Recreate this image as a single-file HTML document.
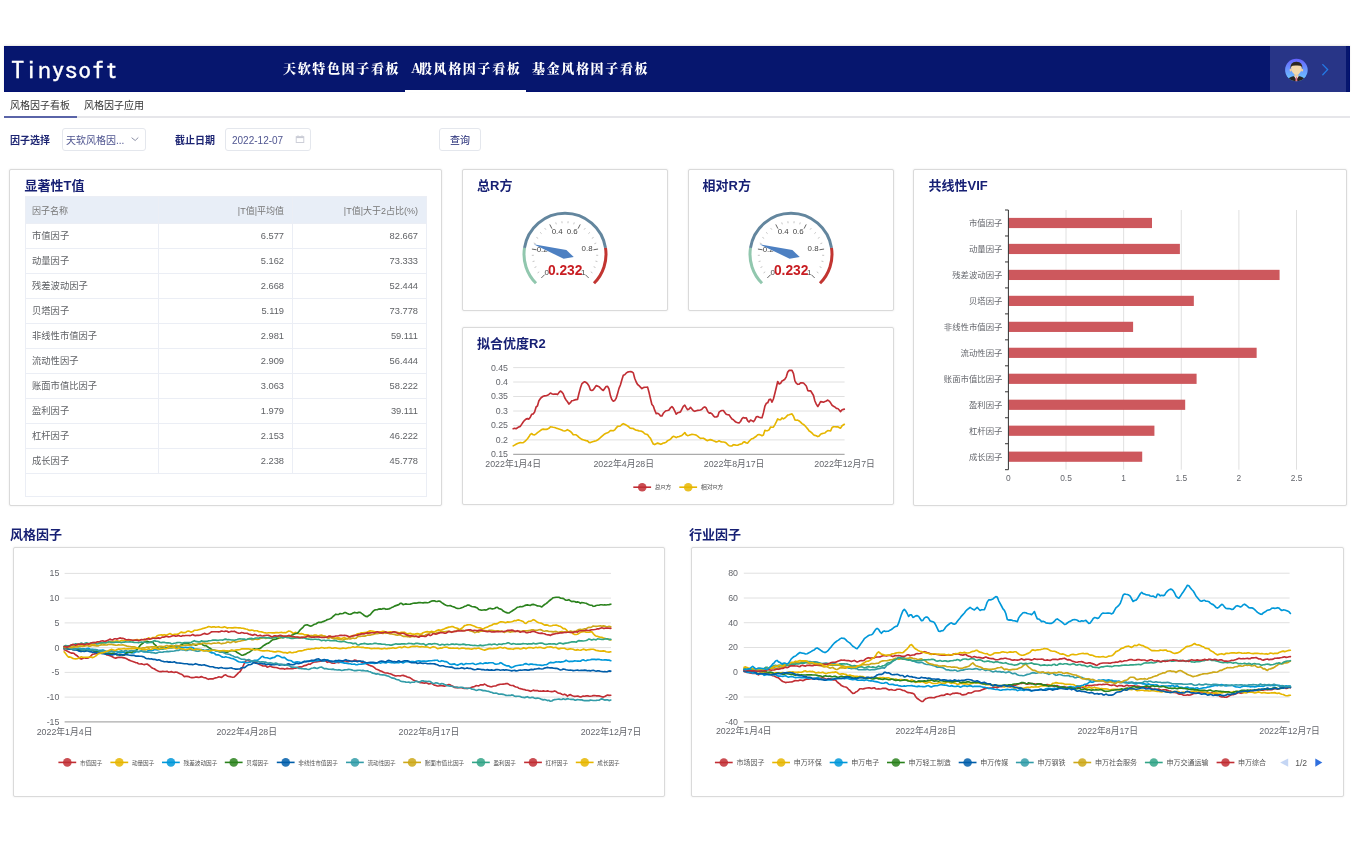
<!DOCTYPE html>
<html lang="zh-CN">
<head>
<meta charset="utf-8">
<title>Tinysoft</title>
<style>
*{box-sizing:border-box;margin:0;padding:0}
html,body{width:1352px;height:856px;overflow:hidden;background:#fff}
body{position:relative;font-family:"Liberation Sans","Noto Sans CJK SC",sans-serif;color:#333}
.abs{position:absolute}
#hdr{left:4px;top:46px;width:1346px;height:46px;background:#06166e;border:1px solid #021070;box-shadow:0 -1px 1.5px rgba(110,100,80,0.15)}
#logo{left:11px;top:55.5px;-webkit-text-stroke:0.35px #fff;font-family:"IPAGothic","Liberation Mono",monospace;font-size:26.8px;color:#fff;line-height:32px;letter-spacing:0;transform:scaleY(0.9);transform-origin:0 0}
.nav{top:57.8px;font-family:"Noto Serif CJK SC",serif;font-weight:900;font-size:13px;color:#fff;line-height:20px;letter-spacing:1.65px;white-space:nowrap}
#navline{left:405px;top:90px;width:121px;height:2px;background:#fff}
#user{left:1270px;top:46px;width:76px;height:46px;background:#283587}
.tab{top:97.5px;font-size:10px;line-height:16px;color:#333;white-space:nowrap}
#tabline{left:4px;top:116px;width:1346px;height:2px;background:#e6e6ea}
#tabact{left:4px;top:115.5px;width:73px;height:2px;background:#5a64a8}
.lbl{top:132.5px;font-size:10px;line-height:16px;font-weight:bold;color:#1c2472;white-space:nowrap}
.inp{top:128px;height:23px;border:1px solid #e4e7ed;border-radius:3px;background:#fff;font-size:10px;color:#4f5590;line-height:21px;padding-top:0.7px;white-space:nowrap}
.card{background:#fff;border:1px solid #dadada;border-radius:2px;box-shadow:0 0 2px rgba(0,0,0,.10)}
.ctitle{font-size:13px;font-weight:bold;color:#172074;line-height:16px;white-space:nowrap}
#tt{left:25px;top:196px;width:402px;border-collapse:collapse;font-size:9.3px;color:#606266;table-layout:fixed}
#tt td{border:1px solid #ebeef5;height:25px;padding:0 8px;text-align:right;white-space:nowrap;line-height:12px}
#tt td:first-child{text-align:left;padding-left:6px;width:133px}
#tt td:nth-child(2){width:134px}
#tt tr.th td{height:27px;background:#e8eef7;color:#777;font-size:9px;padding-top:1px}
</style>
</head>
<body>
<div id="hdr" class="abs"></div>
<div id="logo" class="abs">Tinysoft</div>
<div class="abs nav" style="left:283px">天软特色因子看板</div>
<div class="abs nav" style="left:411px"><span style="letter-spacing:-2px">A</span>股风格因子看板</div>
<div class="abs nav" style="left:532px">基金风格因子看板</div>
<div id="navline" class="abs"></div>
<div id="user" class="abs"></div>
<svg class="abs" style="left:1284px;top:58px" width="24" height="24" viewBox="0 0 24 24"><defs><linearGradient id="ag" x1="0" y1="0" x2="0" y2="1"><stop offset="0" stop-color="#6561ff"/><stop offset="1" stop-color="#6fd0ff"/></linearGradient><clipPath id="ac"><circle cx="12.4" cy="12" r="11.3"/></clipPath></defs><circle cx="12.4" cy="12" r="11.3" fill="url(#ag)"/><g clip-path="url(#ac)"><path d="M3.5,24 Q4,19 9,18.2 L15.8,18.2 Q20.8,19 21.3,24 Z" fill="#2a2522"/><path d="M10.2,18 L14.6,18 L13.4,20.5 L11.4,20.5 Z" fill="#f4f4f4"/><path d="M11.8,18.6 L13,18.6 L13.4,23.5 L12.4,24 L11.4,23.5 Z" fill="#e8788a"/></g><rect x="10.4" y="14" width="4" height="4.6" fill="#e9c99b"/><ellipse cx="6.7" cy="12" rx="1.1" ry="1.5" fill="#efcfa2"/><ellipse cx="18.1" cy="12" rx="1.1" ry="1.5" fill="#efcfa2"/><path d="M6.9,6.5 Q6.9,16.7 12.4,16.8 Q17.9,16.7 17.9,6.5 Z" fill="#f3d8ab"/><path d="M6.5,11.5 Q5.6,3.6 12.4,3.7 Q19.2,3.6 18.3,11.5 L17.7,8.8 Q16.8,7.3 12.4,7.5 Q8,7.3 7.1,8.8 Z" fill="#2b2520"/></svg><svg class="abs" style="left:1320px;top:62px" width="10" height="16" viewBox="0 0 10 16"><path d="M2.8,2.6 L7.6,7.6 L2.8,12.8" stroke="#2379e6" stroke-width="1.35" fill="none" stroke-linecap="round"/></svg>

<div class="abs tab" style="left:10px">风格因子看板</div>
<div class="abs tab" style="left:84px">风格因子应用</div>
<div id="tabline" class="abs"></div>
<div id="tabact" class="abs"></div>

<div class="abs lbl" style="left:10px">因子选择</div>
<div class="abs inp" style="left:62px;width:84px;padding-left:3px">天软风格因...</div>
<svg class="abs" style="left:129px;top:134px" width="12" height="10" viewBox="0 0 12 10"><path d="M2.6,3.7 L6.2,6.5 L9.3,3.5" stroke="#8c90a6" stroke-width="1" fill="none"/></svg>
<div class="abs lbl" style="left:175px">截止日期</div>
<div class="abs inp" style="left:225px;width:86px;padding-left:6px">2022-12-07</div>
<svg class="abs" style="left:294px;top:133px" width="12" height="12" viewBox="0 0 12 12"><rect x="2.2" y="3.7" width="7.6" height="5.8" stroke="#c8cad4" stroke-width="0.9" fill="none"/><line x1="2.2" y1="4.4" x2="9.8" y2="4.4" stroke="#c8cad4" stroke-width="1.4"/><line x1="4" y1="2.2" x2="4" y2="3.7" stroke="#c8cad4" stroke-width="0.8"/><line x1="8" y1="2.2" x2="8" y2="3.7" stroke="#c8cad4" stroke-width="0.8"/></svg>
<div class="abs inp" style="left:439px;width:42px;text-align:center;color:#1c2472">查询</div>

<div class="abs card" style="left:9px;top:169px;width:433px;height:337px"></div>
<div class="abs card" style="left:462px;top:169px;width:206px;height:142px"></div>
<div class="abs card" style="left:688px;top:169px;width:206px;height:142px"></div>
<div class="abs card" style="left:462px;top:327px;width:432px;height:178px"></div>
<div class="abs card" style="left:913px;top:169px;width:434px;height:337px"></div>
<div class="abs ctitle" style="left:24.5px;top:177.8px">显著性T值</div>
<div class="abs ctitle" style="left:477px;top:178px">总R方</div>
<div class="abs ctitle" style="left:702.5px;top:178px">相对R方</div>
<div class="abs ctitle" style="left:928.5px;top:178px">共线性VIF</div>
<div class="abs ctitle" style="left:477px;top:335.5px">拟合优度R2</div>
<table id="tt" class="abs"><tr class="th"><td>因子名称</td><td>|T值|平均值</td><td>|T值|大于2占比(%)</td></tr><tr><td>市值因子</td><td>6.577</td><td>82.667</td></tr><tr><td>动量因子</td><td>5.162</td><td>73.333</td></tr><tr><td>残差波动因子</td><td>2.668</td><td>52.444</td></tr><tr><td>贝塔因子</td><td>5.119</td><td>73.778</td></tr><tr><td>非线性市值因子</td><td>2.981</td><td>59.111</td></tr><tr><td>流动性因子</td><td>2.909</td><td>56.444</td></tr><tr><td>账面市值比因子</td><td>3.063</td><td>58.222</td></tr><tr><td>盈利因子</td><td>1.979</td><td>39.111</td></tr><tr><td>杠杆因子</td><td>2.153</td><td>46.222</td></tr><tr><td>成长因子</td><td>2.238</td><td>45.778</td></tr></table><div class="abs" style="left:25px;top:472px;width:402px;height:25px;border:1px solid #ebeef5;border-top:none"></div>
<svg class="abs" style="left:462.4px;top:169px" width="206" height="141" viewBox="0 0 206 141" font-family="Liberation Sans, sans-serif"><path d="M74.01,114.29 A41.0,41.0 0 0 1 62.50,78.89" stroke="#91c7ae" stroke-width="3" fill="none"/><path d="M62.50,78.89 A41.0,41.0 0 0 1 143.50,78.89" stroke="#63869e" stroke-width="3" fill="none"/><path d="M143.50,78.89 A41.0,41.0 0 0 1 131.99,114.29" stroke="#c23531" stroke-width="3" fill="none"/><line x1="79.31" y1="108.99" x2="82.64" y2="105.66" stroke="#555" stroke-width="0.9"/><line x1="75.54" y1="103.96" x2="77.20" y2="102.84" stroke="#aaa" stroke-width="0.7"/><line x1="72.53" y1="98.49" x2="74.37" y2="97.69" stroke="#aaa" stroke-width="0.7"/><line x1="70.60" y1="92.54" x2="72.55" y2="92.11" stroke="#aaa" stroke-width="0.7"/><line x1="69.82" y1="86.34" x2="71.82" y2="86.28" stroke="#aaa" stroke-width="0.7"/><line x1="69.91" y1="80.06" x2="74.55" y2="80.79" stroke="#555" stroke-width="0.9"/><line x1="71.76" y1="74.05" x2="73.64" y2="74.73" stroke="#aaa" stroke-width="0.7"/><line x1="74.42" y1="68.40" x2="76.14" y2="69.42" stroke="#aaa" stroke-width="0.7"/><line x1="78.10" y1="63.34" x2="79.60" y2="64.67" stroke="#aaa" stroke-width="0.7"/><line x1="82.65" y1="59.07" x2="83.88" y2="60.65" stroke="#aaa" stroke-width="0.7"/><line x1="87.79" y1="55.45" x2="89.93" y2="59.64" stroke="#555" stroke-width="0.9"/><line x1="93.74" y1="53.42" x2="94.30" y2="55.34" stroke="#aaa" stroke-width="0.7"/><line x1="99.88" y1="52.25" x2="100.06" y2="54.24" stroke="#aaa" stroke-width="0.7"/><line x1="106.12" y1="52.25" x2="105.94" y2="54.24" stroke="#aaa" stroke-width="0.7"/><line x1="112.26" y1="53.42" x2="111.70" y2="55.34" stroke="#aaa" stroke-width="0.7"/><line x1="118.21" y1="55.45" x2="116.07" y2="59.64" stroke="#555" stroke-width="0.9"/><line x1="123.35" y1="59.07" x2="122.12" y2="60.65" stroke="#aaa" stroke-width="0.7"/><line x1="127.90" y1="63.34" x2="126.40" y2="64.67" stroke="#aaa" stroke-width="0.7"/><line x1="131.58" y1="68.40" x2="129.86" y2="69.42" stroke="#aaa" stroke-width="0.7"/><line x1="134.24" y1="74.05" x2="132.36" y2="74.73" stroke="#aaa" stroke-width="0.7"/><line x1="136.09" y1="80.06" x2="131.45" y2="80.79" stroke="#555" stroke-width="0.9"/><line x1="136.18" y1="86.34" x2="134.18" y2="86.28" stroke="#aaa" stroke-width="0.7"/><line x1="135.40" y1="92.54" x2="133.45" y2="92.11" stroke="#aaa" stroke-width="0.7"/><line x1="133.47" y1="98.49" x2="131.63" y2="97.69" stroke="#aaa" stroke-width="0.7"/><line x1="130.46" y1="103.96" x2="128.80" y2="102.84" stroke="#aaa" stroke-width="0.7"/><line x1="126.69" y1="108.99" x2="123.36" y2="105.66" stroke="#555" stroke-width="0.9"/><text x="84.60" y="105.80" text-anchor="middle" font-size="7.9" fill="#444">0</text><text x="80.20" y="83.00" text-anchor="middle" font-size="7.9" fill="#444">0.2</text><text x="95.20" y="65.10" text-anchor="middle" font-size="7.9" fill="#444">0.4</text><text x="110.20" y="65.10" text-anchor="middle" font-size="7.9" fill="#444">0.6</text><text x="125.10" y="82.20" text-anchor="middle" font-size="7.9" fill="#444">0.8</text><text x="121.10" y="105.80" text-anchor="middle" font-size="7.9" fill="#444">1</text><path d="M111.77,88.09 L104.39,80.92 L71.55,75.30 L101.61,89.68 Z" fill="#4d80c2"/><text x="103.20" y="105.90" text-anchor="middle" font-size="13.8" font-weight="bold" fill="#c81d22">0.232</text></svg><svg class="abs" style="left:687.6px;top:169px" width="206" height="141" viewBox="0 0 206 141" font-family="Liberation Sans, sans-serif"><path d="M74.01,114.29 A41.0,41.0 0 0 1 62.50,78.89" stroke="#91c7ae" stroke-width="3" fill="none"/><path d="M62.50,78.89 A41.0,41.0 0 0 1 143.50,78.89" stroke="#63869e" stroke-width="3" fill="none"/><path d="M143.50,78.89 A41.0,41.0 0 0 1 131.99,114.29" stroke="#c23531" stroke-width="3" fill="none"/><line x1="79.31" y1="108.99" x2="82.64" y2="105.66" stroke="#555" stroke-width="0.9"/><line x1="75.54" y1="103.96" x2="77.20" y2="102.84" stroke="#aaa" stroke-width="0.7"/><line x1="72.53" y1="98.49" x2="74.37" y2="97.69" stroke="#aaa" stroke-width="0.7"/><line x1="70.60" y1="92.54" x2="72.55" y2="92.11" stroke="#aaa" stroke-width="0.7"/><line x1="69.82" y1="86.34" x2="71.82" y2="86.28" stroke="#aaa" stroke-width="0.7"/><line x1="69.91" y1="80.06" x2="74.55" y2="80.79" stroke="#555" stroke-width="0.9"/><line x1="71.76" y1="74.05" x2="73.64" y2="74.73" stroke="#aaa" stroke-width="0.7"/><line x1="74.42" y1="68.40" x2="76.14" y2="69.42" stroke="#aaa" stroke-width="0.7"/><line x1="78.10" y1="63.34" x2="79.60" y2="64.67" stroke="#aaa" stroke-width="0.7"/><line x1="82.65" y1="59.07" x2="83.88" y2="60.65" stroke="#aaa" stroke-width="0.7"/><line x1="87.79" y1="55.45" x2="89.93" y2="59.64" stroke="#555" stroke-width="0.9"/><line x1="93.74" y1="53.42" x2="94.30" y2="55.34" stroke="#aaa" stroke-width="0.7"/><line x1="99.88" y1="52.25" x2="100.06" y2="54.24" stroke="#aaa" stroke-width="0.7"/><line x1="106.12" y1="52.25" x2="105.94" y2="54.24" stroke="#aaa" stroke-width="0.7"/><line x1="112.26" y1="53.42" x2="111.70" y2="55.34" stroke="#aaa" stroke-width="0.7"/><line x1="118.21" y1="55.45" x2="116.07" y2="59.64" stroke="#555" stroke-width="0.9"/><line x1="123.35" y1="59.07" x2="122.12" y2="60.65" stroke="#aaa" stroke-width="0.7"/><line x1="127.90" y1="63.34" x2="126.40" y2="64.67" stroke="#aaa" stroke-width="0.7"/><line x1="131.58" y1="68.40" x2="129.86" y2="69.42" stroke="#aaa" stroke-width="0.7"/><line x1="134.24" y1="74.05" x2="132.36" y2="74.73" stroke="#aaa" stroke-width="0.7"/><line x1="136.09" y1="80.06" x2="131.45" y2="80.79" stroke="#555" stroke-width="0.9"/><line x1="136.18" y1="86.34" x2="134.18" y2="86.28" stroke="#aaa" stroke-width="0.7"/><line x1="135.40" y1="92.54" x2="133.45" y2="92.11" stroke="#aaa" stroke-width="0.7"/><line x1="133.47" y1="98.49" x2="131.63" y2="97.69" stroke="#aaa" stroke-width="0.7"/><line x1="130.46" y1="103.96" x2="128.80" y2="102.84" stroke="#aaa" stroke-width="0.7"/><line x1="126.69" y1="108.99" x2="123.36" y2="105.66" stroke="#555" stroke-width="0.9"/><text x="84.60" y="105.80" text-anchor="middle" font-size="7.9" fill="#444">0</text><text x="80.20" y="83.00" text-anchor="middle" font-size="7.9" fill="#444">0.2</text><text x="95.20" y="65.10" text-anchor="middle" font-size="7.9" fill="#444">0.4</text><text x="110.20" y="65.10" text-anchor="middle" font-size="7.9" fill="#444">0.6</text><text x="125.10" y="82.20" text-anchor="middle" font-size="7.9" fill="#444">0.8</text><text x="121.10" y="105.80" text-anchor="middle" font-size="7.9" fill="#444">1</text><path d="M111.77,88.09 L104.39,80.92 L71.55,75.30 L101.61,89.68 Z" fill="#4d80c2"/><text x="103.20" y="105.90" text-anchor="middle" font-size="13.8" font-weight="bold" fill="#c81d22">0.232</text></svg>
<svg class="abs" style="left:0;top:0" width="1352" height="856" viewBox="0 0 1352 856" font-family="Liberation Sans, Noto Sans CJK SC, sans-serif"><line x1="1066.03" y1="210.0" x2="1066.03" y2="469.7" stroke="#e0e0e0" stroke-width="1"/><line x1="1123.65" y1="210.0" x2="1123.65" y2="469.7" stroke="#e0e0e0" stroke-width="1"/><line x1="1181.28" y1="210.0" x2="1181.28" y2="469.7" stroke="#e0e0e0" stroke-width="1"/><line x1="1238.90" y1="210.0" x2="1238.90" y2="469.7" stroke="#e0e0e0" stroke-width="1"/><line x1="1296.53" y1="210.0" x2="1296.53" y2="469.7" stroke="#e0e0e0" stroke-width="1"/><rect x="1008.4" y="217.89" width="143.60" height="10.2" fill="#cd585d"/><text x="1002.4" y="225.99" text-anchor="end" font-size="8.4" fill="#64666c">市值因子</text><rect x="1008.4" y="243.85" width="171.49" height="10.2" fill="#cd585d"/><text x="1002.4" y="251.95" text-anchor="end" font-size="8.4" fill="#64666c">动量因子</text><rect x="1008.4" y="269.82" width="271.18" height="10.2" fill="#cd585d"/><text x="1002.4" y="277.93" text-anchor="end" font-size="8.4" fill="#64666c">残差波动因子</text><rect x="1008.4" y="295.79" width="185.44" height="10.2" fill="#cd585d"/><text x="1002.4" y="303.89" text-anchor="end" font-size="8.4" fill="#64666c">贝塔因子</text><rect x="1008.4" y="321.76" width="124.70" height="10.2" fill="#cd585d"/><text x="1002.4" y="329.87" text-anchor="end" font-size="8.4" fill="#64666c">非线性市值因子</text><rect x="1008.4" y="347.73" width="248.25" height="10.2" fill="#cd585d"/><text x="1002.4" y="355.83" text-anchor="end" font-size="8.4" fill="#64666c">流动性因子</text><rect x="1008.4" y="373.70" width="188.20" height="10.2" fill="#cd585d"/><text x="1002.4" y="381.81" text-anchor="end" font-size="8.4" fill="#64666c">账面市值比因子</text><rect x="1008.4" y="399.67" width="176.79" height="10.2" fill="#cd585d"/><text x="1002.4" y="407.77" text-anchor="end" font-size="8.4" fill="#64666c">盈利因子</text><rect x="1008.4" y="425.64" width="146.02" height="10.2" fill="#cd585d"/><text x="1002.4" y="433.75" text-anchor="end" font-size="8.4" fill="#64666c">杠杆因子</text><rect x="1008.4" y="451.61" width="133.81" height="10.2" fill="#cd585d"/><text x="1002.4" y="459.71" text-anchor="end" font-size="8.4" fill="#64666c">成长因子</text><line x1="1005" y1="210.00" x2="1008.4" y2="210.00" stroke="#333" stroke-width="1"/><line x1="1005" y1="235.97" x2="1008.4" y2="235.97" stroke="#333" stroke-width="1"/><line x1="1005" y1="261.94" x2="1008.4" y2="261.94" stroke="#333" stroke-width="1"/><line x1="1005" y1="287.91" x2="1008.4" y2="287.91" stroke="#333" stroke-width="1"/><line x1="1005" y1="313.88" x2="1008.4" y2="313.88" stroke="#333" stroke-width="1"/><line x1="1005" y1="339.85" x2="1008.4" y2="339.85" stroke="#333" stroke-width="1"/><line x1="1005" y1="365.82" x2="1008.4" y2="365.82" stroke="#333" stroke-width="1"/><line x1="1005" y1="391.79" x2="1008.4" y2="391.79" stroke="#333" stroke-width="1"/><line x1="1005" y1="417.76" x2="1008.4" y2="417.76" stroke="#333" stroke-width="1"/><line x1="1005" y1="443.73" x2="1008.4" y2="443.73" stroke="#333" stroke-width="1"/><line x1="1005" y1="469.70" x2="1008.4" y2="469.70" stroke="#333" stroke-width="1"/><line x1="1008.4" y1="210.0" x2="1008.4" y2="469.7" stroke="#333" stroke-width="1"/><text x="1008.40" y="481.3" text-anchor="middle" font-size="8.4" fill="#64666c">0</text><text x="1066.03" y="481.3" text-anchor="middle" font-size="8.4" fill="#64666c">0.5</text><text x="1123.65" y="481.3" text-anchor="middle" font-size="8.4" fill="#64666c">1</text><text x="1181.28" y="481.3" text-anchor="middle" font-size="8.4" fill="#64666c">1.5</text><text x="1238.90" y="481.3" text-anchor="middle" font-size="8.4" fill="#64666c">2</text><text x="1296.53" y="481.3" text-anchor="middle" font-size="8.4" fill="#64666c">2.5</text></svg>
<svg class="abs" style="left:0;top:0" width="1352" height="856" viewBox="0 0 1352 856" font-family="Liberation Sans, Noto Sans CJK SC, sans-serif"><line x1="513.2" y1="367.6" x2="844.6" y2="367.6" stroke="#e0e0e0" stroke-width="1"/><text x="508.0" y="370.5" text-anchor="end" font-size="8.8" fill="#64666c">0.45</text><line x1="513.2" y1="382.0" x2="844.6" y2="382.0" stroke="#e0e0e0" stroke-width="1"/><text x="508.0" y="384.9" text-anchor="end" font-size="8.8" fill="#64666c">0.4</text><line x1="513.2" y1="396.5" x2="844.6" y2="396.5" stroke="#e0e0e0" stroke-width="1"/><text x="508.0" y="399.4" text-anchor="end" font-size="8.8" fill="#64666c">0.35</text><line x1="513.2" y1="411.0" x2="844.6" y2="411.0" stroke="#e0e0e0" stroke-width="1"/><text x="508.0" y="413.9" text-anchor="end" font-size="8.8" fill="#64666c">0.3</text><line x1="513.2" y1="425.5" x2="844.6" y2="425.5" stroke="#e0e0e0" stroke-width="1"/><text x="508.0" y="428.4" text-anchor="end" font-size="8.8" fill="#64666c">0.25</text><line x1="513.2" y1="439.9" x2="844.6" y2="439.9" stroke="#e0e0e0" stroke-width="1"/><text x="508.0" y="442.8" text-anchor="end" font-size="8.8" fill="#64666c">0.2</text><text x="508.0" y="457.3" text-anchor="end" font-size="8.8" fill="#64666c">0.15</text><line x1="513.2" y1="454.4" x2="844.6" y2="454.4" stroke="#ababab" stroke-width="1.4"/><text x="513.2" y="467.1" text-anchor="middle" font-size="8.8" fill="#64666c">2022年1月4日</text><text x="623.7" y="467.1" text-anchor="middle" font-size="8.8" fill="#64666c">2022年4月28日</text><text x="734.1" y="467.1" text-anchor="middle" font-size="8.8" fill="#64666c">2022年8月17日</text><text x="844.6" y="467.1" text-anchor="middle" font-size="8.8" fill="#64666c">2022年12月7日</text><polyline points="513.2,445.9 514.6,445.1 516.0,444.3 517.5,443.5 518.9,443.0 520.3,442.6 521.8,442.8 523.2,442.6 524.6,441.6 526.0,440.3 527.5,438.7 528.9,436.8 530.3,434.4 531.8,433.6 533.2,434.8 534.6,434.9 536.1,433.8 537.5,432.7 538.9,431.7 540.3,430.6 541.8,429.5 543.2,429.1 544.6,429.4 546.1,429.4 547.5,429.1 548.9,428.3 550.4,426.9 551.8,427.0 553.2,427.3 554.6,427.5 556.1,428.1 557.5,428.5 558.9,429.0 560.4,429.5 561.8,430.1 563.2,430.7 564.7,431.0 566.1,430.5 567.5,429.7 568.9,430.6 570.4,431.4 571.8,432.8 573.2,434.8 574.7,434.7 576.1,434.8 577.5,435.9 579.0,437.4 580.4,438.4 581.8,439.4 583.2,439.8 584.7,440.2 586.1,440.6 587.5,440.9 589.0,442.4 590.4,442.6 591.8,442.0 593.3,441.5 594.7,441.1 596.1,440.8 597.5,440.1 599.0,438.8 600.4,437.7 601.8,436.4 603.3,435.1 604.7,433.9 606.1,433.2 607.6,432.8 609.0,431.8 610.4,430.5 611.8,430.6 613.3,430.7 614.7,429.9 616.1,428.1 617.6,426.4 619.0,426.3 620.4,426.0 621.9,424.5 623.3,423.7 624.7,424.2 626.1,425.1 627.6,425.9 629.0,427.0 630.4,428.3 631.9,428.4 633.3,428.5 634.7,429.6 636.2,430.2 637.6,430.4 639.0,430.9 640.4,431.0 641.9,431.4 643.3,432.3 644.7,433.8 646.2,434.2 647.6,434.6 649.0,436.8 650.5,438.4 651.9,441.4 653.3,444.0 654.7,444.6 656.2,443.8 657.6,443.1 659.0,443.6 660.5,444.3 661.9,443.9 663.3,443.0 664.8,442.9 666.2,442.1 667.6,440.7 669.0,440.1 670.5,439.3 671.9,437.5 673.3,436.3 674.8,436.8 676.2,437.6 677.6,436.8 679.1,436.6 680.5,436.0 681.9,435.4 683.3,434.2 684.8,432.5 686.2,434.8 687.6,435.6 689.1,435.3 690.5,434.7 691.9,434.4 693.4,434.5 694.8,434.8 696.2,435.1 697.6,436.1 699.1,437.4 700.5,438.4 701.9,438.3 703.4,438.2 704.8,439.0 706.2,440.1 707.7,440.6 709.1,439.9 710.5,439.6 711.9,440.1 713.4,440.7 714.8,441.2 716.2,442.0 717.7,441.4 719.1,440.8 720.5,441.6 722.0,442.0 723.4,442.0 724.8,442.2 726.2,443.0 727.7,444.6 729.1,445.7 730.5,446.0 732.0,445.9 733.4,444.7 734.8,444.9 736.3,445.2 737.7,445.2 739.1,444.5 740.5,444.1 742.0,443.7 743.4,442.1 744.8,441.9 746.3,443.0 747.7,443.1 749.1,441.3 750.6,439.7 752.0,438.7 753.4,438.4 754.8,437.2 756.3,436.2 757.7,434.7 759.1,434.5 760.6,435.0 762.0,435.7 763.4,435.0 764.9,430.3 766.3,430.7 767.7,430.6 769.1,429.8 770.6,427.0 772.0,427.2 773.4,427.2 774.9,424.6 776.3,421.9 777.7,418.9 779.2,419.7 780.6,419.8 782.0,417.9 783.4,418.9 784.9,418.0 786.3,416.6 787.7,415.1 789.2,414.8 790.6,414.2 792.0,413.9 793.5,416.2 794.9,419.9 796.3,420.2 797.7,420.1 799.2,421.0 800.6,422.1 802.0,423.6 803.5,424.5 804.9,425.7 806.3,427.3 807.8,429.1 809.2,431.0 810.6,431.8 812.0,433.0 813.5,434.7 814.9,435.4 816.3,435.7 817.8,436.6 819.2,436.0 820.6,434.2 822.1,433.6 823.5,433.3 824.9,433.0 826.3,431.7 827.8,430.6 829.2,430.8 830.6,430.9 832.1,427.5 833.5,426.7 834.9,426.8 836.4,426.9 837.8,426.7 839.2,427.6 840.6,428.1 842.1,425.7 844.3,424.3" fill="none" stroke="#e6b600" stroke-width="1.65" stroke-linejoin="round" stroke-linecap="round"/><polyline points="513.2,428.7 514.6,428.3 516.0,428.7 517.5,427.8 518.9,426.9 520.3,426.4 521.8,424.1 523.2,422.0 524.6,420.3 526.0,419.1 527.5,418.6 528.9,419.1 530.3,417.2 531.8,414.2 533.2,413.9 534.6,412.0 536.1,407.0 537.5,405.8 538.9,400.8 540.3,398.7 541.8,397.2 543.2,396.3 544.6,395.9 546.1,395.7 547.5,395.3 548.9,394.3 550.4,393.0 551.8,393.7 553.2,394.3 554.6,394.1 556.1,394.0 557.5,394.6 558.9,392.6 560.4,391.0 561.8,392.0 563.2,393.8 564.7,397.8 566.1,400.0 567.5,401.8 568.9,404.1 570.4,402.7 571.8,400.8 573.2,400.5 574.7,399.9 576.1,399.6 577.5,399.5 579.0,393.3 580.4,388.1 581.8,383.9 583.2,382.6 584.7,381.8 586.1,382.5 587.5,383.7 589.0,386.0 590.4,390.0 591.8,390.5 593.3,389.7 594.7,387.8 596.1,385.6 597.5,386.1 599.0,386.7 600.4,388.1 601.8,389.5 603.3,390.5 604.7,388.5 606.1,386.5 607.6,386.3 609.0,389.0 610.4,395.6 611.8,399.5 613.3,401.2 614.7,400.6 616.1,398.4 617.6,393.4 619.0,388.4 620.4,385.0 621.9,379.8 623.3,375.3 624.7,374.7 626.1,373.2 627.6,372.1 629.0,371.7 630.4,371.6 631.9,371.9 633.3,372.9 634.7,378.3 636.2,382.0 637.6,384.5 639.0,385.7 640.4,387.1 641.9,388.6 643.3,387.6 644.7,387.2 646.2,387.2 647.6,387.1 649.0,392.3 650.5,398.7 651.9,404.5 653.3,406.0 654.7,410.2 656.2,413.6 657.6,413.3 659.0,414.1 660.5,416.0 661.9,416.0 663.3,413.3 664.8,411.7 666.2,410.7 667.6,410.5 669.0,410.0 670.5,407.8 671.9,406.5 673.3,408.1 674.8,411.2 676.2,414.2 677.6,412.8 679.1,412.4 680.5,411.9 681.9,409.1 683.3,406.4 684.8,405.2 686.2,407.6 687.6,409.7 689.1,409.0 690.5,407.4 691.9,409.0 693.4,410.8 694.8,411.3 696.2,410.7 697.6,410.4 699.1,410.2 700.5,410.0 701.9,409.3 703.4,407.5 704.8,406.9 706.2,408.0 707.7,411.4 709.1,413.1 710.5,412.9 711.9,413.7 713.4,415.8 714.8,417.0 716.2,416.9 717.7,416.4 719.1,412.1 720.5,411.1 722.0,410.5 723.4,410.5 724.8,412.4 726.2,414.3 727.7,414.8 729.1,414.9 730.5,417.0 732.0,419.1 733.4,419.8 734.8,421.3 736.3,422.3 737.7,422.7 739.1,422.9 740.5,421.5 742.0,418.6 743.4,417.5 744.8,418.1 746.3,417.8 747.7,420.9 749.1,422.0 750.6,420.1 752.0,420.7 753.4,421.7 754.8,419.9 756.3,416.9 757.7,416.5 759.1,417.2 760.6,417.6 762.0,417.7 763.4,412.9 764.9,406.2 766.3,403.3 767.7,402.8 769.1,399.6 770.6,399.2 772.0,402.1 773.4,399.0 774.9,393.3 776.3,387.5 777.7,381.5 779.2,384.0 780.6,383.2 782.0,381.0 783.4,380.2 784.9,379.2 786.3,376.8 787.7,372.1 789.2,370.4 790.6,370.3 792.0,370.3 793.5,373.7 794.9,380.9 796.3,383.2 797.7,384.3 799.2,384.2 800.6,382.9 802.0,382.7 803.5,383.0 804.9,384.5 806.3,386.0 807.8,390.6 809.2,390.9 810.6,390.8 812.0,393.0 813.5,395.5 814.9,401.0 816.3,404.1 817.8,406.5 819.2,404.2 820.6,401.6 822.1,401.9 823.5,402.2 824.9,401.6 826.3,400.9 827.8,400.1 829.2,401.1 830.6,402.8 832.1,405.3 833.5,406.2 834.9,407.0 836.4,408.4 837.8,408.5 839.2,410.0 840.6,411.6 842.1,409.7 844.3,409.1" fill="none" stroke="#c12e34" stroke-width="1.65" stroke-linejoin="round" stroke-linecap="round"/><line x1="633.3" y1="487.2" x2="651.1" y2="487.2" stroke="#c12e34" stroke-width="1.6"/><circle cx="642.2" cy="487.2" r="4.3" fill="#c12e34" fill-opacity="0.85"/><text x="654.8" y="489.4" font-size="5.8" fill="#555" textLength="16.6" lengthAdjust="spacingAndGlyphs">总R方</text><line x1="679.3" y1="487.2" x2="697.1" y2="487.2" stroke="#e6b600" stroke-width="1.6"/><circle cx="688.2" cy="487.2" r="4.3" fill="#e6b600" fill-opacity="0.85"/><text x="700.8" y="489.4" font-size="5.8" fill="#555" textLength="22.6" lengthAdjust="spacingAndGlyphs">相对R方</text></svg>

<div class="abs ctitle" style="left:10px;top:527px">风格因子</div>
<div class="abs ctitle" style="left:689px;top:527px">行业因子</div>
<div class="abs card" style="left:13px;top:547px;width:652px;height:250px"></div>
<div class="abs card" style="left:691px;top:547px;width:653px;height:250px"></div>
<svg class="abs" style="left:0;top:0" width="1352" height="856" viewBox="0 0 1352 856" font-family="Liberation Sans, Noto Sans CJK SC, sans-serif"><line x1="64.6" y1="573.4" x2="611.0" y2="573.4" stroke="#e0e0e0" stroke-width="1"/><text x="59.4" y="576.2" text-anchor="end" font-size="8.8" fill="#64666c">15</text><line x1="64.6" y1="598.1" x2="611.0" y2="598.1" stroke="#e0e0e0" stroke-width="1"/><text x="59.4" y="601.0" text-anchor="end" font-size="8.8" fill="#64666c">10</text><line x1="64.6" y1="622.9" x2="611.0" y2="622.9" stroke="#e0e0e0" stroke-width="1"/><text x="59.4" y="625.8" text-anchor="end" font-size="8.8" fill="#64666c">5</text><line x1="64.6" y1="647.6" x2="611.0" y2="647.6" stroke="#e0e0e0" stroke-width="1"/><text x="59.4" y="650.5" text-anchor="end" font-size="8.8" fill="#64666c">0</text><line x1="64.6" y1="672.4" x2="611.0" y2="672.4" stroke="#e0e0e0" stroke-width="1"/><text x="59.4" y="675.2" text-anchor="end" font-size="8.8" fill="#64666c">-5</text><line x1="64.6" y1="697.1" x2="611.0" y2="697.1" stroke="#e0e0e0" stroke-width="1"/><text x="59.4" y="700.0" text-anchor="end" font-size="8.8" fill="#64666c">-10</text><text x="59.4" y="724.8" text-anchor="end" font-size="8.8" fill="#64666c">-15</text><line x1="64.6" y1="721.9" x2="611.0" y2="721.9" stroke="#ababab" stroke-width="1.4"/><text x="64.6" y="734.6" text-anchor="middle" font-size="8.8" fill="#64666c">2022年1月4日</text><text x="246.7" y="734.6" text-anchor="middle" font-size="8.8" fill="#64666c">2022年4月28日</text><text x="428.9" y="734.6" text-anchor="middle" font-size="8.8" fill="#64666c">2022年8月17日</text><text x="611.0" y="734.6" text-anchor="middle" font-size="8.8" fill="#64666c">2022年12月7日</text><polyline points="64.1,649.7 65.6,650.3 67.0,651.0 68.4,651.7 69.9,652.5 71.3,653.1 72.7,653.0 74.2,653.6 75.6,654.8 77.0,655.7 78.4,657.0 79.9,658.4 81.3,659.1 82.7,658.5 84.2,657.8 85.6,658.1 87.0,658.2 88.5,657.9 89.9,657.0 91.3,655.5 92.7,654.2 94.2,654.0 95.6,653.6 97.0,653.2 98.5,653.0 99.9,652.2 101.3,651.8 102.8,653.1 104.2,653.5 105.6,654.0 107.0,655.0 108.5,655.1 109.9,655.6 111.3,656.3 112.8,657.0 114.2,657.7 115.6,658.1 117.1,657.6 118.5,657.3 119.9,657.3 121.3,657.3 122.8,657.6 124.2,657.9 125.6,658.2 127.1,659.0 128.5,659.9 129.9,660.4 131.4,661.0 132.8,661.5 134.2,662.0 135.6,662.6 137.1,662.8 138.5,663.7 139.9,664.0 141.4,663.9 142.8,664.3 144.2,664.6 145.7,664.2 147.1,664.0 148.5,665.0 149.9,666.0 151.4,667.5 152.8,668.2 154.2,668.8 155.7,669.8 157.1,670.6 158.5,671.3 160.0,671.6 161.4,671.6 162.8,671.3 164.2,671.5 165.7,671.5 167.1,671.3 168.5,672.1 170.0,672.0 171.4,671.6 172.8,672.2 174.3,672.4 175.7,672.0 177.1,672.2 178.5,673.0 180.0,673.8 181.4,674.2 182.8,675.2 184.3,676.6 185.7,676.4 187.1,676.4 188.6,676.6 190.0,677.3 191.4,677.6 192.8,677.6 194.3,677.5 195.7,677.0 197.1,677.1 198.6,677.5 200.0,677.1 201.4,676.6 202.9,677.2 204.3,677.7 205.7,677.9 207.1,678.7 208.6,679.3 210.0,678.8 211.4,678.9 212.9,678.9 214.3,678.3 215.7,677.9 217.2,677.5 218.6,676.9 220.0,677.0 221.4,677.5 222.9,676.4 224.3,675.2 225.7,674.8 227.2,675.9 228.6,676.5 230.0,676.6 231.5,677.0 232.9,677.3 234.3,677.0 235.7,675.6 237.2,674.1 238.6,672.6 240.0,671.7 241.5,669.3 242.9,666.5 244.3,663.5 245.8,661.0 247.2,660.1 248.6,660.8 250.0,661.3 251.5,661.1 252.9,661.1 254.3,661.7 255.8,662.3 257.2,663.1 258.6,664.1 260.1,664.8 261.5,665.2 262.9,666.0 264.3,666.0 265.8,665.8 267.2,667.1 268.6,666.7 270.1,666.0 271.5,666.7 272.9,667.1 274.4,667.4 275.8,667.5 277.2,667.8 278.6,668.3 280.1,668.7 281.5,668.6 282.9,668.5 284.4,669.1 285.8,668.8 287.2,668.4 288.7,668.7 290.1,668.6 291.5,668.4 292.9,668.6 294.4,668.3 295.8,668.1 297.2,667.8 298.7,667.1 300.1,666.9 301.5,667.0 303.0,666.3 304.4,665.6 305.8,665.4 307.2,664.7 308.7,664.1 310.1,664.3 311.5,663.4 313.0,662.4 314.4,662.0 315.8,661.9 317.3,661.6 318.7,661.5 320.1,661.2 321.5,660.9 323.0,661.1 324.4,660.6 325.8,661.2 327.3,662.3 328.7,661.8 330.1,662.1 331.6,662.9 333.0,663.2 334.4,663.2 335.8,662.5 337.3,662.1 338.7,662.6 340.1,662.3 341.6,661.4 343.0,660.9 344.4,660.7 345.9,661.0 347.3,661.7 348.7,661.6 350.1,661.0 351.6,661.4 353.0,661.0 354.4,660.1 355.9,660.3 357.3,661.1 358.7,661.2 360.2,661.2 361.6,662.1 363.0,663.0 364.4,663.1 365.9,663.5 367.3,664.2 368.7,664.9 370.2,665.6 371.6,666.0 373.0,666.6 374.5,667.7 375.9,669.0 377.3,669.5 378.7,670.1 380.2,670.9 381.6,671.2 383.0,672.0 384.5,672.8 385.9,673.0 387.3,673.0 388.8,673.5 390.2,673.7 391.6,674.2 393.0,674.9 394.5,675.6 395.9,676.0 397.3,675.7 398.8,675.7 400.2,676.0 401.6,675.5 403.1,675.4 404.5,675.9 405.9,676.2 407.3,677.0 408.8,677.4 410.2,677.8 411.6,678.8 413.1,679.9 414.5,680.5 415.9,681.0 417.4,681.5 418.8,681.8 420.2,682.7 421.6,682.6 423.1,682.9 424.5,683.1 425.9,682.7 427.4,683.2 428.8,683.9 430.2,683.8 431.7,683.3 433.1,684.2 434.5,685.3 435.9,685.4 437.4,686.0 438.8,686.0 440.2,685.5 441.7,685.8 443.1,685.9 444.5,686.1 446.0,685.7 447.4,685.1 448.8,684.5 450.2,684.8 451.7,685.9 453.1,686.3 454.5,687.5 456.0,687.6 457.4,687.4 458.8,687.7 460.3,687.7 461.7,687.8 463.1,688.2 464.5,688.5 466.0,688.4 467.4,688.4 468.8,688.3 470.3,688.0 471.7,687.3 473.1,686.9 474.6,686.5 476.0,685.6 477.4,685.7 478.8,685.9 480.3,684.9 481.7,684.8 483.1,684.9 484.6,684.1 486.0,684.9 487.4,685.9 488.9,686.2 490.3,686.6 491.7,686.8 493.1,686.2 494.6,686.0 496.0,685.9 497.4,685.0 498.9,684.6 500.3,684.2 501.7,684.2 503.2,684.1 504.6,684.0 506.0,683.6 507.4,683.5 508.9,684.4 510.3,685.3 511.7,685.5 513.2,685.5 514.6,686.5 516.0,687.0 517.5,687.2 518.9,688.3 520.3,688.6 521.7,689.0 523.2,689.4 524.6,689.6 526.0,690.2 527.5,690.2 528.9,690.6 530.3,691.3 531.8,690.9 533.2,690.1 534.6,690.6 536.0,690.5 537.5,690.6 538.9,691.2 540.3,691.1 541.8,691.2 543.2,690.9 544.6,691.1 546.1,691.2 547.5,690.9 548.9,691.3 550.3,691.5 551.8,691.6 553.2,691.5 554.6,690.9 556.1,691.6 557.5,692.7 558.9,693.1 560.4,693.4 561.8,694.3 563.2,694.7 564.6,694.2 566.1,695.0 567.5,696.1 568.9,695.1 570.4,694.6 571.8,695.5 573.2,696.0 574.7,696.4 576.1,696.3 577.5,696.0 578.9,696.4 580.4,697.0 581.8,696.6 583.2,696.0 584.7,696.2 586.1,695.9 587.5,695.7 589.0,696.1 590.4,696.2 591.8,696.0 593.2,695.6 594.7,695.6 596.1,695.8 597.5,695.8 599.0,695.9 600.4,696.3 601.8,696.7 603.3,697.1 604.7,696.5 606.1,695.7 607.5,695.0 609.0,695.4 610.8,695.3" fill="none" stroke="#c12e34" stroke-width="1.65" stroke-linejoin="round" stroke-linecap="round"/><polyline points="64.1,647.0 65.6,647.1 67.0,646.6 68.4,646.5 69.9,646.8 71.3,646.0 72.7,646.0 74.2,646.8 75.6,646.1 77.0,645.9 78.4,646.3 79.9,646.1 81.3,646.0 82.7,646.1 84.2,645.7 85.6,645.5 87.0,645.3 88.5,645.1 89.9,644.8 91.3,644.3 92.7,644.8 94.2,644.7 95.6,643.9 97.0,643.3 98.5,642.9 99.9,643.0 101.3,643.2 102.8,643.1 104.2,642.8 105.6,642.4 107.0,642.5 108.5,642.2 109.9,641.4 111.3,641.6 112.8,641.6 114.2,641.2 115.6,641.0 117.1,640.9 118.5,641.1 119.9,641.2 121.3,640.6 122.8,640.6 124.2,640.8 125.6,640.3 127.1,640.4 128.5,640.4 129.9,640.0 131.4,640.2 132.8,640.6 134.2,640.1 135.6,639.7 137.1,639.6 138.5,640.0 139.9,640.0 141.4,639.7 142.8,639.5 144.2,639.2 145.7,639.9 147.1,638.8 148.5,637.8 149.9,638.5 151.4,638.4 152.8,637.5 154.2,637.6 155.7,637.2 157.1,635.7 158.5,635.3 160.0,635.0 161.4,634.9 162.8,635.1 164.2,634.7 165.7,635.1 167.1,635.0 168.5,634.2 170.0,633.6 171.4,634.3 172.8,634.9 174.3,634.3 175.7,634.2 177.1,634.3 178.5,633.9 180.0,632.8 181.4,632.1 182.8,632.6 184.3,632.6 185.7,632.4 187.1,631.3 188.6,631.0 190.0,631.6 191.4,632.1 192.8,631.5 194.3,630.3 195.7,630.2 197.1,630.2 198.6,629.7 200.0,629.4 201.4,629.0 202.9,628.4 204.3,628.1 205.7,627.7 207.1,627.3 208.6,626.5 210.0,626.8 211.4,627.3 212.9,626.9 214.3,626.8 215.7,627.3 217.2,627.0 218.6,626.7 220.0,627.3 221.4,627.5 222.9,627.4 224.3,626.8 225.7,627.3 227.2,628.1 228.6,627.8 230.0,627.7 231.5,627.9 232.9,627.9 234.3,627.6 235.7,627.6 237.2,627.8 238.6,627.9 240.0,627.8 241.5,628.2 242.9,628.3 244.3,628.6 245.8,629.0 247.2,629.2 248.6,630.1 250.0,630.4 251.5,630.1 252.9,630.3 254.3,630.9 255.8,630.7 257.2,630.7 258.6,631.6 260.1,631.8 261.5,631.9 262.9,632.3 264.3,632.7 265.8,632.9 267.2,633.0 268.6,632.7 270.1,632.7 271.5,632.8 272.9,632.8 274.4,632.9 275.8,632.6 277.2,632.5 278.6,632.8 280.1,632.5 281.5,632.4 282.9,632.7 284.4,632.5 285.8,632.8 287.2,631.9 288.7,631.1 290.1,631.2 291.5,631.9 292.9,633.4 294.4,632.8 295.8,632.4 297.2,633.5 298.7,633.7 300.1,633.9 301.5,633.6 303.0,634.0 304.4,634.9 305.8,634.9 307.2,634.9 308.7,635.3 310.1,635.5 311.5,635.6 313.0,635.7 314.4,635.0 315.8,635.0 317.3,635.6 318.7,635.7 320.1,635.3 321.5,635.1 323.0,635.7 324.4,636.0 325.8,636.5 327.3,637.2 328.7,636.9 330.1,636.0 331.6,636.7 333.0,637.9 334.4,638.1 335.8,638.1 337.3,637.9 338.7,637.7 340.1,638.3 341.6,638.5 343.0,638.0 344.4,637.6 345.9,638.4 347.3,638.8 348.7,637.5 350.1,636.3 351.6,636.1 353.0,635.6 354.4,635.3 355.9,635.0 357.3,633.8 358.7,633.6 360.2,633.3 361.6,632.8 363.0,632.8 364.4,632.5 365.9,632.4 367.3,632.1 368.7,631.4 370.2,630.9 371.6,631.0 373.0,631.3 374.5,631.6 375.9,631.7 377.3,631.9 378.7,632.0 380.2,631.7 381.6,631.6 383.0,631.3 384.5,631.5 385.9,632.2 387.3,632.3 388.8,632.0 390.2,631.8 391.6,632.0 393.0,632.0 394.5,632.1 395.9,632.4 397.3,632.4 398.8,632.7 400.2,632.6 401.6,632.3 403.1,632.4 404.5,632.3 405.9,633.1 407.3,633.9 408.8,633.6 410.2,633.4 411.6,633.9 413.1,634.1 414.5,634.3 415.9,633.9 417.4,633.6 418.8,633.9 420.2,634.1 421.6,633.7 423.1,632.7 424.5,632.2 425.9,631.9 427.4,631.6 428.8,632.0 430.2,631.9 431.7,631.3 433.1,631.9 434.5,632.0 435.9,631.1 437.4,630.3 438.8,629.9 440.2,630.2 441.7,629.9 443.1,629.4 444.5,628.8 446.0,628.1 447.4,627.6 448.8,627.1 450.2,627.0 451.7,626.5 453.1,626.6 454.5,627.5 456.0,627.9 457.4,628.2 458.8,629.0 460.3,629.2 461.7,628.3 463.1,627.1 464.5,625.6 466.0,625.3 467.4,624.9 468.8,624.7 470.3,624.8 471.7,625.3 473.1,625.8 474.6,626.3 476.0,627.1 477.4,627.5 478.8,627.8 480.3,627.9 481.7,628.6 483.1,629.0 484.6,628.1 486.0,627.5 487.4,627.1 488.9,626.2 490.3,625.6 491.7,625.2 493.1,624.3 494.6,623.7 496.0,623.9 497.4,623.6 498.9,622.6 500.3,621.9 501.7,621.9 503.2,622.0 504.6,622.4 506.0,622.6 507.4,621.9 508.9,622.1 510.3,622.0 511.7,621.7 513.2,621.2 514.6,620.6 516.0,620.8 517.5,620.1 518.9,619.9 520.3,620.5 521.7,620.9 523.2,621.5 524.6,623.0 526.0,623.5 527.5,622.2 528.9,621.2 530.3,621.2 531.8,620.7 533.2,619.7 534.6,620.1 536.0,621.2 537.5,622.3 538.9,622.8 540.3,623.0 541.8,623.4 543.2,624.3 544.6,625.1 546.1,624.9 547.5,625.1 548.9,625.7 550.3,626.0 551.8,625.7 553.2,625.3 554.6,625.2 556.1,625.1 557.5,625.5 558.9,626.1 560.4,626.3 561.8,627.3 563.2,628.6 564.6,628.5 566.1,629.6 567.5,631.1 568.9,631.9 570.4,632.2 571.8,632.5 573.2,633.8 574.7,634.5 576.1,634.5 577.5,634.3 578.9,633.4 580.4,632.3 581.8,631.9 583.2,631.7 584.7,631.8 586.1,632.1 587.5,632.3 589.0,632.2 590.4,631.9 591.8,631.8 593.2,633.6 594.7,635.2 596.1,636.1 597.5,636.2 599.0,636.9 600.4,637.2 601.8,637.2 603.3,638.1 604.7,638.3 606.1,638.7 607.5,638.9 609.0,639.4 610.8,640.0" fill="none" stroke="#e6b600" stroke-width="1.65" stroke-linejoin="round" stroke-linecap="round"/><polyline points="64.1,648.7 65.6,648.4 67.0,648.5 68.4,648.6 69.9,648.6 71.3,648.1 72.7,648.4 74.2,648.6 75.6,648.8 77.0,649.0 78.4,649.4 79.9,649.8 81.3,649.7 82.7,648.8 84.2,648.9 85.6,649.4 87.0,648.5 88.5,648.3 89.9,649.0 91.3,649.4 92.7,649.2 94.2,649.5 95.6,649.9 97.0,650.3 98.5,650.5 99.9,650.2 101.3,650.3 102.8,650.0 104.2,650.6 105.6,651.3 107.0,651.6 108.5,651.8 109.9,651.4 111.3,650.9 112.8,651.0 114.2,651.5 115.6,651.5 117.1,652.0 118.5,652.4 119.9,652.3 121.3,652.3 122.8,652.5 124.2,652.5 125.6,652.9 127.1,653.1 128.5,652.8 129.9,652.2 131.4,652.7 132.8,653.0 134.2,652.7 135.6,652.0 137.1,651.5 138.5,651.7 139.9,651.3 141.4,651.1 142.8,651.5 144.2,651.9 145.7,652.0 147.1,651.4 148.5,650.3 149.9,650.4 151.4,650.8 152.8,650.5 154.2,649.6 155.7,649.5 157.1,649.9 158.5,649.7 160.0,649.2 161.4,648.9 162.8,649.1 164.2,648.7 165.7,647.8 167.1,647.8 168.5,648.3 170.0,648.0 171.4,648.0 172.8,647.6 174.3,647.2 175.7,647.1 177.1,647.1 178.5,647.4 180.0,647.0 181.4,647.2 182.8,647.7 184.3,647.5 185.7,647.3 187.1,647.6 188.6,647.5 190.0,647.3 191.4,647.3 192.8,647.8 194.3,648.7 195.7,649.0 197.1,649.1 198.6,649.2 200.0,649.5 201.4,649.5 202.9,650.1 204.3,650.8 205.7,650.5 207.1,650.8 208.6,651.2 210.0,652.0 211.4,652.9 212.9,652.7 214.3,653.2 215.7,654.6 217.2,654.9 218.6,654.9 220.0,655.6 221.4,656.6 222.9,657.1 224.3,657.3 225.7,656.8 227.2,657.2 228.6,657.5 230.0,657.9 231.5,658.5 232.9,658.6 234.3,659.3 235.7,659.9 237.2,661.0 238.6,661.8 240.0,662.0 241.5,662.2 242.9,662.0 244.3,662.1 245.8,662.7 247.2,662.6 248.6,662.5 250.0,662.2 251.5,661.5 252.9,661.1 254.3,660.3 255.8,660.2 257.2,660.4 258.6,659.5 260.1,658.2 261.5,656.7 262.9,656.3 264.3,657.5 265.8,657.7 267.2,657.8 268.6,658.3 270.1,658.6 271.5,658.1 272.9,657.6 274.4,657.5 275.8,656.3 277.2,655.5 278.6,655.8 280.1,656.4 281.5,657.4 282.9,657.6 284.4,657.4 285.8,658.6 287.2,659.8 288.7,660.4 290.1,660.5 291.5,660.9 292.9,662.1 294.4,662.5 295.8,662.1 297.2,661.8 298.7,662.0 300.1,662.4 301.5,662.5 303.0,662.1 304.4,661.3 305.8,661.3 307.2,661.3 308.7,661.1 310.1,661.2 311.5,661.3 313.0,661.4 314.4,660.7 315.8,660.4 317.3,660.8 318.7,660.4 320.1,660.1 321.5,660.7 323.0,661.0 324.4,660.9 325.8,660.3 327.3,659.9 328.7,660.4 330.1,661.0 331.6,661.9 333.0,661.7 334.4,661.5 335.8,662.2 337.3,661.6 338.7,661.4 340.1,662.1 341.6,662.4 343.0,662.6 344.4,663.1 345.9,663.1 347.3,663.4 348.7,663.7 350.1,663.6 351.6,664.2 353.0,664.2 354.4,664.1 355.9,664.7 357.3,664.7 358.7,664.2 360.2,664.3 361.6,664.1 363.0,664.0 364.4,663.6 365.9,663.3 367.3,663.3 368.7,662.8 370.2,663.3 371.6,663.2 373.0,663.1 374.5,663.4 375.9,663.2 377.3,662.7 378.7,662.5 380.2,663.1 381.6,662.7 383.0,662.2 384.5,662.8 385.9,662.9 387.3,662.2 388.8,662.1 390.2,662.4 391.6,662.7 393.0,662.7 394.5,663.0 395.9,662.8 397.3,662.4 398.8,662.8 400.2,662.3 401.6,662.2 403.1,662.9 404.5,662.3 405.9,661.5 407.3,661.6 408.8,661.4 410.2,661.7 411.6,661.6 413.1,661.5 414.5,662.3 415.9,661.6 417.4,661.0 418.8,660.9 420.2,661.1 421.6,661.4 423.1,661.0 424.5,661.1 425.9,661.3 427.4,661.1 428.8,660.9 430.2,660.8 431.7,660.7 433.1,660.5 434.5,660.4 435.9,660.3 437.4,660.2 438.8,661.3 440.2,661.5 441.7,660.7 443.1,661.0 444.5,661.6 446.0,661.6 447.4,662.2 448.8,663.4 450.2,664.3 451.7,664.4 453.1,664.1 454.5,663.9 456.0,664.7 457.4,665.1 458.8,664.6 460.3,663.9 461.7,663.5 463.1,664.6 464.5,664.4 466.0,663.5 467.4,663.7 468.8,663.7 470.3,663.7 471.7,663.5 473.1,663.4 474.6,664.3 476.0,664.5 477.4,664.0 478.8,663.6 480.3,663.1 481.7,663.5 483.1,663.7 484.6,663.1 486.0,662.9 487.4,663.3 488.9,662.9 490.3,662.8 491.7,662.7 493.1,662.8 494.6,663.9 496.0,664.2 497.4,664.0 498.9,663.8 500.3,662.7 501.7,663.1 503.2,664.3 504.6,664.9 506.0,665.6 507.4,665.9 508.9,665.8 510.3,667.1 511.7,667.6 513.2,667.0 514.6,666.2 516.0,665.7 517.5,665.5 518.9,665.3 520.3,665.1 521.7,665.0 523.2,664.7 524.6,663.9 526.0,663.6 527.5,664.3 528.9,664.6 530.3,664.1 531.8,664.1 533.2,664.4 534.6,664.5 536.0,664.6 537.5,665.0 538.9,665.0 540.3,665.1 541.8,665.4 543.2,665.2 544.6,664.8 546.1,664.6 547.5,664.2 548.9,663.1 550.3,662.4 551.8,662.6 553.2,662.8 554.6,662.4 556.1,661.8 557.5,662.0 558.9,661.9 560.4,662.1 561.8,661.9 563.2,661.7 564.6,661.3 566.1,660.3 567.5,661.0 568.9,661.6 570.4,661.4 571.8,661.3 573.2,661.3 574.7,660.9 576.1,661.0 577.5,661.1 578.9,661.1 580.4,661.2 581.8,660.3 583.2,659.8 584.7,660.5 586.1,660.7 587.5,660.1 589.0,660.0 590.4,659.8 591.8,659.4 593.2,659.4 594.7,659.4 596.1,659.6 597.5,659.4 599.0,659.3 600.4,659.7 601.8,659.9 603.3,660.0 604.7,659.8 606.1,659.9 607.5,660.1 609.0,660.1 610.8,660.7" fill="none" stroke="#0098d9" stroke-width="1.65" stroke-linejoin="round" stroke-linecap="round"/><polyline points="64.1,647.7 65.6,648.3 67.0,649.0 68.4,648.8 69.9,648.4 71.3,648.9 72.7,649.6 74.2,649.5 75.6,649.5 77.0,649.4 78.4,650.0 79.9,650.8 81.3,651.4 82.7,651.2 84.2,650.3 85.6,650.5 87.0,650.4 88.5,649.9 89.9,649.8 91.3,649.9 92.7,650.6 94.2,651.3 95.6,651.6 97.0,651.5 98.5,651.3 99.9,651.5 101.3,652.0 102.8,652.2 104.2,652.3 105.6,653.3 107.0,653.7 108.5,653.3 109.9,653.4 111.3,653.7 112.8,653.3 114.2,653.3 115.6,654.0 117.1,655.0 118.5,654.7 119.9,654.3 121.3,654.5 122.8,655.3 124.2,655.1 125.6,653.7 127.1,652.4 128.5,651.8 129.9,652.1 131.4,652.5 132.8,651.8 134.2,650.9 135.6,650.6 137.1,649.4 138.5,647.7 139.9,645.7 141.4,644.2 142.8,643.4 144.2,642.0 145.7,641.8 147.1,641.3 148.5,641.7 149.9,642.2 151.4,641.9 152.8,642.3 154.2,644.2 155.7,645.3 157.1,647.3 158.5,648.5 160.0,648.4 161.4,648.0 162.8,647.9 164.2,648.3 165.7,648.5 167.1,648.0 168.5,647.2 170.0,646.8 171.4,646.6 172.8,646.9 174.3,646.2 175.7,645.5 177.1,645.8 178.5,646.0 180.0,645.7 181.4,644.8 182.8,644.0 184.3,643.4 185.7,643.2 187.1,643.5 188.6,643.8 190.0,644.4 191.4,644.7 192.8,644.1 194.3,644.6 195.7,645.2 197.1,644.7 198.6,644.1 200.0,643.5 201.4,643.6 202.9,644.9 204.3,645.6 205.7,645.5 207.1,646.4 208.6,647.5 210.0,648.3 211.4,649.2 212.9,650.1 214.3,650.2 215.7,650.6 217.2,651.0 218.6,651.4 220.0,652.0 221.4,651.9 222.9,652.1 224.3,652.1 225.7,652.1 227.2,652.1 228.6,651.6 230.0,651.0 231.5,650.5 232.9,650.6 234.3,651.0 235.7,651.3 237.2,652.5 238.6,653.3 240.0,654.1 241.5,655.1 242.9,655.2 244.3,654.6 245.8,654.1 247.2,653.1 248.6,652.5 250.0,651.7 251.5,650.6 252.9,649.3 254.3,648.8 255.8,649.3 257.2,649.1 258.6,648.9 260.1,648.3 261.5,647.5 262.9,646.2 264.3,645.2 265.8,644.2 267.2,643.5 268.6,643.1 270.1,641.9 271.5,640.6 272.9,639.6 274.4,639.4 275.8,639.3 277.2,638.6 278.6,638.3 280.1,637.7 281.5,636.6 282.9,636.7 284.4,636.8 285.8,636.4 287.2,636.3 288.7,636.9 290.1,636.3 291.5,635.2 292.9,634.8 294.4,634.1 295.8,633.5 297.2,633.3 298.7,631.8 300.1,629.9 301.5,628.7 303.0,627.3 304.4,625.6 305.8,625.0 307.2,624.8 308.7,625.4 310.1,626.1 311.5,626.0 313.0,625.1 314.4,624.3 315.8,624.0 317.3,623.0 318.7,622.3 320.1,622.3 321.5,622.3 323.0,621.6 324.4,621.1 325.8,620.4 327.3,619.6 328.7,619.2 330.1,618.7 331.6,617.9 333.0,616.5 334.4,615.3 335.8,614.2 337.3,614.5 338.7,614.4 340.1,613.5 341.6,613.7 343.0,613.5 344.4,612.6 345.9,612.6 347.3,613.5 348.7,614.1 350.1,614.3 351.6,613.9 353.0,613.0 354.4,612.4 355.9,612.7 357.3,612.9 358.7,612.4 360.2,612.3 361.6,613.4 363.0,614.4 364.4,615.6 365.9,616.4 367.3,616.6 368.7,615.5 370.2,614.8 371.6,613.0 373.0,611.4 374.5,610.1 375.9,609.8 377.3,609.7 378.7,609.1 380.2,608.9 381.6,609.2 383.0,608.6 384.5,608.6 385.9,609.3 387.3,609.1 388.8,608.9 390.2,608.4 391.6,607.6 393.0,607.0 394.5,606.1 395.9,605.6 397.3,605.1 398.8,604.6 400.2,603.3 401.6,603.3 403.1,604.6 404.5,604.2 405.9,603.9 407.3,604.2 408.8,604.3 410.2,604.1 411.6,603.7 413.1,603.3 414.5,603.1 415.9,603.1 417.4,602.9 418.8,602.6 420.2,602.5 421.6,602.7 423.1,602.9 424.5,602.6 425.9,602.5 427.4,602.8 428.8,602.5 430.2,601.8 431.7,601.1 433.1,600.8 434.5,600.8 435.9,601.5 437.4,601.4 438.8,601.0 440.2,601.4 441.7,602.6 443.1,603.5 444.5,604.5 446.0,605.2 447.4,605.8 448.8,605.7 450.2,605.5 451.7,606.3 453.1,606.7 454.5,607.1 456.0,608.0 457.4,608.4 458.8,608.5 460.3,608.2 461.7,607.7 463.1,607.2 464.5,606.4 466.0,606.0 467.4,605.1 468.8,605.0 470.3,605.8 471.7,606.5 473.1,606.7 474.6,606.9 476.0,607.4 477.4,608.1 478.8,609.5 480.3,609.9 481.7,610.2 483.1,610.0 484.6,609.8 486.0,610.1 487.4,609.5 488.9,608.5 490.3,608.4 491.7,608.8 493.1,608.8 494.6,608.5 496.0,607.5 497.4,607.3 498.9,608.6 500.3,608.9 501.7,609.5 503.2,611.1 504.6,611.8 506.0,612.4 507.4,612.9 508.9,613.0 510.3,612.1 511.7,611.3 513.2,610.3 514.6,609.4 516.0,608.3 517.5,607.2 518.9,607.0 520.3,606.6 521.7,606.7 523.2,606.4 524.6,605.6 526.0,605.1 527.5,604.9 528.9,605.2 530.3,605.4 531.8,604.6 533.2,604.4 534.6,604.8 536.0,605.2 537.5,605.9 538.9,606.0 540.3,606.2 541.8,607.0 543.2,605.7 544.6,604.5 546.1,603.6 547.5,602.5 548.9,601.2 550.3,600.0 551.8,598.9 553.2,597.7 554.6,597.5 556.1,597.3 557.5,597.2 558.9,597.3 560.4,598.1 561.8,598.3 563.2,598.3 564.6,599.4 566.1,600.2 567.5,600.1 568.9,599.7 570.4,600.8 571.8,601.6 573.2,601.3 574.7,601.5 576.1,602.3 577.5,601.9 578.9,602.2 580.4,603.3 581.8,602.6 583.2,602.7 584.7,603.0 586.1,603.2 587.5,604.0 589.0,604.8 590.4,605.2 591.8,605.2 593.2,606.3 594.7,606.2 596.1,605.5 597.5,605.3 599.0,605.2 600.4,604.8 601.8,604.7 603.3,605.0 604.7,604.8 606.1,605.0 607.5,604.8 609.0,604.6 610.8,604.2" fill="none" stroke="#2b821d" stroke-width="1.65" stroke-linejoin="round" stroke-linecap="round"/><polyline points="64.1,648.3 65.6,648.2 67.0,648.3 68.4,649.0 69.9,649.1 71.3,649.2 72.7,649.5 74.2,649.9 75.6,649.7 77.0,650.1 78.4,650.9 79.9,651.3 81.3,651.3 82.7,651.2 84.2,651.5 85.6,651.3 87.0,650.8 88.5,651.1 89.9,651.6 91.3,651.9 92.7,652.3 94.2,652.3 95.6,652.3 97.0,653.0 98.5,653.1 99.9,653.0 101.3,653.4 102.8,653.7 104.2,653.7 105.6,654.1 107.0,654.2 108.5,654.2 109.9,654.7 111.3,654.8 112.8,654.8 114.2,654.4 115.6,653.9 117.1,654.1 118.5,654.7 119.9,655.3 121.3,654.9 122.8,654.7 124.2,654.8 125.6,654.5 127.1,654.6 128.5,655.0 129.9,655.2 131.4,655.4 132.8,655.3 134.2,655.4 135.6,656.1 137.1,656.0 138.5,656.1 139.9,656.2 141.4,656.2 142.8,656.6 144.2,657.0 145.7,658.3 147.1,658.7 148.5,658.6 149.9,659.0 151.4,658.9 152.8,659.3 154.2,659.3 155.7,659.6 157.1,660.2 158.5,659.8 160.0,660.1 161.4,661.0 162.8,661.2 164.2,661.8 165.7,661.7 167.1,661.6 168.5,662.1 170.0,661.9 171.4,662.2 172.8,662.3 174.3,661.8 175.7,662.6 177.1,662.9 178.5,663.0 180.0,663.1 181.4,663.3 182.8,663.5 184.3,663.7 185.7,663.7 187.1,663.8 188.6,664.3 190.0,664.3 191.4,664.4 192.8,664.6 194.3,664.3 195.7,663.7 197.1,664.2 198.6,664.8 200.0,664.8 201.4,665.3 202.9,665.0 204.3,664.8 205.7,665.4 207.1,665.7 208.6,666.2 210.0,666.7 211.4,666.7 212.9,666.8 214.3,667.4 215.7,667.7 217.2,667.8 218.6,668.3 220.0,667.8 221.4,667.5 222.9,668.0 224.3,668.3 225.7,668.4 227.2,668.4 228.6,668.3 230.0,668.0 231.5,667.9 232.9,668.5 234.3,668.7 235.7,669.1 237.2,669.1 238.6,669.0 240.0,668.9 241.5,667.7 242.9,667.5 244.3,667.7 245.8,666.7 247.2,665.6 248.6,664.8 250.0,664.7 251.5,664.3 252.9,662.9 254.3,662.7 255.8,663.3 257.2,663.4 258.6,663.5 260.1,663.3 261.5,663.3 262.9,664.0 264.3,663.9 265.8,664.3 267.2,664.6 268.6,663.9 270.1,664.4 271.5,664.9 272.9,664.5 274.4,664.7 275.8,664.5 277.2,664.1 278.6,664.9 280.1,665.1 281.5,664.4 282.9,664.6 284.4,665.2 285.8,664.9 287.2,664.1 288.7,663.9 290.1,664.4 291.5,664.6 292.9,664.8 294.4,664.4 295.8,663.5 297.2,663.4 298.7,663.7 300.1,663.3 301.5,663.0 303.0,662.1 304.4,661.6 305.8,661.8 307.2,661.4 308.7,661.4 310.1,660.7 311.5,660.2 313.0,660.3 314.4,660.2 315.8,659.6 317.3,659.0 318.7,658.8 320.1,659.9 321.5,660.5 323.0,659.8 324.4,659.6 325.8,660.0 327.3,660.5 328.7,660.8 330.1,661.3 331.6,661.1 333.0,661.3 334.4,661.0 335.8,660.6 337.3,660.7 338.7,660.4 340.1,660.5 341.6,660.7 343.0,661.1 344.4,660.2 345.9,659.7 347.3,660.5 348.7,660.6 350.1,661.0 351.6,661.3 353.0,661.3 354.4,661.1 355.9,661.3 357.3,661.6 358.7,661.1 360.2,661.0 361.6,661.3 363.0,661.3 364.4,661.9 365.9,662.5 367.3,662.7 368.7,662.5 370.2,662.3 371.6,662.2 373.0,662.3 374.5,662.6 375.9,662.9 377.3,662.9 378.7,662.0 380.2,661.3 381.6,661.1 383.0,661.2 384.5,661.8 385.9,661.9 387.3,660.8 388.8,660.4 390.2,660.7 391.6,661.2 393.0,661.7 394.5,661.5 395.9,662.0 397.3,661.6 398.8,660.8 400.2,661.5 401.6,661.8 403.1,661.2 404.5,660.7 405.9,660.7 407.3,660.8 408.8,661.4 410.2,662.3 411.6,662.7 413.1,662.8 414.5,662.5 415.9,662.6 417.4,663.4 418.8,663.2 420.2,662.7 421.6,663.2 423.1,663.4 424.5,663.2 425.9,663.2 427.4,663.7 428.8,663.7 430.2,663.5 431.7,663.7 433.1,663.7 434.5,663.9 435.9,664.4 437.4,664.7 438.8,665.4 440.2,666.0 441.7,665.7 443.1,665.8 444.5,666.3 446.0,666.6 447.4,666.8 448.8,667.0 450.2,667.1 451.7,667.1 453.1,667.6 454.5,668.4 456.0,668.5 457.4,668.4 458.8,668.5 460.3,668.3 461.7,667.7 463.1,668.1 464.5,668.6 466.0,668.3 467.4,667.9 468.8,668.5 470.3,668.4 471.7,668.7 473.1,669.4 474.6,669.7 476.0,669.5 477.4,668.9 478.8,669.1 480.3,669.3 481.7,669.6 483.1,669.5 484.6,669.9 486.0,670.0 487.4,669.6 488.9,670.1 490.3,670.1 491.7,669.9 493.1,670.2 494.6,670.1 496.0,669.6 497.4,669.6 498.9,669.8 500.3,670.2 501.7,670.0 503.2,669.9 504.6,670.1 506.0,669.8 507.4,670.0 508.9,670.2 510.3,670.5 511.7,670.9 513.2,670.5 514.6,670.4 516.0,670.9 517.5,670.7 518.9,670.2 520.3,670.1 521.7,670.2 523.2,670.0 524.6,669.9 526.0,669.9 527.5,670.1 528.9,670.1 530.3,669.6 531.8,669.4 533.2,669.7 534.6,669.1 536.0,669.0 537.5,668.7 538.9,668.4 540.3,668.8 541.8,669.0 543.2,668.8 544.6,668.1 546.1,667.7 547.5,667.4 548.9,667.7 550.3,667.9 551.8,667.7 553.2,668.1 554.6,668.3 556.1,668.3 557.5,668.6 558.9,669.3 560.4,670.0 561.8,669.7 563.2,669.0 564.6,669.2 566.1,669.8 567.5,670.0 568.9,670.2 570.4,670.1 571.8,670.2 573.2,670.6 574.7,670.5 576.1,670.2 577.5,670.1 578.9,670.5 580.4,670.4 581.8,670.2 583.2,670.4 584.7,670.1 586.1,670.4 587.5,670.8 589.0,670.6 590.4,670.9 591.8,670.5 593.2,670.3 594.7,670.8 596.1,671.2 597.5,670.9 599.0,670.9 600.4,671.3 601.8,671.5 603.3,671.7 604.7,671.5 606.1,671.8 607.5,671.6 609.0,670.9 610.8,671.1" fill="none" stroke="#005eaa" stroke-width="1.65" stroke-linejoin="round" stroke-linecap="round"/><polyline points="64.1,647.0 65.6,647.1 67.0,647.1 68.4,647.4 69.9,648.3 71.3,648.9 72.7,648.9 74.2,649.1 75.6,649.1 77.0,648.7 78.4,648.4 79.9,648.3 81.3,648.7 82.7,649.4 84.2,649.9 85.6,649.3 87.0,649.4 88.5,650.0 89.9,649.9 91.3,649.8 92.7,649.9 94.2,649.9 95.6,649.6 97.0,649.8 98.5,650.8 99.9,651.3 101.3,651.1 102.8,650.6 104.2,650.8 105.6,651.4 107.0,651.6 108.5,651.3 109.9,651.4 111.3,651.7 112.8,651.8 114.2,651.8 115.6,651.2 117.1,651.2 118.5,651.7 119.9,651.2 121.3,650.9 122.8,651.3 124.2,651.1 125.6,650.6 127.1,651.1 128.5,651.3 129.9,650.9 131.4,650.5 132.8,650.8 134.2,650.7 135.6,650.3 137.1,651.1 138.5,651.7 139.9,651.4 141.4,650.9 142.8,651.4 144.2,651.1 145.7,651.4 147.1,652.1 148.5,652.0 149.9,652.2 151.4,652.7 152.8,652.8 154.2,652.9 155.7,653.3 157.1,652.9 158.5,652.3 160.0,652.1 161.4,652.2 162.8,652.1 164.2,651.7 165.7,651.7 167.1,651.4 168.5,651.6 170.0,651.4 171.4,651.2 172.8,651.2 174.3,651.0 175.7,650.6 177.1,650.3 178.5,650.4 180.0,649.8 181.4,649.7 182.8,650.0 184.3,650.0 185.7,650.5 187.1,650.4 188.6,649.7 190.0,649.5 191.4,649.9 192.8,650.3 194.3,650.5 195.7,650.9 197.1,651.3 198.6,651.1 200.0,650.6 201.4,650.1 202.9,649.9 204.3,650.3 205.7,650.5 207.1,649.7 208.6,649.7 210.0,650.8 211.4,650.9 212.9,650.1 214.3,650.1 215.7,650.9 217.2,651.3 218.6,651.2 220.0,651.1 221.4,651.8 222.9,652.2 224.3,652.9 225.7,653.8 227.2,654.0 228.6,654.2 230.0,654.5 231.5,655.5 232.9,655.8 234.3,656.8 235.7,657.3 237.2,657.0 238.6,657.8 240.0,658.6 241.5,659.2 242.9,659.3 244.3,659.4 245.8,659.8 247.2,660.0 248.6,659.5 250.0,660.1 251.5,661.0 252.9,661.0 254.3,661.0 255.8,661.2 257.2,661.5 258.6,661.6 260.1,662.1 261.5,661.8 262.9,661.8 264.3,662.1 265.8,662.1 267.2,663.0 268.6,663.0 270.1,662.7 271.5,663.0 272.9,663.5 274.4,663.6 275.8,663.1 277.2,663.6 278.6,664.2 280.1,664.1 281.5,664.7 282.9,664.7 284.4,664.5 285.8,664.9 287.2,665.3 288.7,665.4 290.1,666.0 291.5,667.1 292.9,667.0 294.4,667.3 295.8,667.2 297.2,667.4 298.7,668.3 300.1,668.3 301.5,668.6 303.0,668.8 304.4,668.9 305.8,668.8 307.2,669.3 308.7,669.5 310.1,668.9 311.5,668.3 313.0,668.0 314.4,667.6 315.8,668.1 317.3,668.4 318.7,667.8 320.1,667.3 321.5,667.1 323.0,667.9 324.4,668.8 325.8,668.5 327.3,668.9 328.7,669.2 330.1,669.3 331.6,669.4 333.0,669.1 334.4,669.6 335.8,669.8 337.3,670.0 338.7,669.7 340.1,669.9 341.6,670.5 343.0,670.2 344.4,669.9 345.9,669.7 347.3,669.6 348.7,669.4 350.1,669.5 351.6,669.9 353.0,670.3 354.4,670.6 355.9,670.6 357.3,670.4 358.7,670.2 360.2,670.3 361.6,670.6 363.0,670.4 364.4,670.7 365.9,671.0 367.3,670.8 368.7,671.5 370.2,671.8 371.6,672.6 373.0,673.1 374.5,673.4 375.9,674.1 377.3,673.9 378.7,674.0 380.2,674.7 381.6,674.8 383.0,674.8 384.5,675.0 385.9,675.4 387.3,675.9 388.8,676.3 390.2,677.1 391.6,677.9 393.0,678.1 394.5,678.4 395.9,679.3 397.3,679.8 398.8,679.9 400.2,680.9 401.6,681.5 403.1,681.6 404.5,681.7 405.9,682.1 407.3,682.2 408.8,682.1 410.2,682.8 411.6,682.3 413.1,682.2 414.5,682.2 415.9,681.2 417.4,681.6 418.8,682.2 420.2,681.8 421.6,680.9 423.1,680.9 424.5,681.4 425.9,681.2 427.4,681.5 428.8,681.3 430.2,681.5 431.7,682.7 433.1,683.5 434.5,683.2 435.9,682.8 437.4,683.1 438.8,683.8 440.2,684.1 441.7,683.6 443.1,683.7 444.5,684.4 446.0,685.1 447.4,685.8 448.8,685.9 450.2,686.2 451.7,686.3 453.1,686.7 454.5,687.0 456.0,687.0 457.4,687.6 458.8,687.5 460.3,687.3 461.7,687.2 463.1,687.6 464.5,688.2 466.0,688.2 467.4,688.5 468.8,688.2 470.3,688.3 471.7,689.1 473.1,689.2 474.6,689.6 476.0,690.4 477.4,690.2 478.8,689.6 480.3,689.7 481.7,690.1 483.1,690.6 484.6,690.5 486.0,690.9 487.4,691.2 488.9,691.4 490.3,692.1 491.7,692.3 493.1,693.1 494.6,693.2 496.0,693.0 497.4,693.5 498.9,694.2 500.3,694.0 501.7,694.1 503.2,694.4 504.6,694.7 506.0,695.4 507.4,695.5 508.9,695.3 510.3,695.5 511.7,694.9 513.2,695.2 514.6,696.3 516.0,696.4 517.5,696.3 518.9,696.2 520.3,696.5 521.7,697.2 523.2,697.4 524.6,697.6 526.0,697.1 527.5,696.7 528.9,697.6 530.3,697.8 531.8,697.4 533.2,697.3 534.6,698.3 536.0,698.4 537.5,698.0 538.9,698.3 540.3,698.7 541.8,699.4 543.2,699.9 544.6,699.5 546.1,700.0 547.5,700.6 548.9,700.3 550.3,701.2 551.8,701.0 553.2,700.0 554.6,699.6 556.1,699.5 557.5,699.2 558.9,699.1 560.4,699.4 561.8,699.5 563.2,698.8 564.6,699.3 566.1,699.3 567.5,698.6 568.9,699.0 570.4,699.3 571.8,699.3 573.2,699.3 574.7,700.1 576.1,700.1 577.5,699.5 578.9,699.7 580.4,699.9 581.8,699.9 583.2,700.4 584.7,700.6 586.1,700.5 587.5,700.6 589.0,700.6 590.4,700.1 591.8,700.3 593.2,700.5 594.7,700.5 596.1,700.4 597.5,700.2 599.0,700.3 600.4,699.4 601.8,698.9 603.3,699.4 604.7,700.1 606.1,699.9 607.5,699.8 609.0,700.6 610.8,700.0" fill="none" stroke="#339ca8" stroke-width="1.65" stroke-linejoin="round" stroke-linecap="round"/><polyline points="64.1,647.7 65.6,647.6 67.0,647.4 68.4,647.5 69.9,647.5 71.3,647.6 72.7,647.4 74.2,646.9 75.6,646.8 77.0,647.0 78.4,646.6 79.9,646.0 81.3,646.3 82.7,646.4 84.2,646.3 85.6,645.7 87.0,645.5 88.5,646.1 89.9,646.3 91.3,645.7 92.7,645.2 94.2,645.7 95.6,645.8 97.0,645.8 98.5,645.9 99.9,645.1 101.3,644.9 102.8,645.0 104.2,644.6 105.6,645.0 107.0,645.0 108.5,644.3 109.9,644.3 111.3,644.3 112.8,644.6 114.2,644.9 115.6,645.1 117.1,645.2 118.5,644.7 119.9,645.0 121.3,645.0 122.8,644.8 124.2,645.2 125.6,645.6 127.1,646.3 128.5,646.4 129.9,646.5 131.4,646.9 132.8,646.8 134.2,646.8 135.6,647.3 137.1,648.0 138.5,648.4 139.9,648.4 141.4,648.2 142.8,647.9 144.2,647.9 145.7,647.6 147.1,647.0 148.5,647.1 149.9,647.0 151.4,646.8 152.8,646.9 154.2,646.8 155.7,646.9 157.1,646.7 158.5,646.5 160.0,646.2 161.4,646.3 162.8,646.5 164.2,646.5 165.7,645.9 167.1,645.5 168.5,646.2 170.0,645.7 171.4,645.5 172.8,646.1 174.3,646.1 175.7,645.6 177.1,645.6 178.5,646.0 180.0,645.6 181.4,645.6 182.8,645.7 184.3,645.4 185.7,645.1 187.1,645.1 188.6,645.1 190.0,645.1 191.4,645.1 192.8,644.5 194.3,644.2 195.7,644.4 197.1,644.2 198.6,644.0 200.0,644.1 201.4,643.9 202.9,643.0 204.3,643.0 205.7,643.6 207.1,643.6 208.6,643.3 210.0,643.6 211.4,643.8 212.9,643.3 214.3,643.1 215.7,643.2 217.2,643.0 218.6,642.6 220.0,643.3 221.4,643.8 222.9,643.4 224.3,643.3 225.7,643.0 227.2,642.0 228.6,642.1 230.0,642.7 231.5,642.4 232.9,641.4 234.3,641.5 235.7,642.3 237.2,641.7 238.6,641.2 240.0,641.2 241.5,640.8 242.9,640.5 244.3,640.2 245.8,639.7 247.2,639.5 248.6,638.8 250.0,638.4 251.5,639.6 252.9,639.8 254.3,639.2 255.8,639.3 257.2,639.4 258.6,639.2 260.1,638.5 261.5,638.3 262.9,637.8 264.3,637.7 265.8,638.4 267.2,637.8 268.6,637.5 270.1,638.3 271.5,638.5 272.9,637.9 274.4,637.3 275.8,636.9 277.2,636.7 278.6,637.2 280.1,638.0 281.5,637.4 282.9,637.1 284.4,637.4 285.8,636.8 287.2,637.2 288.7,636.6 290.1,636.0 291.5,636.7 292.9,637.3 294.4,637.7 295.8,637.8 297.2,637.4 298.7,637.2 300.1,637.6 301.5,637.6 303.0,637.4 304.4,637.3 305.8,637.0 307.2,636.5 308.7,637.0 310.1,637.0 311.5,635.7 313.0,635.8 314.4,636.2 315.8,636.1 317.3,636.6 318.7,636.4 320.1,635.8 321.5,635.7 323.0,636.0 324.4,636.3 325.8,636.6 327.3,637.9 328.7,638.2 330.1,637.3 331.6,637.9 333.0,638.6 334.4,638.5 335.8,638.7 337.3,638.9 338.7,639.1 340.1,639.5 341.6,639.8 343.0,640.0 344.4,639.5 345.9,638.9 347.3,638.7 348.7,638.8 350.1,639.0 351.6,638.4 353.0,638.0 354.4,638.5 355.9,638.3 357.3,636.9 358.7,636.2 360.2,636.4 361.6,636.2 363.0,636.0 364.4,636.1 365.9,635.9 367.3,635.1 368.7,635.1 370.2,635.1 371.6,634.8 373.0,634.5 374.5,633.9 375.9,633.6 377.3,633.7 378.7,633.5 380.2,632.7 381.6,633.1 383.0,633.4 384.5,632.7 385.9,633.3 387.3,633.0 388.8,633.4 390.2,634.0 391.6,634.0 393.0,634.3 394.5,634.4 395.9,634.9 397.3,635.1 398.8,634.9 400.2,634.8 401.6,635.5 403.1,636.4 404.5,636.4 405.9,636.3 407.3,636.6 408.8,636.8 410.2,637.1 411.6,636.5 413.1,636.4 414.5,636.7 415.9,636.5 417.4,636.4 418.8,636.0 420.2,635.5 421.6,635.0 423.1,635.5 424.5,635.8 425.9,634.7 427.4,634.2 428.8,633.8 430.2,632.7 431.7,632.3 433.1,632.9 434.5,633.6 435.9,633.3 437.4,632.5 438.8,632.3 440.2,632.1 441.7,631.6 443.1,631.7 444.5,631.9 446.0,631.6 447.4,631.4 448.8,631.3 450.2,631.6 451.7,632.0 453.1,631.6 454.5,631.5 456.0,630.9 457.4,630.1 458.8,629.9 460.3,629.8 461.7,630.2 463.1,630.4 464.5,630.8 466.0,630.5 467.4,630.0 468.8,630.3 470.3,631.0 471.7,631.2 473.1,631.6 474.6,632.6 476.0,632.2 477.4,631.6 478.8,632.1 480.3,631.3 481.7,630.9 483.1,631.2 484.6,630.6 486.0,630.8 487.4,631.1 488.9,630.4 490.3,630.3 491.7,630.4 493.1,630.6 494.6,630.9 496.0,631.0 497.4,630.9 498.9,630.9 500.3,631.6 501.7,631.1 503.2,631.7 504.6,632.4 506.0,631.6 507.4,631.3 508.9,631.7 510.3,632.1 511.7,631.8 513.2,631.6 514.6,631.5 516.0,631.3 517.5,631.5 518.9,631.3 520.3,631.3 521.7,631.2 523.2,630.8 524.6,630.7 526.0,630.9 527.5,630.9 528.9,630.5 530.3,630.2 531.8,629.9 533.2,629.8 534.6,630.2 536.0,630.4 537.5,630.2 538.9,629.8 540.3,629.6 541.8,630.1 543.2,631.0 544.6,631.2 546.1,630.8 547.5,630.9 548.9,631.5 550.3,631.5 551.8,631.6 553.2,631.9 554.6,631.6 556.1,631.4 557.5,632.0 558.9,632.4 560.4,631.9 561.8,631.5 563.2,631.9 564.6,632.2 566.1,631.8 567.5,632.0 568.9,631.9 570.4,631.1 571.8,631.4 573.2,631.5 574.7,631.2 576.1,631.0 577.5,630.3 578.9,629.6 580.4,629.4 581.8,629.8 583.2,629.2 584.7,628.8 586.1,628.8 587.5,627.8 589.0,627.4 590.4,627.5 591.8,626.9 593.2,626.0 594.7,626.3 596.1,626.4 597.5,626.3 599.0,626.0 600.4,625.8 601.8,626.2 603.3,625.9 604.7,626.1 606.1,626.7 607.5,626.7 609.0,626.4 610.8,626.9" fill="none" stroke="#cda819" stroke-width="1.65" stroke-linejoin="round" stroke-linecap="round"/><polyline points="64.1,646.2 65.6,645.6 67.0,645.9 68.4,645.9 69.9,645.7 71.3,645.1 72.7,644.7 74.2,644.4 75.6,643.8 77.0,644.0 78.4,644.3 79.9,643.7 81.3,643.1 82.7,643.5 84.2,643.8 85.6,643.0 87.0,642.9 88.5,643.6 89.9,643.4 91.3,643.0 92.7,642.9 94.2,642.6 95.6,643.0 97.0,644.0 98.5,643.7 99.9,642.8 101.3,642.9 102.8,642.7 104.2,642.7 105.6,642.9 107.0,642.4 108.5,641.8 109.9,642.0 111.3,642.4 112.8,642.4 114.2,642.5 115.6,642.1 117.1,642.0 118.5,642.3 119.9,642.2 121.3,642.6 122.8,642.3 124.2,642.1 125.6,641.9 127.1,642.0 128.5,642.0 129.9,641.7 131.4,642.0 132.8,642.1 134.2,642.4 135.6,642.5 137.1,642.5 138.5,642.8 139.9,642.3 141.4,642.1 142.8,642.2 144.2,642.2 145.7,642.3 147.1,642.9 148.5,642.7 149.9,642.4 151.4,642.5 152.8,641.5 154.2,640.6 155.7,641.1 157.1,641.3 158.5,641.5 160.0,642.5 161.4,642.6 162.8,642.4 164.2,642.4 165.7,642.7 167.1,642.9 168.5,642.9 170.0,643.0 171.4,643.7 172.8,643.6 174.3,643.3 175.7,643.0 177.1,642.6 178.5,642.5 180.0,642.5 181.4,643.0 182.8,643.0 184.3,642.6 185.7,642.6 187.1,642.6 188.6,642.5 190.0,642.5 191.4,642.3 192.8,641.4 194.3,640.7 195.7,641.4 197.1,641.6 198.6,641.9 200.0,641.7 201.4,640.9 202.9,641.2 204.3,641.4 205.7,641.4 207.1,641.4 208.6,640.7 210.0,640.7 211.4,640.5 212.9,640.1 214.3,640.1 215.7,640.1 217.2,640.4 218.6,640.2 220.0,640.0 221.4,640.0 222.9,640.1 224.3,639.4 225.7,639.1 227.2,639.8 228.6,639.6 230.0,639.8 231.5,640.0 232.9,640.0 234.3,640.2 235.7,639.9 237.2,639.5 238.6,639.0 240.0,638.9 241.5,639.0 242.9,639.1 244.3,639.0 245.8,639.7 247.2,639.3 248.6,638.7 250.0,638.9 251.5,638.4 252.9,638.7 254.3,638.6 255.8,638.0 257.2,638.0 258.6,638.2 260.1,637.5 261.5,637.5 262.9,637.7 264.3,637.4 265.8,637.7 267.2,637.9 268.6,637.6 270.1,638.1 271.5,638.2 272.9,637.4 274.4,637.3 275.8,637.4 277.2,636.7 278.6,636.3 280.1,636.5 281.5,637.5 282.9,637.9 284.4,637.3 285.8,637.2 287.2,637.6 288.7,637.8 290.1,638.1 291.5,638.4 292.9,638.4 294.4,638.2 295.8,638.0 297.2,638.0 298.7,637.9 300.1,637.6 301.5,637.6 303.0,637.9 304.4,637.9 305.8,638.6 307.2,638.9 308.7,639.1 310.1,639.3 311.5,639.3 313.0,639.5 314.4,639.2 315.8,639.3 317.3,639.5 318.7,639.3 320.1,639.9 321.5,640.7 323.0,640.3 324.4,640.2 325.8,640.8 327.3,640.3 328.7,640.2 330.1,640.6 331.6,640.8 333.0,640.7 334.4,640.4 335.8,640.6 337.3,641.2 338.7,641.5 340.1,641.6 341.6,641.8 343.0,641.5 344.4,641.4 345.9,642.0 347.3,642.5 348.7,642.7 350.1,642.8 351.6,643.1 353.0,643.8 354.4,643.4 355.9,643.2 357.3,644.7 358.7,645.0 360.2,644.1 361.6,643.9 363.0,643.8 364.4,643.4 365.9,643.7 367.3,644.1 368.7,644.1 370.2,643.8 371.6,644.0 373.0,643.8 374.5,643.3 375.9,643.3 377.3,643.7 378.7,643.9 380.2,643.9 381.6,644.1 383.0,644.2 384.5,644.3 385.9,644.6 387.3,644.7 388.8,644.7 390.2,645.1 391.6,645.1 393.0,644.6 394.5,644.2 395.9,643.8 397.3,644.1 398.8,644.1 400.2,644.1 401.6,643.9 403.1,643.8 404.5,643.9 405.9,644.0 407.3,643.8 408.8,643.4 410.2,643.5 411.6,643.6 413.1,644.0 414.5,643.9 415.9,643.3 417.4,643.3 418.8,643.6 420.2,643.9 421.6,644.0 423.1,643.7 424.5,644.3 425.9,645.3 427.4,644.6 428.8,643.8 430.2,643.9 431.7,644.3 433.1,643.7 434.5,643.6 435.9,643.8 437.4,644.0 438.8,644.8 440.2,645.1 441.7,644.4 443.1,644.5 444.5,645.1 446.0,644.5 447.4,644.4 448.8,644.8 450.2,644.5 451.7,644.1 453.1,644.1 454.5,644.5 456.0,644.1 457.4,644.3 458.8,644.6 460.3,644.6 461.7,644.5 463.1,644.1 464.5,644.4 466.0,644.9 467.4,644.7 468.8,644.8 470.3,645.1 471.7,645.3 473.1,645.5 474.6,645.4 476.0,645.5 477.4,645.7 478.8,645.6 480.3,645.1 481.7,645.6 483.1,645.6 484.6,645.2 486.0,645.0 487.4,644.8 488.9,644.4 490.3,644.4 491.7,644.8 493.1,644.3 494.6,644.0 496.0,644.5 497.4,644.9 498.9,644.0 500.3,644.3 501.7,644.4 503.2,643.7 504.6,643.8 506.0,643.5 507.4,642.9 508.9,642.9 510.3,643.7 511.7,644.2 513.2,643.6 514.6,643.7 516.0,644.2 517.5,644.1 518.9,644.1 520.3,644.1 521.7,643.9 523.2,643.6 524.6,643.7 526.0,643.8 527.5,644.1 528.9,643.7 530.3,643.9 531.8,643.9 533.2,643.2 534.6,643.6 536.0,643.9 537.5,643.6 538.9,643.3 540.3,643.1 541.8,643.0 543.2,643.6 544.6,644.2 546.1,644.4 547.5,644.2 548.9,643.8 550.3,643.8 551.8,644.0 553.2,643.8 554.6,643.8 556.1,644.5 557.5,644.0 558.9,643.1 560.4,643.1 561.8,643.5 563.2,643.9 564.6,643.4 566.1,643.1 567.5,643.0 568.9,642.6 570.4,642.2 571.8,641.9 573.2,641.8 574.7,641.8 576.1,642.2 577.5,641.3 578.9,640.6 580.4,640.9 581.8,640.9 583.2,641.0 584.7,640.8 586.1,640.5 587.5,639.9 589.0,639.0 590.4,639.5 591.8,640.1 593.2,639.4 594.7,639.5 596.1,639.9 597.5,638.9 599.0,639.0 600.4,639.3 601.8,639.4 603.3,639.5 604.7,639.0 606.1,638.8 607.5,638.9 609.0,639.6 610.8,639.4" fill="none" stroke="#32a487" stroke-width="1.65" stroke-linejoin="round" stroke-linecap="round"/><polyline points="64.1,646.6 65.6,646.5 67.0,647.2 68.4,646.6 69.9,645.7 71.3,645.0 72.7,644.4 74.2,644.7 75.6,645.2 77.0,644.6 78.4,644.1 79.9,644.2 81.3,644.0 82.7,644.1 84.2,644.6 85.6,644.2 87.0,643.7 88.5,644.1 89.9,643.6 91.3,643.0 92.7,642.5 94.2,642.6 95.6,642.6 97.0,641.9 98.5,641.8 99.9,641.5 101.3,641.0 102.8,640.9 104.2,641.3 105.6,641.1 107.0,640.6 108.5,640.0 109.9,639.1 111.3,639.8 112.8,639.9 114.2,638.8 115.6,638.7 117.1,639.1 118.5,638.5 119.9,637.9 121.3,638.3 122.8,638.3 124.2,638.7 125.6,639.5 127.1,639.7 128.5,639.6 129.9,639.8 131.4,640.0 132.8,640.2 134.2,640.3 135.6,640.1 137.1,640.1 138.5,640.8 139.9,640.2 141.4,639.5 142.8,639.7 144.2,639.6 145.7,639.2 147.1,638.8 148.5,638.9 149.9,639.1 151.4,638.8 152.8,638.3 154.2,638.2 155.7,638.5 157.1,638.1 158.5,637.9 160.0,638.4 161.4,637.6 162.8,637.0 164.2,637.1 165.7,636.4 167.1,636.5 168.5,636.9 170.0,636.8 171.4,636.2 172.8,635.7 174.3,635.7 175.7,636.1 177.1,635.9 178.5,635.5 180.0,636.1 181.4,636.2 182.8,635.6 184.3,635.7 185.7,635.5 187.1,635.5 188.6,635.5 190.0,635.6 191.4,635.3 192.8,634.6 194.3,635.4 195.7,635.6 197.1,635.2 198.6,635.4 200.0,635.2 201.4,634.7 202.9,634.0 204.3,633.4 205.7,633.9 207.1,634.2 208.6,633.8 210.0,632.9 211.4,631.9 212.9,631.8 214.3,631.7 215.7,631.8 217.2,631.7 218.6,631.9 220.0,631.8 221.4,631.0 222.9,631.3 224.3,631.5 225.7,631.1 227.2,631.3 228.6,632.2 230.0,631.8 231.5,631.3 232.9,631.5 234.3,631.2 235.7,631.9 237.2,632.8 238.6,633.1 240.0,633.2 241.5,632.6 242.9,632.7 244.3,633.3 245.8,633.2 247.2,633.2 248.6,634.0 250.0,634.4 251.5,634.9 252.9,635.3 254.3,634.4 255.8,634.7 257.2,635.7 258.6,635.7 260.1,635.2 261.5,635.8 262.9,636.0 264.3,635.5 265.8,635.4 267.2,635.2 268.6,635.3 270.1,636.0 271.5,636.8 272.9,636.5 274.4,635.8 275.8,635.8 277.2,636.2 278.6,635.7 280.1,635.3 281.5,635.6 282.9,636.0 284.4,636.1 285.8,636.2 287.2,636.0 288.7,635.4 290.1,635.9 291.5,636.5 292.9,636.5 294.4,636.7 295.8,637.0 297.2,637.0 298.7,637.4 300.1,637.7 301.5,637.3 303.0,637.3 304.4,637.2 305.8,637.0 307.2,636.1 308.7,635.6 310.1,636.8 311.5,637.2 313.0,637.0 314.4,637.1 315.8,637.0 317.3,636.8 318.7,636.9 320.1,637.3 321.5,637.4 323.0,637.5 324.4,637.4 325.8,637.2 327.3,637.1 328.7,636.1 330.1,636.4 331.6,636.8 333.0,636.6 334.4,636.5 335.8,636.0 337.3,636.0 338.7,635.7 340.1,635.3 341.6,635.3 343.0,635.5 344.4,635.3 345.9,635.5 347.3,635.9 348.7,636.5 350.1,636.9 351.6,636.3 353.0,635.9 354.4,635.6 355.9,635.3 357.3,635.1 358.7,634.6 360.2,634.4 361.6,633.9 363.0,633.8 364.4,633.8 365.9,633.2 367.3,632.9 368.7,633.1 370.2,632.9 371.6,632.7 373.0,632.8 374.5,632.9 375.9,632.3 377.3,631.8 378.7,632.3 380.2,632.9 381.6,632.9 383.0,632.7 384.5,632.3 385.9,631.9 387.3,632.7 388.8,632.7 390.2,632.8 391.6,632.6 393.0,631.9 394.5,631.8 395.9,632.2 397.3,632.9 398.8,633.5 400.2,633.6 401.6,633.2 403.1,633.2 404.5,633.6 405.9,634.6 407.3,635.1 408.8,635.6 410.2,635.9 411.6,635.8 413.1,636.0 414.5,636.3 415.9,636.0 417.4,636.7 418.8,637.2 420.2,636.3 421.6,636.1 423.1,636.3 424.5,636.4 425.9,636.5 427.4,635.2 428.8,634.6 430.2,635.6 431.7,634.9 433.1,633.7 434.5,633.7 435.9,634.1 437.4,633.8 438.8,633.1 440.2,632.6 441.7,632.7 443.1,632.8 444.5,633.2 446.0,633.1 447.4,632.2 448.8,631.4 450.2,631.8 451.7,632.3 453.1,631.8 454.5,631.4 456.0,631.4 457.4,631.0 458.8,630.7 460.3,631.0 461.7,630.9 463.1,631.0 464.5,630.8 466.0,630.2 467.4,630.3 468.8,629.9 470.3,629.7 471.7,630.2 473.1,630.6 474.6,630.4 476.0,630.5 477.4,630.9 478.8,630.4 480.3,630.0 481.7,630.1 483.1,630.7 484.6,631.2 486.0,631.4 487.4,631.7 488.9,631.4 490.3,631.5 491.7,632.0 493.1,631.9 494.6,631.9 496.0,631.6 497.4,631.6 498.9,631.8 500.3,631.5 501.7,631.5 503.2,631.6 504.6,631.4 506.0,631.0 507.4,630.4 508.9,630.3 510.3,630.4 511.7,630.1 513.2,630.4 514.6,631.3 516.0,631.3 517.5,630.7 518.9,631.3 520.3,632.2 521.7,631.8 523.2,631.4 524.6,631.6 526.0,632.6 527.5,632.7 528.9,632.2 530.3,632.3 531.8,631.6 533.2,631.3 534.6,631.6 536.0,632.2 537.5,632.7 538.9,633.3 540.3,633.4 541.8,633.1 543.2,633.5 544.6,633.7 546.1,634.5 547.5,634.8 548.9,634.8 550.3,635.4 551.8,634.6 553.2,634.1 554.6,633.9 556.1,633.5 557.5,633.4 558.9,633.2 560.4,632.7 561.8,632.9 563.2,632.7 564.6,632.2 566.1,632.5 567.5,632.3 568.9,632.2 570.4,632.4 571.8,632.4 573.2,632.5 574.7,631.8 576.1,631.8 577.5,632.1 578.9,631.0 580.4,630.7 581.8,630.7 583.2,630.7 584.7,630.5 586.1,630.1 587.5,630.4 589.0,630.5 590.4,630.1 591.8,629.8 593.2,629.7 594.7,629.5 596.1,629.2 597.5,628.8 599.0,628.8 600.4,628.2 601.8,627.8 603.3,628.3 604.7,628.3 606.1,628.1 607.5,628.1 609.0,628.3 610.8,628.4" fill="none" stroke="#c12e34" stroke-width="1.65" stroke-linejoin="round" stroke-linecap="round"/><polyline points="64.1,651.8 65.6,653.5 67.0,655.4 68.4,657.1 69.9,656.9 71.3,657.5 72.7,658.4 74.2,658.7 75.6,658.9 77.0,658.8 78.4,658.2 79.9,657.4 81.3,656.8 82.7,657.2 84.2,657.4 85.6,657.3 87.0,657.2 88.5,657.2 89.9,657.0 91.3,657.1 92.7,657.6 94.2,656.9 95.6,656.1 97.0,654.9 98.5,653.6 99.9,653.4 101.3,652.8 102.8,652.8 104.2,652.5 105.6,651.5 107.0,651.3 108.5,650.8 109.9,650.0 111.3,649.4 112.8,649.7 114.2,650.2 115.6,650.4 117.1,649.5 118.5,648.9 119.9,649.1 121.3,649.0 122.8,648.8 124.2,648.6 125.6,649.0 127.1,648.9 128.5,648.9 129.9,648.7 131.4,648.7 132.8,648.6 134.2,648.7 135.6,648.2 137.1,647.9 138.5,648.5 139.9,648.6 141.4,649.2 142.8,649.5 144.2,649.3 145.7,649.7 147.1,649.4 148.5,648.6 149.9,649.3 151.4,649.5 152.8,648.4 154.2,648.3 155.7,648.4 157.1,648.7 158.5,649.2 160.0,648.6 161.4,648.6 162.8,648.4 164.2,648.3 165.7,648.7 167.1,648.4 168.5,647.9 170.0,647.8 171.4,647.6 172.8,647.5 174.3,647.7 175.7,648.3 177.1,648.6 178.5,647.7 180.0,648.2 181.4,649.0 182.8,648.8 184.3,649.3 185.7,649.8 187.1,649.3 188.6,649.0 190.0,648.2 191.4,648.7 192.8,649.8 194.3,649.6 195.7,649.1 197.1,649.4 198.6,649.4 200.0,649.5 201.4,650.3 202.9,650.8 204.3,650.8 205.7,650.5 207.1,650.7 208.6,651.1 210.0,650.9 211.4,650.2 212.9,650.2 214.3,650.2 215.7,650.2 217.2,650.5 218.6,650.8 220.0,650.9 221.4,650.8 222.9,650.6 224.3,650.6 225.7,650.9 227.2,650.9 228.6,651.0 230.0,650.7 231.5,650.1 232.9,650.5 234.3,650.5 235.7,650.1 237.2,649.8 238.6,649.8 240.0,649.6 241.5,648.9 242.9,648.8 244.3,648.8 245.8,648.9 247.2,648.9 248.6,648.9 250.0,649.1 251.5,649.4 252.9,649.4 254.3,649.8 255.8,649.8 257.2,649.5 258.6,649.9 260.1,650.4 261.5,650.8 262.9,650.9 264.3,650.9 265.8,650.7 267.2,650.6 268.6,650.8 270.1,651.1 271.5,651.3 272.9,651.6 274.4,651.9 275.8,651.9 277.2,651.4 278.6,651.3 280.1,651.6 281.5,652.0 282.9,652.6 284.4,652.6 285.8,652.6 287.2,653.2 288.7,652.4 290.1,652.1 291.5,652.7 292.9,652.6 294.4,652.2 295.8,652.1 297.2,651.6 298.7,651.0 300.1,650.8 301.5,650.9 303.0,650.5 304.4,649.9 305.8,649.8 307.2,649.2 308.7,649.1 310.1,649.3 311.5,648.8 313.0,648.7 314.4,648.6 315.8,648.1 317.3,648.3 318.7,648.4 320.1,648.0 321.5,647.5 323.0,647.7 324.4,648.2 325.8,648.0 327.3,647.9 328.7,647.5 330.1,647.6 331.6,648.2 333.0,648.2 334.4,647.9 335.8,647.9 337.3,648.2 338.7,648.5 340.1,648.6 341.6,648.4 343.0,648.1 344.4,648.2 345.9,648.5 347.3,648.0 348.7,647.6 350.1,647.7 351.6,647.3 353.0,646.8 354.4,647.3 355.9,647.1 357.3,646.7 358.7,647.0 360.2,647.3 361.6,647.4 363.0,647.2 364.4,647.7 365.9,647.9 367.3,647.8 368.7,648.0 370.2,648.4 371.6,648.6 373.0,648.5 374.5,648.3 375.9,648.5 377.3,648.3 378.7,648.4 380.2,648.7 381.6,648.9 383.0,648.7 384.5,648.3 385.9,648.7 387.3,648.6 388.8,648.3 390.2,648.3 391.6,648.1 393.0,647.8 394.5,648.1 395.9,648.3 397.3,647.8 398.8,647.2 400.2,647.1 401.6,647.6 403.1,647.1 404.5,646.4 405.9,647.0 407.3,647.5 408.8,647.5 410.2,646.9 411.6,646.5 413.1,646.4 414.5,646.3 415.9,646.3 417.4,646.2 418.8,646.7 420.2,646.9 421.6,646.6 423.1,646.7 424.5,647.0 425.9,646.9 427.4,647.0 428.8,647.5 430.2,647.9 431.7,647.3 433.1,646.7 434.5,647.0 435.9,647.6 437.4,648.6 438.8,648.5 440.2,647.9 441.7,648.2 443.1,647.5 444.5,647.2 446.0,647.1 447.4,647.3 448.8,648.1 450.2,648.0 451.7,648.2 453.1,648.1 454.5,648.2 456.0,648.3 457.4,648.1 458.8,648.7 460.3,648.5 461.7,648.1 463.1,648.1 464.5,648.2 466.0,648.8 467.4,648.6 468.8,648.6 470.3,649.0 471.7,649.1 473.1,648.7 474.6,648.3 476.0,648.6 477.4,648.3 478.8,648.0 480.3,648.7 481.7,649.2 483.1,649.7 484.6,650.1 486.0,649.6 487.4,649.1 488.9,648.6 490.3,648.4 491.7,648.7 493.1,648.6 494.6,648.4 496.0,648.5 497.4,648.1 498.9,647.6 500.3,647.3 501.7,647.8 503.2,648.1 504.6,647.5 506.0,648.1 507.4,648.7 508.9,648.9 510.3,648.8 511.7,649.0 513.2,649.3 514.6,648.6 516.0,648.4 517.5,648.3 518.9,648.4 520.3,649.0 521.7,648.7 523.2,647.9 524.6,648.1 526.0,648.7 527.5,648.1 528.9,647.5 530.3,647.6 531.8,647.8 533.2,648.2 534.6,647.8 536.0,647.3 537.5,647.7 538.9,647.4 540.3,647.3 541.8,647.8 543.2,648.1 544.6,648.3 546.1,647.5 547.5,647.0 548.9,647.0 550.3,646.8 551.8,647.1 553.2,647.7 554.6,647.5 556.1,647.4 557.5,648.4 558.9,648.9 560.4,648.4 561.8,648.2 563.2,648.3 564.6,648.2 566.1,648.9 567.5,649.5 568.9,649.1 570.4,648.8 571.8,649.0 573.2,649.3 574.7,650.0 576.1,650.1 577.5,649.6 578.9,650.0 580.4,650.2 581.8,649.9 583.2,649.1 584.7,649.5 586.1,650.3 587.5,649.8 589.0,649.6 590.4,649.4 591.8,649.2 593.2,649.3 594.7,649.8 596.1,650.5 597.5,650.6 599.0,650.9 600.4,651.1 601.8,651.1 603.3,650.9 604.7,651.1 606.1,651.8 607.5,652.0 609.0,652.1 610.8,651.8" fill="none" stroke="#e6b600" stroke-width="1.65" stroke-linejoin="round" stroke-linecap="round"/><line x1="58.4" y1="762.4" x2="76.2" y2="762.4" stroke="#c12e34" stroke-width="1.6"/><circle cx="67.3" cy="762.4" r="4.3" fill="#c12e34" fill-opacity="0.85"/><text x="79.9" y="764.6" font-size="6.2" fill="#555" textLength="22.4" lengthAdjust="spacingAndGlyphs">市值因子</text><line x1="110.4" y1="762.4" x2="128.2" y2="762.4" stroke="#e6b600" stroke-width="1.6"/><circle cx="119.3" cy="762.4" r="4.3" fill="#e6b600" fill-opacity="0.85"/><text x="131.9" y="764.6" font-size="6.2" fill="#555" textLength="22.4" lengthAdjust="spacingAndGlyphs">动量因子</text><line x1="162.0" y1="762.4" x2="179.8" y2="762.4" stroke="#0098d9" stroke-width="1.6"/><circle cx="170.9" cy="762.4" r="4.3" fill="#0098d9" fill-opacity="0.85"/><text x="183.5" y="764.6" font-size="6.2" fill="#555" textLength="33.8" lengthAdjust="spacingAndGlyphs">残差波动因子</text><line x1="224.8" y1="762.4" x2="242.6" y2="762.4" stroke="#2b821d" stroke-width="1.6"/><circle cx="233.7" cy="762.4" r="4.3" fill="#2b821d" fill-opacity="0.85"/><text x="246.3" y="764.6" font-size="6.2" fill="#555" textLength="22.4" lengthAdjust="spacingAndGlyphs">贝塔因子</text><line x1="276.8" y1="762.4" x2="294.6" y2="762.4" stroke="#005eaa" stroke-width="1.6"/><circle cx="285.7" cy="762.4" r="4.3" fill="#005eaa" fill-opacity="0.85"/><text x="298.3" y="764.6" font-size="6.2" fill="#555" textLength="39.5" lengthAdjust="spacingAndGlyphs">非线性市值因子</text><line x1="346.0" y1="762.4" x2="363.8" y2="762.4" stroke="#339ca8" stroke-width="1.6"/><circle cx="354.9" cy="762.4" r="4.3" fill="#339ca8" fill-opacity="0.85"/><text x="367.5" y="764.6" font-size="6.2" fill="#555" textLength="28.1" lengthAdjust="spacingAndGlyphs">流动性因子</text><line x1="403.2" y1="762.4" x2="421.0" y2="762.4" stroke="#cda819" stroke-width="1.6"/><circle cx="412.1" cy="762.4" r="4.3" fill="#cda819" fill-opacity="0.85"/><text x="424.7" y="764.6" font-size="6.2" fill="#555" textLength="39.5" lengthAdjust="spacingAndGlyphs">账面市值比因子</text><line x1="472.0" y1="762.4" x2="489.8" y2="762.4" stroke="#32a487" stroke-width="1.6"/><circle cx="480.9" cy="762.4" r="4.3" fill="#32a487" fill-opacity="0.85"/><text x="493.5" y="764.6" font-size="6.2" fill="#555" textLength="22.4" lengthAdjust="spacingAndGlyphs">盈利因子</text><line x1="524.1" y1="762.4" x2="541.9" y2="762.4" stroke="#c12e34" stroke-width="1.6"/><circle cx="533.0" cy="762.4" r="4.3" fill="#c12e34" fill-opacity="0.85"/><text x="545.6" y="764.6" font-size="6.2" fill="#555" textLength="22.4" lengthAdjust="spacingAndGlyphs">杠杆因子</text><line x1="575.8" y1="762.4" x2="593.6" y2="762.4" stroke="#e6b600" stroke-width="1.6"/><circle cx="584.7" cy="762.4" r="4.3" fill="#e6b600" fill-opacity="0.85"/><text x="597.3" y="764.6" font-size="6.2" fill="#555" textLength="22.4" lengthAdjust="spacingAndGlyphs">成长因子</text></svg>
<svg class="abs" style="left:0;top:0" width="1352" height="856" viewBox="0 0 1352 856" font-family="Liberation Sans, Noto Sans CJK SC, sans-serif"><line x1="743.8" y1="573.2" x2="1289.6" y2="573.2" stroke="#e0e0e0" stroke-width="1"/><text x="738.0" y="576.1" text-anchor="end" font-size="8.8" fill="#64666c">80</text><line x1="743.8" y1="598.0" x2="1289.6" y2="598.0" stroke="#e0e0e0" stroke-width="1"/><text x="738.0" y="600.9" text-anchor="end" font-size="8.8" fill="#64666c">60</text><line x1="743.8" y1="622.7" x2="1289.6" y2="622.7" stroke="#e0e0e0" stroke-width="1"/><text x="738.0" y="625.6" text-anchor="end" font-size="8.8" fill="#64666c">40</text><line x1="743.8" y1="647.5" x2="1289.6" y2="647.5" stroke="#e0e0e0" stroke-width="1"/><text x="738.0" y="650.4" text-anchor="end" font-size="8.8" fill="#64666c">20</text><line x1="743.8" y1="672.2" x2="1289.6" y2="672.2" stroke="#e0e0e0" stroke-width="1"/><text x="738.0" y="675.1" text-anchor="end" font-size="8.8" fill="#64666c">0</text><line x1="743.8" y1="697.0" x2="1289.6" y2="697.0" stroke="#e0e0e0" stroke-width="1"/><text x="738.0" y="699.9" text-anchor="end" font-size="8.8" fill="#64666c">-20</text><text x="738.0" y="724.6" text-anchor="end" font-size="8.8" fill="#64666c">-40</text><line x1="743.8" y1="721.7" x2="1289.6" y2="721.7" stroke="#ababab" stroke-width="1.4"/><text x="743.8" y="734.4" text-anchor="middle" font-size="8.8" fill="#64666c">2022年1月4日</text><text x="925.7" y="734.4" text-anchor="middle" font-size="8.8" fill="#64666c">2022年4月28日</text><text x="1107.7" y="734.4" text-anchor="middle" font-size="8.8" fill="#64666c">2022年8月17日</text><text x="1289.6" y="734.4" text-anchor="middle" font-size="8.8" fill="#64666c">2022年12月7日</text><polyline points="744.1,671.5 745.6,671.9 747.0,672.4 748.4,672.5 749.9,672.9 751.3,673.2 752.7,673.5 754.2,673.5 755.6,673.3 757.0,674.1 758.4,674.9 759.9,674.0 761.3,673.7 762.7,673.8 764.2,673.6 765.6,673.1 767.0,673.3 768.5,674.2 769.9,674.4 771.3,674.8 772.7,675.8 774.2,676.0 775.6,676.8 777.0,677.4 778.5,677.8 779.9,679.1 781.3,680.5 782.8,681.5 784.2,682.0 785.6,682.6 787.0,682.3 788.5,682.2 789.9,682.0 791.3,682.0 792.8,681.6 794.2,680.9 795.6,680.5 797.1,680.8 798.5,680.7 799.9,680.1 801.3,680.3 802.8,680.6 804.2,680.1 805.6,679.4 807.1,678.9 808.5,679.1 809.9,678.9 811.4,678.8 812.8,678.6 814.2,678.3 815.6,678.5 817.1,678.4 818.5,678.2 819.9,678.4 821.4,678.1 822.8,677.8 824.2,678.2 825.7,679.1 827.1,679.2 828.5,678.6 829.9,678.7 831.4,679.1 832.8,679.8 834.2,679.8 835.7,680.2 837.1,681.8 838.5,683.0 840.0,684.1 841.4,685.6 842.8,686.2 844.2,686.8 845.7,687.0 847.1,687.7 848.5,689.3 850.0,690.5 851.4,692.1 852.8,693.4 854.3,693.3 855.7,692.0 857.1,691.5 858.5,690.2 860.0,688.7 861.4,688.7 862.8,689.0 864.3,688.6 865.7,688.2 867.1,688.0 868.6,687.8 870.0,687.9 871.4,688.5 872.8,688.1 874.3,687.8 875.7,688.7 877.1,689.0 878.6,688.7 880.0,689.0 881.4,688.8 882.9,688.3 884.3,688.3 885.7,688.3 887.1,689.0 888.6,689.8 890.0,689.8 891.4,689.6 892.9,690.0 894.3,690.3 895.7,690.1 897.2,689.3 898.6,689.2 900.0,689.3 901.4,689.8 902.9,690.5 904.3,690.5 905.7,691.4 907.2,692.4 908.6,692.6 910.0,692.8 911.5,693.1 912.9,693.4 914.3,694.2 915.7,696.8 917.2,698.5 918.6,699.3 920.0,700.3 921.5,701.4 922.9,701.5 924.3,699.9 925.8,698.6 927.2,698.2 928.6,697.7 930.0,697.6 931.5,697.6 932.9,697.7 934.3,697.8 935.8,697.0 937.2,696.5 938.6,696.3 940.1,695.7 941.5,695.3 942.9,695.4 944.3,695.2 945.8,694.2 947.2,693.9 948.6,694.3 950.1,694.8 951.5,694.1 952.9,693.3 954.4,693.4 955.8,693.0 957.2,693.1 958.6,693.4 960.1,693.5 961.5,694.6 962.9,694.9 964.4,694.6 965.8,694.5 967.2,693.6 968.7,692.8 970.1,693.0 971.5,692.9 972.9,692.1 974.4,691.2 975.8,691.0 977.2,691.0 978.7,690.9 980.1,690.7 981.5,690.0 983.0,689.4 984.4,688.9 985.8,688.4 987.2,688.2 988.7,688.2 990.1,688.1 991.5,688.1 993.0,687.9 994.4,687.2 995.8,687.2 997.3,687.6 998.7,687.0 1000.1,686.5 1001.5,686.7 1003.0,686.5 1004.4,686.3 1005.8,686.1 1007.3,685.9 1008.7,686.4 1010.1,686.9 1011.6,686.1 1013.0,684.9 1014.4,685.1 1015.8,685.1 1017.3,684.4 1018.7,683.7 1020.1,683.5 1021.6,683.5 1023.0,682.8 1024.4,683.0 1025.9,683.9 1027.3,684.2 1028.7,684.0 1030.1,683.6 1031.6,683.5 1033.0,683.7 1034.4,683.9 1035.9,684.2 1037.3,683.9 1038.7,684.0 1040.2,683.9 1041.6,684.1 1043.0,684.9 1044.4,684.8 1045.9,684.7 1047.3,684.5 1048.7,684.8 1050.2,685.8 1051.6,685.5 1053.0,686.0 1054.5,686.5 1055.9,685.9 1057.3,685.6 1058.7,686.4 1060.2,686.8 1061.6,687.0 1063.0,686.8 1064.5,686.5 1065.9,687.4 1067.3,687.4 1068.8,687.5 1070.2,687.8 1071.6,687.9 1073.0,688.2 1074.5,688.5 1075.9,687.9 1077.3,687.4 1078.8,687.9 1080.2,687.2 1081.6,686.7 1083.1,687.4 1084.5,687.5 1085.9,685.9 1087.3,685.4 1088.8,685.5 1090.2,685.5 1091.6,685.6 1093.1,685.2 1094.5,685.0 1095.9,685.0 1097.4,684.9 1098.8,684.5 1100.2,684.5 1101.6,684.7 1103.1,684.4 1104.5,684.5 1105.9,684.2 1107.4,684.2 1108.8,684.7 1110.2,685.2 1111.7,685.4 1113.1,685.0 1114.5,685.0 1115.9,685.8 1117.4,686.4 1118.8,685.6 1120.2,685.5 1121.7,685.6 1123.1,686.1 1124.5,686.4 1126.0,685.4 1127.4,685.2 1128.8,686.0 1130.2,685.8 1131.7,685.7 1133.1,685.9 1134.5,685.9 1136.0,686.2 1137.4,686.1 1138.8,686.2 1140.3,686.7 1141.7,686.9 1143.1,687.0 1144.5,687.0 1146.0,687.5 1147.4,688.3 1148.8,687.8 1150.3,687.6 1151.7,688.8 1153.1,689.3 1154.6,689.0 1156.0,689.3 1157.4,689.4 1158.8,689.0 1160.3,689.9 1161.7,690.2 1163.1,689.8 1164.6,689.7 1166.0,689.9 1167.4,690.4 1168.9,690.9 1170.3,691.1 1171.7,691.8 1173.1,692.5 1174.6,692.4 1176.0,692.6 1177.4,693.2 1178.9,694.1 1180.3,694.1 1181.7,694.3 1183.2,695.1 1184.6,695.3 1186.0,695.2 1187.4,694.7 1188.9,695.1 1190.3,695.0 1191.7,694.5 1193.2,693.8 1194.6,693.3 1196.0,693.5 1197.5,693.0 1198.9,692.6 1200.3,693.0 1201.7,692.7 1203.2,692.3 1204.6,693.0 1206.0,692.8 1207.5,692.1 1208.9,693.0 1210.3,693.2 1211.8,692.7 1213.2,693.1 1214.6,694.1 1216.0,694.0 1217.5,694.4 1218.9,695.5 1220.3,696.5 1221.8,697.0 1223.2,696.7 1224.6,697.1 1226.1,697.3 1227.5,696.9 1228.9,696.0 1230.3,695.3 1231.8,694.8 1233.2,694.7 1234.6,694.3 1236.1,693.8 1237.5,693.1 1238.9,692.4 1240.4,693.2 1241.8,693.3 1243.2,692.6 1244.6,691.7 1246.1,691.4 1247.5,692.3 1248.9,691.7 1250.4,690.2 1251.8,690.4 1253.2,690.7 1254.7,690.5 1256.1,690.1 1257.5,689.6 1258.9,689.5 1260.4,689.9 1261.8,690.1 1263.2,690.1 1264.7,689.8 1266.1,689.6 1267.5,689.7 1269.0,689.5 1270.4,689.8 1271.8,689.6 1273.2,689.2 1274.7,688.6 1276.1,688.6 1277.5,689.1 1279.0,688.7 1280.4,688.3 1281.8,687.8 1283.3,687.3 1284.7,687.8 1286.1,688.4 1287.5,688.1 1289.0,687.2 1290.4,687.6" fill="none" stroke="#c12e34" stroke-width="1.65" stroke-linejoin="round" stroke-linecap="round"/><polyline points="744.1,669.0 745.6,668.8 747.0,670.0 748.4,670.4 749.9,670.2 751.3,670.7 752.7,670.9 754.2,671.0 755.6,671.4 757.0,671.7 758.4,671.5 759.9,671.8 761.3,672.7 762.7,672.1 764.2,671.4 765.6,672.0 767.0,673.4 768.5,673.9 769.9,673.7 771.3,673.7 772.7,673.6 774.2,673.2 775.6,672.7 777.0,672.8 778.5,673.0 779.9,673.0 781.3,672.8 782.8,672.5 784.2,672.7 785.6,672.9 787.0,672.9 788.5,672.1 789.9,672.1 791.3,672.1 792.8,671.9 794.2,672.4 795.6,672.3 797.1,672.2 798.5,672.1 799.9,672.2 801.3,672.3 802.8,671.9 804.2,671.0 805.6,670.9 807.1,671.7 808.5,671.5 809.9,671.4 811.4,671.6 812.8,671.4 814.2,672.0 815.6,672.9 817.1,672.7 818.5,672.4 819.9,672.8 821.4,672.6 822.8,672.2 824.2,673.0 825.7,673.6 827.1,673.2 828.5,672.7 829.9,672.8 831.4,672.5 832.8,672.2 834.2,672.4 835.7,671.9 837.1,672.5 838.5,673.7 840.0,674.2 841.4,673.9 842.8,673.7 844.2,674.1 845.7,674.3 847.1,675.2 848.5,675.5 850.0,675.0 851.4,675.5 852.8,675.9 854.3,676.4 855.7,676.2 857.1,676.2 858.5,676.7 860.0,676.4 861.4,676.5 862.8,676.6 864.3,677.2 865.7,677.6 867.1,677.6 868.6,678.3 870.0,677.9 871.4,677.4 872.8,677.7 874.3,677.7 875.7,678.0 877.1,678.4 878.6,677.8 880.0,677.5 881.4,677.9 882.9,677.6 884.3,677.8 885.7,678.0 887.1,677.7 888.6,677.8 890.0,678.5 891.4,679.2 892.9,679.3 894.3,679.3 895.7,679.1 897.2,679.5 898.6,679.8 900.0,679.5 901.4,679.6 902.9,679.9 904.3,680.1 905.7,680.1 907.2,679.8 908.6,680.7 910.0,681.0 911.5,680.0 912.9,680.4 914.3,681.7 915.7,682.4 917.2,681.9 918.6,681.8 920.0,682.1 921.5,681.7 922.9,681.8 924.3,682.6 925.8,683.2 927.2,682.9 928.6,682.1 930.0,682.1 931.5,682.9 932.9,683.5 934.3,683.5 935.8,683.5 937.2,683.2 938.6,682.7 940.1,682.8 941.5,683.2 942.9,683.1 944.3,683.4 945.8,682.9 947.2,681.9 948.6,681.7 950.1,683.0 951.5,683.2 952.9,682.8 954.4,683.2 955.8,683.4 957.2,684.4 958.6,684.2 960.1,683.3 961.5,683.4 962.9,683.6 964.4,683.9 965.8,683.7 967.2,684.0 968.7,684.5 970.1,684.0 971.5,683.5 972.9,683.2 974.4,682.6 975.8,682.6 977.2,682.9 978.7,682.8 980.1,683.5 981.5,683.6 983.0,683.3 984.4,684.0 985.8,684.8 987.2,684.6 988.7,684.5 990.1,684.7 991.5,684.7 993.0,685.2 994.4,685.0 995.8,685.3 997.3,686.3 998.7,686.2 1000.1,686.0 1001.5,685.8 1003.0,686.4 1004.4,686.9 1005.8,686.2 1007.3,686.6 1008.7,686.7 1010.1,686.5 1011.6,686.4 1013.0,687.1 1014.4,688.4 1015.8,687.9 1017.3,687.2 1018.7,687.4 1020.1,687.5 1021.6,687.9 1023.0,688.6 1024.4,688.0 1025.9,687.6 1027.3,687.2 1028.7,687.3 1030.1,687.6 1031.6,686.8 1033.0,687.1 1034.4,687.0 1035.9,686.8 1037.3,687.0 1038.7,686.9 1040.2,686.2 1041.6,685.7 1043.0,685.9 1044.4,685.8 1045.9,686.0 1047.3,685.8 1048.7,685.4 1050.2,685.5 1051.6,684.3 1053.0,683.2 1054.5,683.0 1055.9,682.6 1057.3,682.9 1058.7,683.2 1060.2,683.3 1061.6,683.4 1063.0,683.5 1064.5,684.0 1065.9,684.4 1067.3,684.2 1068.8,684.2 1070.2,684.3 1071.6,684.5 1073.0,684.5 1074.5,685.1 1075.9,685.9 1077.3,685.8 1078.8,685.7 1080.2,685.9 1081.6,686.1 1083.1,686.0 1084.5,686.9 1085.9,688.4 1087.3,687.9 1088.8,686.8 1090.2,687.5 1091.6,688.2 1093.1,687.7 1094.5,687.2 1095.9,687.9 1097.4,688.0 1098.8,688.4 1100.2,688.9 1101.6,688.6 1103.1,688.9 1104.5,688.8 1105.9,688.9 1107.4,689.0 1108.8,689.5 1110.2,689.7 1111.7,689.5 1113.1,689.4 1114.5,689.4 1115.9,689.2 1117.4,689.3 1118.8,689.9 1120.2,690.1 1121.7,689.5 1123.1,689.6 1124.5,689.9 1126.0,689.7 1127.4,689.4 1128.8,689.2 1130.2,689.4 1131.7,689.7 1133.1,689.3 1134.5,689.1 1136.0,690.1 1137.4,690.6 1138.8,690.3 1140.3,690.3 1141.7,690.2 1143.1,690.3 1144.5,690.8 1146.0,690.7 1147.4,690.6 1148.8,691.0 1150.3,690.9 1151.7,690.7 1153.1,690.8 1154.6,691.0 1156.0,691.2 1157.4,691.5 1158.8,691.5 1160.3,691.7 1161.7,692.0 1163.1,691.4 1164.6,691.3 1166.0,691.7 1167.4,691.7 1168.9,692.0 1170.3,692.6 1171.7,692.3 1173.1,691.6 1174.6,691.5 1176.0,691.7 1177.4,691.3 1178.9,691.7 1180.3,692.9 1181.7,692.6 1183.2,692.1 1184.6,692.6 1186.0,692.0 1187.4,691.5 1188.9,691.7 1190.3,691.9 1191.7,691.4 1193.2,691.2 1194.6,691.4 1196.0,691.5 1197.5,691.0 1198.9,690.8 1200.3,691.2 1201.7,691.5 1203.2,692.0 1204.6,692.1 1206.0,692.8 1207.5,693.0 1208.9,692.6 1210.3,693.3 1211.8,693.5 1213.2,693.3 1214.6,692.9 1216.0,692.7 1217.5,693.1 1218.9,693.0 1220.3,692.9 1221.8,692.9 1223.2,692.5 1224.6,692.0 1226.1,692.5 1227.5,692.6 1228.9,691.7 1230.3,692.3 1231.8,692.4 1233.2,691.6 1234.6,692.0 1236.1,691.8 1237.5,691.3 1238.9,691.8 1240.4,691.9 1241.8,692.4 1243.2,692.7 1244.6,692.8 1246.1,692.9 1247.5,692.3 1248.9,692.2 1250.4,692.2 1251.8,692.3 1253.2,692.5 1254.7,693.0 1256.1,692.6 1257.5,692.1 1258.9,691.9 1260.4,692.5 1261.8,693.0 1263.2,692.6 1264.7,692.6 1266.1,692.9 1267.5,693.1 1269.0,693.1 1270.4,693.0 1271.8,692.7 1273.2,692.9 1274.7,692.6 1276.1,693.1 1277.5,693.4 1279.0,693.0 1280.4,693.8 1281.8,694.3 1283.3,694.5 1284.7,695.2 1286.1,695.7 1287.5,695.8 1289.0,695.4 1290.4,695.3" fill="none" stroke="#e6b600" stroke-width="1.65" stroke-linejoin="round" stroke-linecap="round"/><polyline points="744.1,671.5 745.6,671.4 747.0,672.2 748.4,672.4 749.9,672.3 751.3,672.5 752.7,673.2 754.2,672.8 755.6,673.0 757.0,674.2 758.4,674.0 759.9,674.0 761.3,673.8 762.7,674.1 764.2,675.3 765.6,674.9 767.0,674.5 768.5,674.9 769.9,674.6 771.3,674.6 772.7,674.8 774.2,674.8 775.6,674.6 777.0,675.6 778.5,676.1 779.9,676.0 781.3,676.3 782.8,676.4 784.2,676.0 785.6,675.8 787.0,676.5 788.5,677.2 789.9,676.8 791.3,676.5 792.8,676.7 794.2,677.2 795.6,677.6 797.1,677.5 798.5,677.3 799.9,677.5 801.3,677.7 802.8,677.5 804.2,677.7 805.6,677.8 807.1,678.0 808.5,678.4 809.9,678.1 811.4,678.1 812.8,678.5 814.2,678.2 815.6,678.0 817.1,677.9 818.5,677.9 819.9,678.7 821.4,679.5 822.8,679.4 824.2,679.3 825.7,679.7 827.1,680.0 828.5,679.9 829.9,679.8 831.4,679.8 832.8,679.0 834.2,678.7 835.7,678.2 837.1,677.9 838.5,678.4 840.0,678.5 841.4,678.3 842.8,678.3 844.2,678.8 845.7,678.5 847.1,678.3 848.5,678.8 850.0,679.3 851.4,679.4 852.8,679.7 854.3,679.4 855.7,679.4 857.1,680.1 858.5,680.3 860.0,680.2 861.4,680.0 862.8,680.1 864.3,680.4 865.7,680.0 867.1,680.0 868.6,680.6 870.0,680.8 871.4,680.8 872.8,681.0 874.3,681.4 875.7,681.6 877.1,681.9 878.6,682.2 880.0,682.8 881.4,683.1 882.9,683.2 884.3,683.1 885.7,682.5 887.1,682.9 888.6,684.2 890.0,684.5 891.4,684.3 892.9,684.4 894.3,684.9 895.7,685.2 897.2,685.1 898.6,685.7 900.0,685.9 901.4,686.3 902.9,686.2 904.3,685.9 905.7,686.2 907.2,685.8 908.6,685.7 910.0,685.8 911.5,685.6 912.9,685.9 914.3,686.1 915.7,686.5 917.2,686.6 918.6,686.1 920.0,686.4 921.5,686.5 922.9,686.6 924.3,686.7 925.8,686.4 927.2,685.8 928.6,685.7 930.0,686.6 931.5,686.9 932.9,686.3 934.3,685.9 935.8,685.7 937.2,685.7 938.6,685.2 940.1,684.7 941.5,684.6 942.9,685.0 944.3,685.1 945.8,685.2 947.2,685.4 948.6,686.0 950.1,686.2 951.5,685.6 952.9,686.1 954.4,686.5 955.8,686.5 957.2,686.1 958.6,686.3 960.1,687.1 961.5,686.7 962.9,686.0 964.4,685.7 965.8,686.0 967.2,686.4 968.7,686.0 970.1,685.6 971.5,686.1 972.9,686.7 974.4,686.2 975.8,686.4 977.2,686.3 978.7,686.3 980.1,686.4 981.5,686.8 983.0,687.1 984.4,687.3 985.8,687.6 987.2,687.7 988.7,688.5 990.1,688.5 991.5,688.6 993.0,688.9 994.4,689.3 995.8,689.5 997.3,689.4 998.7,689.7 1000.1,690.3 1001.5,690.1 1003.0,689.7 1004.4,689.8 1005.8,689.6 1007.3,689.4 1008.7,689.5 1010.1,689.7 1011.6,689.4 1013.0,689.4 1014.4,689.6 1015.8,689.6 1017.3,690.6 1018.7,690.3 1020.1,689.7 1021.6,690.0 1023.0,690.3 1024.4,690.3 1025.9,689.6 1027.3,689.4 1028.7,690.0 1030.1,690.6 1031.6,690.9 1033.0,690.5 1034.4,690.3 1035.9,690.0 1037.3,690.0 1038.7,690.1 1040.2,689.5 1041.6,689.4 1043.0,690.0 1044.4,689.6 1045.9,688.7 1047.3,688.5 1048.7,688.4 1050.2,688.5 1051.6,688.7 1053.0,688.5 1054.5,688.3 1055.9,688.5 1057.3,688.2 1058.7,687.5 1060.2,686.9 1061.6,687.2 1063.0,687.6 1064.5,687.4 1065.9,687.6 1067.3,687.7 1068.8,687.0 1070.2,686.5 1071.6,686.9 1073.0,687.0 1074.5,687.2 1075.9,687.0 1077.3,686.0 1078.8,686.3 1080.2,686.3 1081.6,685.5 1083.1,685.2 1084.5,684.4 1085.9,684.2 1087.3,683.8 1088.8,682.5 1090.2,681.8 1091.6,682.1 1093.1,682.1 1094.5,681.2 1095.9,681.2 1097.4,680.7 1098.8,680.0 1100.2,680.4 1101.6,680.4 1103.1,679.9 1104.5,680.1 1105.9,680.6 1107.4,680.1 1108.8,679.9 1110.2,680.2 1111.7,680.2 1113.1,680.8 1114.5,681.1 1115.9,681.0 1117.4,681.2 1118.8,681.0 1120.2,681.5 1121.7,681.8 1123.1,682.0 1124.5,682.3 1126.0,682.0 1127.4,682.7 1128.8,683.1 1130.2,682.6 1131.7,682.6 1133.1,683.0 1134.5,683.8 1136.0,683.9 1137.4,683.4 1138.8,683.0 1140.3,683.1 1141.7,683.5 1143.1,683.9 1144.5,683.9 1146.0,684.3 1147.4,684.4 1148.8,683.9 1150.3,684.5 1151.7,684.9 1153.1,684.8 1154.6,685.0 1156.0,684.8 1157.4,685.1 1158.8,686.2 1160.3,686.4 1161.7,685.9 1163.1,686.1 1164.6,686.1 1166.0,686.0 1167.4,686.0 1168.9,685.8 1170.3,686.1 1171.7,685.6 1173.1,685.5 1174.6,686.7 1176.0,686.1 1177.4,685.9 1178.9,687.1 1180.3,687.3 1181.7,687.3 1183.2,687.7 1184.6,688.0 1186.0,687.2 1187.4,687.1 1188.9,687.7 1190.3,688.1 1191.7,688.1 1193.2,688.1 1194.6,688.7 1196.0,688.0 1197.5,687.9 1198.9,688.9 1200.3,688.6 1201.7,688.2 1203.2,687.9 1204.6,687.8 1206.0,687.7 1207.5,687.1 1208.9,687.0 1210.3,686.6 1211.8,686.1 1213.2,686.0 1214.6,685.4 1216.0,685.5 1217.5,685.7 1218.9,685.0 1220.3,684.8 1221.8,684.6 1223.2,685.0 1224.6,685.7 1226.1,685.9 1227.5,685.7 1228.9,685.5 1230.3,685.5 1231.8,685.3 1233.2,685.8 1234.6,686.4 1236.1,686.9 1237.5,687.0 1238.9,687.2 1240.4,687.4 1241.8,686.6 1243.2,686.1 1244.6,686.0 1246.1,686.3 1247.5,686.4 1248.9,686.3 1250.4,686.9 1251.8,686.8 1253.2,686.5 1254.7,686.9 1256.1,686.8 1257.5,686.2 1258.9,685.9 1260.4,686.2 1261.8,686.3 1263.2,686.5 1264.7,685.8 1266.1,685.3 1267.5,685.3 1269.0,685.3 1270.4,685.6 1271.8,685.2 1273.2,685.6 1274.7,685.6 1276.1,685.2 1277.5,685.2 1279.0,685.4 1280.4,685.8 1281.8,686.3 1283.3,686.6 1284.7,686.4 1286.1,685.9 1287.5,686.0 1289.0,686.1 1290.4,686.4" fill="none" stroke="#0098d9" stroke-width="1.65" stroke-linejoin="round" stroke-linecap="round"/><polyline points="744.1,670.4 745.6,670.2 747.0,670.4 748.4,670.6 749.9,670.7 751.3,670.6 752.7,670.8 754.2,671.5 755.6,671.7 757.0,671.5 758.4,671.2 759.9,671.1 761.3,671.2 762.7,671.5 764.2,671.8 765.6,671.7 767.0,672.0 768.5,672.2 769.9,672.0 771.3,672.3 772.7,672.8 774.2,673.7 775.6,673.5 777.0,673.0 778.5,673.1 779.9,673.3 781.3,673.4 782.8,674.3 784.2,674.1 785.6,673.6 787.0,673.8 788.5,674.0 789.9,674.2 791.3,674.4 792.8,674.3 794.2,674.9 795.6,675.3 797.1,674.4 798.5,674.6 799.9,675.1 801.3,674.7 802.8,675.0 804.2,675.0 805.6,675.0 807.1,674.9 808.5,674.8 809.9,674.9 811.4,674.8 812.8,675.0 814.2,675.0 815.6,675.0 817.1,675.4 818.5,675.9 819.9,675.8 821.4,676.2 822.8,676.9 824.2,676.0 825.7,675.9 827.1,676.3 828.5,676.2 829.9,676.1 831.4,676.6 832.8,676.7 834.2,676.3 835.7,676.4 837.1,677.0 838.5,677.5 840.0,676.6 841.4,676.2 842.8,676.6 844.2,676.7 845.7,676.6 847.1,676.5 848.5,676.8 850.0,676.9 851.4,677.2 852.8,678.2 854.3,678.0 855.7,677.8 857.1,678.1 858.5,677.5 860.0,677.4 861.4,677.4 862.8,677.6 864.3,678.1 865.7,678.4 867.1,678.2 868.6,677.7 870.0,677.9 871.4,678.8 872.8,679.0 874.3,678.6 875.7,678.1 877.1,678.1 878.6,678.9 880.0,678.9 881.4,679.2 882.9,679.4 884.3,678.9 885.7,679.0 887.1,679.3 888.6,679.8 890.0,679.7 891.4,679.0 892.9,679.2 894.3,679.9 895.7,680.4 897.2,680.1 898.6,680.1 900.0,680.7 901.4,680.5 902.9,680.2 904.3,679.9 905.7,680.0 907.2,680.6 908.6,681.0 910.0,681.2 911.5,681.7 912.9,681.5 914.3,681.1 915.7,681.7 917.2,681.5 918.6,680.9 920.0,681.1 921.5,681.0 922.9,681.1 924.3,680.9 925.8,681.1 927.2,680.9 928.6,680.4 930.0,680.2 931.5,680.0 932.9,680.6 934.3,681.1 935.8,680.9 937.2,681.0 938.6,681.2 940.1,680.8 941.5,680.6 942.9,680.9 944.3,681.5 945.8,681.4 947.2,681.1 948.6,681.5 950.1,681.8 951.5,681.9 952.9,681.9 954.4,681.6 955.8,681.3 957.2,681.1 958.6,681.2 960.1,682.5 961.5,682.6 962.9,682.1 964.4,682.2 965.8,682.3 967.2,681.9 968.7,681.8 970.1,682.2 971.5,682.5 972.9,682.4 974.4,682.5 975.8,682.6 977.2,682.4 978.7,682.5 980.1,682.8 981.5,683.3 983.0,684.0 984.4,684.0 985.8,683.8 987.2,683.8 988.7,683.7 990.1,683.9 991.5,685.0 993.0,685.7 994.4,685.4 995.8,685.2 997.3,685.2 998.7,685.5 1000.1,685.6 1001.5,685.6 1003.0,685.3 1004.4,685.1 1005.8,685.1 1007.3,685.3 1008.7,684.9 1010.1,684.8 1011.6,684.9 1013.0,684.2 1014.4,684.0 1015.8,684.0 1017.3,683.7 1018.7,683.6 1020.1,683.3 1021.6,682.5 1023.0,682.6 1024.4,683.1 1025.9,683.5 1027.3,683.7 1028.7,682.8 1030.1,683.2 1031.6,683.6 1033.0,683.6 1034.4,684.5 1035.9,684.8 1037.3,684.1 1038.7,683.9 1040.2,683.9 1041.6,684.3 1043.0,685.1 1044.4,684.9 1045.9,685.1 1047.3,685.8 1048.7,686.1 1050.2,685.8 1051.6,685.5 1053.0,685.6 1054.5,685.5 1055.9,686.1 1057.3,686.6 1058.7,687.1 1060.2,687.4 1061.6,687.1 1063.0,686.9 1064.5,687.6 1065.9,688.2 1067.3,687.9 1068.8,687.8 1070.2,687.6 1071.6,688.2 1073.0,688.4 1074.5,688.5 1075.9,689.0 1077.3,688.8 1078.8,688.3 1080.2,688.7 1081.6,689.6 1083.1,689.4 1084.5,688.8 1085.9,689.4 1087.3,689.9 1088.8,689.5 1090.2,689.9 1091.6,690.1 1093.1,689.9 1094.5,690.0 1095.9,689.7 1097.4,689.9 1098.8,690.0 1100.2,689.5 1101.6,689.7 1103.1,690.6 1104.5,691.1 1105.9,691.4 1107.4,691.3 1108.8,691.1 1110.2,690.8 1111.7,690.2 1113.1,690.2 1114.5,690.0 1115.9,689.9 1117.4,689.8 1118.8,689.5 1120.2,689.2 1121.7,688.9 1123.1,689.2 1124.5,689.0 1126.0,688.3 1127.4,688.1 1128.8,688.3 1130.2,687.9 1131.7,687.2 1133.1,686.7 1134.5,686.6 1136.0,687.2 1137.4,687.4 1138.8,687.1 1140.3,687.3 1141.7,687.2 1143.1,686.9 1144.5,686.6 1146.0,685.9 1147.4,686.1 1148.8,686.5 1150.3,686.4 1151.7,686.0 1153.1,685.8 1154.6,686.5 1156.0,686.3 1157.4,686.0 1158.8,686.7 1160.3,686.8 1161.7,686.7 1163.1,686.3 1164.6,686.7 1166.0,687.4 1167.4,687.8 1168.9,688.2 1170.3,688.0 1171.7,688.4 1173.1,688.4 1174.6,688.0 1176.0,688.4 1177.4,688.6 1178.9,688.1 1180.3,687.9 1181.7,688.2 1183.2,688.4 1184.6,688.5 1186.0,688.6 1187.4,688.9 1188.9,689.3 1190.3,689.5 1191.7,689.4 1193.2,689.4 1194.6,689.9 1196.0,689.8 1197.5,689.9 1198.9,690.4 1200.3,690.5 1201.7,690.3 1203.2,690.3 1204.6,690.3 1206.0,690.7 1207.5,690.8 1208.9,690.2 1210.3,690.1 1211.8,690.8 1213.2,691.2 1214.6,691.1 1216.0,690.8 1217.5,691.0 1218.9,691.3 1220.3,691.2 1221.8,691.6 1223.2,691.6 1224.6,691.8 1226.1,691.8 1227.5,691.7 1228.9,691.9 1230.3,692.5 1231.8,692.8 1233.2,692.5 1234.6,691.7 1236.1,691.3 1237.5,691.5 1238.9,691.6 1240.4,690.7 1241.8,690.3 1243.2,690.4 1244.6,690.4 1246.1,690.6 1247.5,690.1 1248.9,690.4 1250.4,690.4 1251.8,690.5 1253.2,690.4 1254.7,689.7 1256.1,690.1 1257.5,689.9 1258.9,689.2 1260.4,689.6 1261.8,689.6 1263.2,689.2 1264.7,688.8 1266.1,689.0 1267.5,689.5 1269.0,689.0 1270.4,688.8 1271.8,688.5 1273.2,688.1 1274.7,687.8 1276.1,687.9 1277.5,688.6 1279.0,688.7 1280.4,688.5 1281.8,688.3 1283.3,687.7 1284.7,687.0 1286.1,687.3 1287.5,687.5 1289.0,687.5 1290.4,687.0" fill="none" stroke="#2b821d" stroke-width="1.65" stroke-linejoin="round" stroke-linecap="round"/><polyline points="744.1,671.1 745.6,671.1 747.0,671.4 748.4,671.0 749.9,671.1 751.3,671.5 752.7,671.5 754.2,671.8 755.6,672.5 757.0,673.5 758.4,673.9 759.9,673.4 761.3,673.5 762.7,673.8 764.2,673.9 765.6,673.9 767.0,674.1 768.5,674.0 769.9,674.5 771.3,674.7 772.7,674.2 774.2,674.2 775.6,673.9 777.0,673.7 778.5,673.4 779.9,673.8 781.3,674.0 782.8,673.0 784.2,672.9 785.6,672.9 787.0,672.6 788.5,672.9 789.9,672.5 791.3,672.7 792.8,673.1 794.2,673.7 795.6,674.3 797.1,675.0 798.5,675.2 799.9,675.7 801.3,675.7 802.8,676.0 804.2,676.5 805.6,676.6 807.1,677.0 808.5,677.2 809.9,677.3 811.4,677.8 812.8,678.9 814.2,679.2 815.6,678.9 817.1,679.0 818.5,679.4 819.9,679.5 821.4,679.5 822.8,679.8 824.2,680.1 825.7,680.2 827.1,679.5 828.5,679.0 829.9,679.2 831.4,679.5 832.8,679.5 834.2,678.9 835.7,679.0 837.1,678.7 838.5,678.2 840.0,678.4 841.4,678.5 842.8,678.2 844.2,677.9 845.7,677.4 847.1,676.8 848.5,677.1 850.0,677.8 851.4,678.3 852.8,678.2 854.3,678.3 855.7,678.5 857.1,678.7 858.5,678.1 860.0,677.5 861.4,677.6 862.8,677.6 864.3,678.3 865.7,678.2 867.1,677.3 868.6,677.3 870.0,677.7 871.4,677.5 872.8,677.3 874.3,677.0 875.7,676.2 877.1,675.0 878.6,674.4 880.0,674.3 881.4,674.4 882.9,673.8 884.3,672.4 885.7,672.4 887.1,673.0 888.6,672.8 890.0,673.5 891.4,674.5 892.9,674.8 894.3,674.6 895.7,674.5 897.2,674.3 898.6,674.8 900.0,675.6 901.4,675.5 902.9,675.5 904.3,676.9 905.7,676.7 907.2,675.6 908.6,676.2 910.0,676.7 911.5,676.6 912.9,677.1 914.3,677.3 915.7,677.6 917.2,678.0 918.6,678.2 920.0,678.1 921.5,677.3 922.9,677.7 924.3,677.9 925.8,677.9 927.2,678.6 928.6,678.1 930.0,678.3 931.5,679.1 932.9,679.0 934.3,679.0 935.8,679.2 937.2,679.0 938.6,679.1 940.1,679.8 941.5,680.2 942.9,679.9 944.3,679.9 945.8,680.1 947.2,680.4 948.6,680.6 950.1,680.2 951.5,680.6 952.9,680.8 954.4,679.9 955.8,680.3 957.2,680.7 958.6,680.4 960.1,680.7 961.5,680.4 962.9,680.3 964.4,680.3 965.8,679.9 967.2,679.5 968.7,679.5 970.1,679.7 971.5,680.0 972.9,680.8 974.4,681.2 975.8,681.1 977.2,680.8 978.7,681.4 980.1,682.3 981.5,683.0 983.0,682.5 984.4,682.3 985.8,683.1 987.2,683.8 988.7,684.0 990.1,683.9 991.5,685.2 993.0,685.8 994.4,684.9 995.8,684.8 997.3,685.9 998.7,685.9 1000.1,685.9 1001.5,686.1 1003.0,685.5 1004.4,685.2 1005.8,685.9 1007.3,686.3 1008.7,685.7 1010.1,686.0 1011.6,686.4 1013.0,686.5 1014.4,687.1 1015.8,687.2 1017.3,687.7 1018.7,688.3 1020.1,687.9 1021.6,688.2 1023.0,689.2 1024.4,689.4 1025.9,689.5 1027.3,689.7 1028.7,689.4 1030.1,690.0 1031.6,690.8 1033.0,690.5 1034.4,690.4 1035.9,690.3 1037.3,690.2 1038.7,689.8 1040.2,689.4 1041.6,689.6 1043.0,690.2 1044.4,690.2 1045.9,690.3 1047.3,689.8 1048.7,689.2 1050.2,689.3 1051.6,689.6 1053.0,690.1 1054.5,689.5 1055.9,689.2 1057.3,689.1 1058.7,688.6 1060.2,688.5 1061.6,688.4 1063.0,688.7 1064.5,689.0 1065.9,689.1 1067.3,689.3 1068.8,688.5 1070.2,688.9 1071.6,689.7 1073.0,689.1 1074.5,689.3 1075.9,690.5 1077.3,691.2 1078.8,690.9 1080.2,690.9 1081.6,691.5 1083.1,691.5 1084.5,691.6 1085.9,692.0 1087.3,692.5 1088.8,692.8 1090.2,692.8 1091.6,692.4 1093.1,693.1 1094.5,694.0 1095.9,693.7 1097.4,693.6 1098.8,694.1 1100.2,693.7 1101.6,693.7 1103.1,694.9 1104.5,694.9 1105.9,694.1 1107.4,694.8 1108.8,695.3 1110.2,695.0 1111.7,695.1 1113.1,694.8 1114.5,693.8 1115.9,692.7 1117.4,692.0 1118.8,691.9 1120.2,691.7 1121.7,691.2 1123.1,690.2 1124.5,689.5 1126.0,690.2 1127.4,689.9 1128.8,688.7 1130.2,688.5 1131.7,688.7 1133.1,688.7 1134.5,689.0 1136.0,689.2 1137.4,689.0 1138.8,688.7 1140.3,688.1 1141.7,687.9 1143.1,687.7 1144.5,688.3 1146.0,689.0 1147.4,688.8 1148.8,688.4 1150.3,688.8 1151.7,689.4 1153.1,689.5 1154.6,689.2 1156.0,689.5 1157.4,689.9 1158.8,690.3 1160.3,690.8 1161.7,691.0 1163.1,691.0 1164.6,691.5 1166.0,692.0 1167.4,692.1 1168.9,692.3 1170.3,692.3 1171.7,692.4 1173.1,692.0 1174.6,691.5 1176.0,691.6 1177.4,692.3 1178.9,692.9 1180.3,692.9 1181.7,692.6 1183.2,693.0 1184.6,692.8 1186.0,691.7 1187.4,691.4 1188.9,691.7 1190.3,692.5 1191.7,692.9 1193.2,692.8 1194.6,693.0 1196.0,693.3 1197.5,693.0 1198.9,693.1 1200.3,693.7 1201.7,694.2 1203.2,693.9 1204.6,693.6 1206.0,694.1 1207.5,695.1 1208.9,694.9 1210.3,694.2 1211.8,694.8 1213.2,695.5 1214.6,695.3 1216.0,695.1 1217.5,695.4 1218.9,694.9 1220.3,694.8 1221.8,695.4 1223.2,695.6 1224.6,695.5 1226.1,695.1 1227.5,694.2 1228.9,694.4 1230.3,694.8 1231.8,694.0 1233.2,693.8 1234.6,693.9 1236.1,693.3 1237.5,692.2 1238.9,691.8 1240.4,692.0 1241.8,691.6 1243.2,691.5 1244.6,691.2 1246.1,691.1 1247.5,691.7 1248.9,691.1 1250.4,690.7 1251.8,690.7 1253.2,690.4 1254.7,690.3 1256.1,690.3 1257.5,690.0 1258.9,689.7 1260.4,689.5 1261.8,689.1 1263.2,689.2 1264.7,689.3 1266.1,688.8 1267.5,688.0 1269.0,688.7 1270.4,689.0 1271.8,689.0 1273.2,688.5 1274.7,688.1 1276.1,688.5 1277.5,688.8 1279.0,688.5 1280.4,687.9 1281.8,688.0 1283.3,688.1 1284.7,687.6 1286.1,687.8 1287.5,687.4 1289.0,686.9 1290.4,687.6" fill="none" stroke="#005eaa" stroke-width="1.65" stroke-linejoin="round" stroke-linecap="round"/><polyline points="744.1,669.8 745.6,669.7 747.0,670.0 748.4,670.4 749.9,670.5 751.3,670.1 752.7,669.8 754.2,670.4 755.6,670.6 757.0,670.2 758.4,670.2 759.9,670.4 761.3,670.5 762.7,669.7 764.2,668.7 765.6,668.6 767.0,668.6 768.5,668.4 769.9,668.3 771.3,667.4 772.7,667.1 774.2,667.3 775.6,666.7 777.0,666.7 778.5,666.5 779.9,665.8 781.3,665.8 782.8,666.0 784.2,665.1 785.6,664.8 787.0,664.3 788.5,663.6 789.9,663.6 791.3,663.7 792.8,663.5 794.2,663.0 795.6,662.4 797.1,662.0 798.5,662.6 799.9,662.9 801.3,662.1 802.8,662.2 804.2,662.4 805.6,661.7 807.1,661.3 808.5,661.5 809.9,661.6 811.4,661.8 812.8,662.1 814.2,661.8 815.6,661.8 817.1,662.1 818.5,662.6 819.9,663.0 821.4,663.3 822.8,663.5 824.2,663.2 825.7,663.1 827.1,663.3 828.5,663.6 829.9,663.6 831.4,663.4 832.8,663.7 834.2,663.8 835.7,664.1 837.1,664.9 838.5,665.1 840.0,664.6 841.4,664.8 842.8,665.7 844.2,666.2 845.7,666.6 847.1,667.4 848.5,668.1 850.0,668.1 851.4,668.6 852.8,668.5 854.3,668.3 855.7,668.6 857.1,668.8 858.5,669.7 860.0,669.7 861.4,669.8 862.8,669.7 864.3,669.7 865.7,669.6 867.1,669.1 868.6,669.8 870.0,670.0 871.4,669.7 872.8,669.6 874.3,669.6 875.7,669.4 877.1,669.0 878.6,668.6 880.0,668.5 881.4,668.0 882.9,667.7 884.3,668.1 885.7,666.8 887.1,665.1 888.6,664.4 890.0,663.5 891.4,662.5 892.9,661.2 894.3,660.3 895.7,659.6 897.2,658.7 898.6,658.3 900.0,657.9 901.4,657.4 902.9,657.3 904.3,658.1 905.7,658.7 907.2,659.0 908.6,659.3 910.0,659.9 911.5,660.8 912.9,661.1 914.3,661.2 915.7,661.9 917.2,662.4 918.6,662.6 920.0,662.6 921.5,662.3 922.9,662.8 924.3,663.8 925.8,664.2 927.2,664.5 928.6,664.5 930.0,664.7 931.5,665.0 932.9,665.6 934.3,665.8 935.8,666.5 937.2,667.3 938.6,667.1 940.1,667.3 941.5,667.5 942.9,667.7 944.3,668.4 945.8,669.6 947.2,669.9 948.6,669.8 950.1,670.4 951.5,670.4 952.9,670.5 954.4,670.1 955.8,670.2 957.2,671.2 958.6,671.0 960.1,670.4 961.5,670.1 962.9,670.1 964.4,669.6 965.8,669.2 967.2,669.3 968.7,669.0 970.1,669.0 971.5,669.2 972.9,669.3 974.4,668.9 975.8,668.6 977.2,668.8 978.7,669.4 980.1,669.8 981.5,669.2 983.0,668.9 984.4,670.0 985.8,670.6 987.2,670.0 988.7,669.9 990.1,670.5 991.5,671.3 993.0,671.9 994.4,671.5 995.8,671.0 997.3,671.7 998.7,671.6 1000.1,671.6 1001.5,672.1 1003.0,671.8 1004.4,672.3 1005.8,672.6 1007.3,672.2 1008.7,671.8 1010.1,672.3 1011.6,673.2 1013.0,673.8 1014.4,673.3 1015.8,673.6 1017.3,674.8 1018.7,675.2 1020.1,675.5 1021.6,675.5 1023.0,675.7 1024.4,675.5 1025.9,674.9 1027.3,674.4 1028.7,674.3 1030.1,673.8 1031.6,673.0 1033.0,672.6 1034.4,672.9 1035.9,673.3 1037.3,673.0 1038.7,672.4 1040.2,672.5 1041.6,672.8 1043.0,672.2 1044.4,672.9 1045.9,673.3 1047.3,673.6 1048.7,674.4 1050.2,673.8 1051.6,673.2 1053.0,673.3 1054.5,674.5 1055.9,675.3 1057.3,675.1 1058.7,674.5 1060.2,674.5 1061.6,675.0 1063.0,675.5 1064.5,675.7 1065.9,675.8 1067.3,675.6 1068.8,675.5 1070.2,676.5 1071.6,676.5 1073.0,676.5 1074.5,677.7 1075.9,677.8 1077.3,677.0 1078.8,677.3 1080.2,677.4 1081.6,677.3 1083.1,678.0 1084.5,678.5 1085.9,679.3 1087.3,679.3 1088.8,679.7 1090.2,680.2 1091.6,679.8 1093.1,679.6 1094.5,680.6 1095.9,681.0 1097.4,680.7 1098.8,680.9 1100.2,680.8 1101.6,680.5 1103.1,680.7 1104.5,681.2 1105.9,681.6 1107.4,681.6 1108.8,681.0 1110.2,680.9 1111.7,681.4 1113.1,681.8 1114.5,682.1 1115.9,682.0 1117.4,682.0 1118.8,682.2 1120.2,682.6 1121.7,682.6 1123.1,682.3 1124.5,682.6 1126.0,683.0 1127.4,682.7 1128.8,682.3 1130.2,682.6 1131.7,682.1 1133.1,682.4 1134.5,683.0 1136.0,682.5 1137.4,683.0 1138.8,683.1 1140.3,682.7 1141.7,682.7 1143.1,682.3 1144.5,681.4 1146.0,681.5 1147.4,681.9 1148.8,681.3 1150.3,681.2 1151.7,681.8 1153.1,682.2 1154.6,682.1 1156.0,681.8 1157.4,682.1 1158.8,682.2 1160.3,682.2 1161.7,682.7 1163.1,682.6 1164.6,682.6 1166.0,682.6 1167.4,682.3 1168.9,682.6 1170.3,683.0 1171.7,683.6 1173.1,683.7 1174.6,683.8 1176.0,683.9 1177.4,683.7 1178.9,683.9 1180.3,683.9 1181.7,683.9 1183.2,684.3 1184.6,684.2 1186.0,684.3 1187.4,684.2 1188.9,684.0 1190.3,683.9 1191.7,683.9 1193.2,684.9 1194.6,685.2 1196.0,685.3 1197.5,684.9 1198.9,684.1 1200.3,684.6 1201.7,684.9 1203.2,684.9 1204.6,684.2 1206.0,684.0 1207.5,684.6 1208.9,684.6 1210.3,684.8 1211.8,684.8 1213.2,684.4 1214.6,684.3 1216.0,684.4 1217.5,684.5 1218.9,684.9 1220.3,685.7 1221.8,685.7 1223.2,685.2 1224.6,685.0 1226.1,684.8 1227.5,685.1 1228.9,685.4 1230.3,685.4 1231.8,685.1 1233.2,685.2 1234.6,685.0 1236.1,684.9 1237.5,685.0 1238.9,685.0 1240.4,684.9 1241.8,684.8 1243.2,685.2 1244.6,685.0 1246.1,685.3 1247.5,685.4 1248.9,684.7 1250.4,684.9 1251.8,684.9 1253.2,684.6 1254.7,684.8 1256.1,684.9 1257.5,685.3 1258.9,684.7 1260.4,684.1 1261.8,684.8 1263.2,684.8 1264.7,684.6 1266.1,685.1 1267.5,684.8 1269.0,684.5 1270.4,685.1 1271.8,685.0 1273.2,684.4 1274.7,684.4 1276.1,685.0 1277.5,685.5 1279.0,686.0 1280.4,686.4 1281.8,685.6 1283.3,685.7 1284.7,686.4 1286.1,686.7 1287.5,686.5 1289.0,686.1 1290.4,686.4" fill="none" stroke="#339ca8" stroke-width="1.65" stroke-linejoin="round" stroke-linecap="round"/><polyline points="744.1,668.4 745.6,669.1 747.0,669.3 748.4,669.5 749.9,669.1 751.3,668.8 752.7,669.6 754.2,669.6 755.6,669.2 757.0,669.6 758.4,669.4 759.9,669.3 761.3,669.5 762.7,670.2 764.2,670.2 765.6,669.4 767.0,669.4 768.5,669.7 769.9,669.3 771.3,668.7 772.7,668.2 774.2,668.3 775.6,668.7 777.0,668.6 778.5,667.9 779.9,667.8 781.3,668.2 782.8,667.2 784.2,666.5 785.6,666.1 787.0,665.5 788.5,665.4 789.9,665.2 791.3,664.5 792.8,664.4 794.2,664.3 795.6,663.4 797.1,662.8 798.5,662.3 799.9,662.2 801.3,662.0 802.8,661.4 804.2,661.4 805.6,662.3 807.1,662.6 808.5,663.1 809.9,663.7 811.4,663.7 812.8,663.4 814.2,663.8 815.6,664.8 817.1,665.1 818.5,665.5 819.9,665.8 821.4,665.9 822.8,666.4 824.2,666.9 825.7,666.7 827.1,666.8 828.5,667.4 829.9,668.1 831.4,667.7 832.8,667.4 834.2,668.5 835.7,669.2 837.1,669.5 838.5,668.8 840.0,667.8 841.4,667.8 842.8,667.8 844.2,668.1 845.7,668.2 847.1,667.3 848.5,666.9 850.0,666.6 851.4,666.1 852.8,666.3 854.3,666.2 855.7,665.8 857.1,665.8 858.5,665.8 860.0,665.3 861.4,665.0 862.8,664.6 864.3,664.6 865.7,664.8 867.1,664.6 868.6,664.8 870.0,664.3 871.4,663.5 872.8,663.6 874.3,663.7 875.7,663.5 877.1,663.3 878.6,663.1 880.0,662.0 881.4,661.3 882.9,660.9 884.3,660.7 885.7,660.7 887.1,660.6 888.6,660.4 890.0,659.9 891.4,659.8 892.9,659.6 894.3,658.8 895.7,658.4 897.2,658.8 898.6,659.3 900.0,659.1 901.4,658.5 902.9,658.6 904.3,658.7 905.7,658.5 907.2,658.3 908.6,658.1 910.0,657.8 911.5,657.9 912.9,658.4 914.3,658.6 915.7,658.8 917.2,659.2 918.6,659.5 920.0,659.1 921.5,658.9 922.9,659.7 924.3,660.2 925.8,661.1 927.2,662.4 928.6,663.3 930.0,663.7 931.5,664.1 932.9,664.4 934.3,665.1 935.8,665.0 937.2,665.2 938.6,666.0 940.1,666.1 941.5,666.0 942.9,665.7 944.3,665.9 945.8,666.3 947.2,666.7 948.6,666.7 950.1,666.8 951.5,667.2 952.9,667.1 954.4,667.1 955.8,667.3 957.2,667.4 958.6,668.3 960.1,668.3 961.5,668.2 962.9,668.1 964.4,667.5 965.8,667.1 967.2,666.7 968.7,666.3 970.1,665.2 971.5,663.9 972.9,662.9 974.4,664.6 975.8,665.7 977.2,666.1 978.7,666.8 980.1,666.9 981.5,667.5 983.0,668.5 984.4,668.9 985.8,668.7 987.2,669.0 988.7,669.4 990.1,669.3 991.5,669.3 993.0,669.1 994.4,668.9 995.8,668.6 997.3,667.9 998.7,667.8 1000.1,667.5 1001.5,667.1 1003.0,668.4 1004.4,669.6 1005.8,669.1 1007.3,669.3 1008.7,669.9 1010.1,669.9 1011.6,669.6 1013.0,669.3 1014.4,669.4 1015.8,669.3 1017.3,669.1 1018.7,668.2 1020.1,667.7 1021.6,667.2 1023.0,665.8 1024.4,664.8 1025.9,664.1 1027.3,665.8 1028.7,667.2 1030.1,668.1 1031.6,669.5 1033.0,670.3 1034.4,670.4 1035.9,670.9 1037.3,671.7 1038.7,672.3 1040.2,672.7 1041.6,672.1 1043.0,672.0 1044.4,672.5 1045.9,672.7 1047.3,672.5 1048.7,672.4 1050.2,673.1 1051.6,673.1 1053.0,672.8 1054.5,672.6 1055.9,672.9 1057.3,672.7 1058.7,672.0 1060.2,672.2 1061.6,672.4 1063.0,673.2 1064.5,673.4 1065.9,672.8 1067.3,672.9 1068.8,673.4 1070.2,673.8 1071.6,674.2 1073.0,674.7 1074.5,674.9 1075.9,675.0 1077.3,675.8 1078.8,676.3 1080.2,677.2 1081.6,678.5 1083.1,678.9 1084.5,678.8 1085.9,678.8 1087.3,678.8 1088.8,678.7 1090.2,679.3 1091.6,679.5 1093.1,679.6 1094.5,680.2 1095.9,680.6 1097.4,680.9 1098.8,680.9 1100.2,681.0 1101.6,680.6 1103.1,680.9 1104.5,681.7 1105.9,682.3 1107.4,682.6 1108.8,682.3 1110.2,681.8 1111.7,682.5 1113.1,682.8 1114.5,683.4 1115.9,683.4 1117.4,682.2 1118.8,681.8 1120.2,682.4 1121.7,681.9 1123.1,681.2 1124.5,680.6 1126.0,680.2 1127.4,679.8 1128.8,678.4 1130.2,677.3 1131.7,677.2 1133.1,677.2 1134.5,677.6 1136.0,679.1 1137.4,679.6 1138.8,679.2 1140.3,678.9 1141.7,678.9 1143.1,679.0 1144.5,678.6 1146.0,679.0 1147.4,679.2 1148.8,678.1 1150.3,677.9 1151.7,677.5 1153.1,676.7 1154.6,676.3 1156.0,675.9 1157.4,675.5 1158.8,674.5 1160.3,674.0 1161.7,673.5 1163.1,672.8 1164.6,672.9 1166.0,672.2 1167.4,671.2 1168.9,671.0 1170.3,670.8 1171.7,671.4 1173.1,671.2 1174.6,671.5 1176.0,672.5 1177.4,671.5 1178.9,670.8 1180.3,670.5 1181.7,671.0 1183.2,672.0 1184.6,672.8 1186.0,673.5 1187.4,674.5 1188.9,675.0 1190.3,675.4 1191.7,676.1 1193.2,676.6 1194.6,676.3 1196.0,676.0 1197.5,675.6 1198.9,675.1 1200.3,674.6 1201.7,674.3 1203.2,673.9 1204.6,673.7 1206.0,673.7 1207.5,673.6 1208.9,673.2 1210.3,672.9 1211.8,672.6 1213.2,672.1 1214.6,672.1 1216.0,672.3 1217.5,672.0 1218.9,671.1 1220.3,670.3 1221.8,670.3 1223.2,669.4 1224.6,668.8 1226.1,668.3 1227.5,667.6 1228.9,667.7 1230.3,667.6 1231.8,667.8 1233.2,667.7 1234.6,667.0 1236.1,666.8 1237.5,666.6 1238.9,665.8 1240.4,665.8 1241.8,666.2 1243.2,666.0 1244.6,665.2 1246.1,665.3 1247.5,665.4 1248.9,665.0 1250.4,665.4 1251.8,666.0 1253.2,665.7 1254.7,665.2 1256.1,666.4 1257.5,667.2 1258.9,667.3 1260.4,666.8 1261.8,667.6 1263.2,668.9 1264.7,668.6 1266.1,669.9 1267.5,670.4 1269.0,669.0 1270.4,668.9 1271.8,668.4 1273.2,667.9 1274.7,667.1 1276.1,665.9 1277.5,665.2 1279.0,664.1 1280.4,663.3 1281.8,663.9 1283.3,663.6 1284.7,662.6 1286.1,662.9 1287.5,662.8 1289.0,661.9 1290.4,661.1" fill="none" stroke="#cda819" stroke-width="1.65" stroke-linejoin="round" stroke-linecap="round"/><polyline points="744.1,669.4 745.6,669.0 747.0,669.3 748.4,669.6 749.9,669.7 751.3,669.5 752.7,668.9 754.2,669.1 755.6,669.1 757.0,668.8 758.4,668.4 759.9,668.4 761.3,668.5 762.7,668.7 764.2,668.5 765.6,667.3 767.0,667.2 768.5,668.1 769.9,667.7 771.3,666.6 772.7,666.4 774.2,665.6 775.6,665.4 777.0,665.8 778.5,665.3 779.9,665.3 781.3,665.2 782.8,664.4 784.2,664.3 785.6,664.9 787.0,665.5 788.5,665.5 789.9,664.9 791.3,664.3 792.8,664.1 794.2,664.4 795.6,664.1 797.1,663.8 798.5,664.0 799.9,663.5 801.3,662.9 802.8,663.1 804.2,663.1 805.6,662.7 807.1,662.4 808.5,662.2 809.9,662.7 811.4,663.2 812.8,662.5 814.2,662.4 815.6,663.1 817.1,663.3 818.5,663.1 819.9,663.3 821.4,664.0 822.8,664.1 824.2,664.3 825.7,663.9 827.1,663.6 828.5,664.4 829.9,665.1 831.4,665.1 832.8,665.1 834.2,665.0 835.7,665.1 837.1,665.0 838.5,664.4 840.0,663.8 841.4,663.8 842.8,663.8 844.2,663.8 845.7,664.0 847.1,663.9 848.5,664.5 850.0,665.0 851.4,665.7 852.8,666.3 854.3,665.6 855.7,665.8 857.1,666.9 858.5,667.2 860.0,666.9 861.4,666.6 862.8,667.2 864.3,667.9 865.7,667.6 867.1,667.0 868.6,666.6 870.0,667.0 871.4,667.2 872.8,666.9 874.3,667.3 875.7,667.7 877.1,666.9 878.6,666.1 880.0,666.7 881.4,666.5 882.9,665.7 884.3,665.5 885.7,664.7 887.1,663.3 888.6,662.7 890.0,662.5 891.4,661.9 892.9,660.6 894.3,660.0 895.7,659.4 897.2,658.3 898.6,657.5 900.0,657.8 901.4,658.8 902.9,659.2 904.3,659.2 905.7,659.4 907.2,659.9 908.6,660.2 910.0,659.7 911.5,660.3 912.9,660.7 914.3,660.6 915.7,660.7 917.2,660.7 918.6,660.7 920.0,660.6 921.5,660.5 922.9,660.0 924.3,659.7 925.8,659.9 927.2,659.7 928.6,659.6 930.0,659.7 931.5,659.3 932.9,659.3 934.3,659.8 935.8,660.7 937.2,661.1 938.6,660.9 940.1,660.5 941.5,661.1 942.9,661.3 944.3,660.9 945.8,660.9 947.2,661.4 948.6,661.4 950.1,660.9 951.5,660.8 952.9,660.6 954.4,660.2 955.8,660.3 957.2,659.6 958.6,659.8 960.1,660.8 961.5,660.0 962.9,659.2 964.4,659.0 965.8,659.0 967.2,659.4 968.7,659.5 970.1,659.0 971.5,658.5 972.9,658.8 974.4,659.1 975.8,660.1 977.2,660.3 978.7,659.8 980.1,659.9 981.5,660.3 983.0,661.3 984.4,661.6 985.8,661.5 987.2,661.1 988.7,661.1 990.1,661.6 991.5,661.8 993.0,662.3 994.4,662.3 995.8,661.8 997.3,661.8 998.7,662.3 1000.1,662.6 1001.5,662.9 1003.0,663.2 1004.4,663.0 1005.8,662.7 1007.3,663.4 1008.7,664.0 1010.1,664.2 1011.6,664.4 1013.0,664.8 1014.4,665.1 1015.8,664.9 1017.3,664.6 1018.7,664.1 1020.1,663.2 1021.6,663.2 1023.0,663.9 1024.4,663.6 1025.9,663.4 1027.3,663.8 1028.7,663.5 1030.1,663.2 1031.6,662.9 1033.0,663.6 1034.4,664.1 1035.9,664.1 1037.3,664.2 1038.7,664.5 1040.2,665.3 1041.6,665.3 1043.0,665.1 1044.4,664.9 1045.9,665.2 1047.3,665.4 1048.7,665.0 1050.2,665.3 1051.6,665.4 1053.0,664.5 1054.5,664.3 1055.9,665.2 1057.3,665.2 1058.7,664.1 1060.2,663.6 1061.6,664.0 1063.0,664.2 1064.5,663.8 1065.9,663.7 1067.3,663.9 1068.8,664.5 1070.2,664.6 1071.6,664.2 1073.0,663.8 1074.5,664.1 1075.9,665.0 1077.3,665.1 1078.8,664.5 1080.2,664.5 1081.6,665.3 1083.1,665.3 1084.5,665.4 1085.9,666.1 1087.3,666.7 1088.8,666.2 1090.2,665.5 1091.6,666.3 1093.1,667.2 1094.5,667.3 1095.9,667.3 1097.4,667.5 1098.8,667.9 1100.2,667.2 1101.6,666.8 1103.1,666.9 1104.5,666.5 1105.9,666.3 1107.4,666.1 1108.8,666.3 1110.2,666.3 1111.7,666.6 1113.1,666.3 1114.5,665.7 1115.9,665.8 1117.4,665.7 1118.8,665.9 1120.2,665.8 1121.7,665.4 1123.1,665.2 1124.5,665.1 1126.0,665.1 1127.4,665.3 1128.8,665.2 1130.2,664.9 1131.7,664.8 1133.1,664.9 1134.5,664.7 1136.0,664.6 1137.4,664.5 1138.8,664.3 1140.3,664.8 1141.7,664.4 1143.1,663.6 1144.5,663.0 1146.0,662.9 1147.4,663.0 1148.8,662.9 1150.3,662.6 1151.7,662.4 1153.1,663.0 1154.6,662.8 1156.0,662.2 1157.4,661.5 1158.8,661.4 1160.3,661.8 1161.7,661.8 1163.1,661.1 1164.6,660.5 1166.0,660.5 1167.4,660.4 1168.9,660.5 1170.3,660.8 1171.7,661.3 1173.1,661.2 1174.6,661.0 1176.0,660.4 1177.4,660.3 1178.9,660.9 1180.3,660.4 1181.7,660.6 1183.2,660.8 1184.6,661.3 1186.0,661.5 1187.4,660.7 1188.9,660.2 1190.3,661.2 1191.7,661.9 1193.2,662.0 1194.6,662.1 1196.0,661.7 1197.5,661.8 1198.9,661.7 1200.3,661.5 1201.7,660.9 1203.2,660.6 1204.6,660.6 1206.0,660.0 1207.5,659.7 1208.9,659.5 1210.3,659.8 1211.8,660.5 1213.2,660.5 1214.6,660.5 1216.0,660.9 1217.5,661.3 1218.9,661.8 1220.3,662.2 1221.8,662.4 1223.2,662.7 1224.6,662.4 1226.1,662.4 1227.5,662.8 1228.9,662.5 1230.3,662.3 1231.8,662.8 1233.2,663.1 1234.6,662.7 1236.1,662.6 1237.5,663.4 1238.9,663.8 1240.4,663.5 1241.8,663.7 1243.2,663.5 1244.6,663.2 1246.1,663.8 1247.5,663.8 1248.9,663.4 1250.4,663.7 1251.8,664.6 1253.2,663.8 1254.7,663.5 1256.1,664.0 1257.5,664.0 1258.9,664.0 1260.4,664.9 1261.8,665.2 1263.2,664.7 1264.7,664.6 1266.1,664.2 1267.5,664.1 1269.0,664.4 1270.4,664.9 1271.8,664.8 1273.2,664.5 1274.7,664.0 1276.1,663.4 1277.5,663.4 1279.0,662.8 1280.4,663.7 1281.8,663.7 1283.3,662.4 1284.7,661.9 1286.1,661.4 1287.5,661.0 1289.0,661.0 1290.4,660.7" fill="none" stroke="#32a487" stroke-width="1.65" stroke-linejoin="round" stroke-linecap="round"/><polyline points="744.1,670.4 745.6,670.5 747.0,670.3 748.4,670.3 749.9,670.7 751.3,670.8 752.7,670.8 754.2,670.7 755.6,671.0 757.0,671.3 758.4,671.0 759.9,671.1 761.3,671.0 762.7,670.6 764.2,670.8 765.6,670.8 767.0,669.9 768.5,669.5 769.9,670.0 771.3,670.3 772.7,670.0 774.2,670.0 775.6,669.5 777.0,669.0 778.5,669.3 779.9,668.9 781.3,668.5 782.8,668.4 784.2,667.7 785.6,667.3 787.0,667.6 788.5,667.2 789.9,666.1 791.3,665.7 792.8,665.9 794.2,665.7 795.6,666.0 797.1,666.0 798.5,666.4 799.9,666.7 801.3,665.5 802.8,665.2 804.2,665.9 805.6,666.1 807.1,665.3 808.5,665.4 809.9,665.4 811.4,665.7 812.8,665.6 814.2,665.1 815.6,665.3 817.1,665.0 818.5,664.7 819.9,664.9 821.4,664.9 822.8,664.3 824.2,664.1 825.7,664.4 827.1,664.3 828.5,663.7 829.9,663.3 831.4,662.5 832.8,662.2 834.2,662.2 835.7,662.1 837.1,661.6 838.5,661.0 840.0,660.4 841.4,660.1 842.8,660.2 844.2,660.1 845.7,660.5 847.1,660.6 848.5,660.5 850.0,661.0 851.4,661.6 852.8,661.0 854.3,660.4 855.7,661.2 857.1,661.9 858.5,661.5 860.0,660.8 861.4,660.5 862.8,660.7 864.3,660.2 865.7,658.9 867.1,658.1 868.6,657.7 870.0,658.1 871.4,658.0 872.8,657.8 874.3,657.8 875.7,657.1 877.1,657.0 878.6,657.0 880.0,656.9 881.4,656.3 882.9,655.7 884.3,655.7 885.7,655.8 887.1,655.8 888.6,655.4 890.0,655.2 891.4,655.9 892.9,656.6 894.3,655.9 895.7,655.5 897.2,655.8 898.6,655.6 900.0,655.8 901.4,656.1 902.9,656.3 904.3,656.4 905.7,655.8 907.2,654.9 908.6,654.8 910.0,655.7 911.5,655.2 912.9,655.0 914.3,655.0 915.7,654.0 917.2,653.5 918.6,653.7 920.0,653.5 921.5,653.0 922.9,652.3 924.3,651.7 925.8,652.1 927.2,652.7 928.6,652.9 930.0,653.6 931.5,654.0 932.9,654.1 934.3,654.2 935.8,654.2 937.2,654.5 938.6,654.8 940.1,655.0 941.5,655.1 942.9,655.1 944.3,655.0 945.8,655.1 947.2,654.9 948.6,654.7 950.1,655.1 951.5,655.1 952.9,654.3 954.4,653.9 955.8,654.2 957.2,653.9 958.6,654.0 960.1,654.6 961.5,654.9 962.9,655.1 964.4,654.6 965.8,654.3 967.2,655.6 968.7,656.3 970.1,656.4 971.5,657.2 972.9,657.0 974.4,656.5 975.8,657.0 977.2,657.5 978.7,657.4 980.1,657.6 981.5,657.9 983.0,658.1 984.4,657.6 985.8,657.0 987.2,657.6 988.7,658.1 990.1,658.4 991.5,658.6 993.0,658.5 994.4,659.2 995.8,659.8 997.3,659.7 998.7,659.5 1000.1,658.9 1001.5,658.6 1003.0,658.7 1004.4,658.3 1005.8,658.2 1007.3,658.8 1008.7,659.0 1010.1,659.3 1011.6,660.0 1013.0,660.1 1014.4,659.9 1015.8,660.0 1017.3,660.1 1018.7,660.0 1020.1,659.4 1021.6,658.8 1023.0,659.6 1024.4,659.9 1025.9,659.4 1027.3,659.2 1028.7,659.2 1030.1,659.6 1031.6,660.1 1033.0,659.5 1034.4,658.8 1035.9,659.3 1037.3,659.4 1038.7,659.2 1040.2,659.2 1041.6,659.0 1043.0,659.3 1044.4,660.2 1045.9,660.3 1047.3,659.9 1048.7,660.2 1050.2,660.4 1051.6,659.7 1053.0,659.3 1054.5,659.3 1055.9,659.3 1057.3,659.7 1058.7,659.4 1060.2,658.9 1061.6,658.9 1063.0,658.5 1064.5,658.2 1065.9,659.0 1067.3,659.9 1068.8,659.6 1070.2,660.0 1071.6,660.8 1073.0,661.4 1074.5,661.8 1075.9,662.2 1077.3,662.3 1078.8,661.8 1080.2,661.7 1081.6,661.6 1083.1,662.1 1084.5,662.8 1085.9,663.1 1087.3,663.2 1088.8,662.8 1090.2,662.8 1091.6,663.4 1093.1,663.9 1094.5,664.4 1095.9,665.1 1097.4,665.2 1098.8,664.2 1100.2,663.5 1101.6,663.2 1103.1,663.0 1104.5,663.0 1105.9,663.0 1107.4,663.0 1108.8,663.1 1110.2,663.3 1111.7,662.7 1113.1,662.5 1114.5,662.4 1115.9,662.1 1117.4,662.3 1118.8,661.7 1120.2,661.1 1121.7,661.6 1123.1,661.3 1124.5,660.7 1126.0,660.8 1127.4,660.5 1128.8,659.9 1130.2,659.6 1131.7,659.6 1133.1,660.0 1134.5,660.3 1136.0,660.1 1137.4,659.6 1138.8,659.5 1140.3,659.9 1141.7,660.1 1143.1,660.0 1144.5,660.0 1146.0,660.6 1147.4,660.9 1148.8,660.4 1150.3,659.7 1151.7,659.7 1153.1,660.4 1154.6,661.0 1156.0,661.0 1157.4,660.6 1158.8,661.0 1160.3,661.7 1161.7,661.4 1163.1,661.0 1164.6,661.3 1166.0,661.3 1167.4,661.2 1168.9,660.8 1170.3,660.3 1171.7,660.2 1173.1,659.9 1174.6,660.1 1176.0,660.4 1177.4,660.8 1178.9,660.9 1180.3,661.0 1181.7,660.9 1183.2,660.4 1184.6,661.0 1186.0,661.0 1187.4,661.0 1188.9,661.5 1190.3,660.2 1191.7,659.7 1193.2,660.1 1194.6,660.2 1196.0,660.1 1197.5,659.9 1198.9,660.2 1200.3,660.2 1201.7,660.1 1203.2,659.9 1204.6,659.3 1206.0,659.8 1207.5,659.9 1208.9,659.2 1210.3,659.2 1211.8,659.7 1213.2,659.7 1214.6,659.3 1216.0,659.6 1217.5,660.2 1218.9,660.1 1220.3,659.8 1221.8,659.9 1223.2,660.8 1224.6,661.1 1226.1,661.0 1227.5,661.2 1228.9,661.0 1230.3,660.7 1231.8,660.3 1233.2,660.5 1234.6,660.0 1236.1,659.5 1237.5,658.9 1238.9,658.3 1240.4,658.6 1241.8,658.8 1243.2,658.6 1244.6,658.7 1246.1,658.5 1247.5,658.3 1248.9,658.8 1250.4,658.6 1251.8,657.8 1253.2,657.9 1254.7,657.7 1256.1,657.5 1257.5,658.3 1258.9,659.0 1260.4,658.9 1261.8,659.7 1263.2,660.1 1264.7,659.6 1266.1,659.2 1267.5,659.1 1269.0,659.8 1270.4,659.4 1271.8,659.4 1273.2,659.1 1274.7,658.2 1276.1,658.2 1277.5,658.1 1279.0,658.1 1280.4,657.8 1281.8,657.5 1283.3,657.1 1284.7,656.8 1286.1,657.4 1287.5,657.2 1289.0,656.8 1290.4,656.6" fill="none" stroke="#c12e34" stroke-width="1.65" stroke-linejoin="round" stroke-linecap="round"/><polyline points="744.1,667.3 745.6,666.9 747.0,667.5 748.4,668.1 749.9,668.3 751.3,668.2 752.7,668.8 754.2,669.0 755.6,668.9 757.0,669.3 758.4,669.5 759.9,669.3 761.3,668.8 762.7,669.4 764.2,669.3 765.6,668.8 767.0,668.7 768.5,668.1 769.9,667.8 771.3,667.6 772.7,667.4 774.2,666.5 775.6,666.0 777.0,666.4 778.5,665.8 779.9,665.3 781.3,665.8 782.8,666.1 784.2,665.2 785.6,664.4 787.0,663.8 788.5,663.8 789.9,663.4 791.3,662.4 792.8,662.4 794.2,662.0 795.6,661.2 797.1,661.5 798.5,661.0 799.9,660.5 801.3,660.8 802.8,660.9 804.2,660.7 805.6,660.9 807.1,661.4 808.5,662.2 809.9,662.9 811.4,662.5 812.8,662.8 814.2,663.5 815.6,663.6 817.1,663.7 818.5,664.0 819.9,663.9 821.4,664.1 822.8,665.0 824.2,665.8 825.7,666.3 827.1,666.1 828.5,665.6 829.9,664.9 831.4,664.5 832.8,664.7 834.2,664.8 835.7,664.7 837.1,664.4 838.5,664.8 840.0,665.5 841.4,666.2 842.8,666.1 844.2,666.6 845.7,667.1 847.1,666.6 848.5,666.8 850.0,667.2 851.4,667.5 852.8,667.4 854.3,667.4 855.7,667.3 857.1,666.1 858.5,665.7 860.0,665.7 861.4,664.6 862.8,663.4 864.3,662.8 865.7,661.6 867.1,661.3 868.6,661.1 870.0,660.3 871.4,659.3 872.8,658.0 874.3,657.4 875.7,655.6 877.1,653.1 878.6,651.9 880.0,653.0 881.4,654.1 882.9,654.5 884.3,654.9 885.7,655.2 887.1,655.1 888.6,655.1 890.0,655.0 891.4,654.1 892.9,653.8 894.3,653.6 895.7,653.1 897.2,652.7 898.6,652.6 900.0,652.5 901.4,652.7 902.9,652.6 904.3,651.5 905.7,650.1 907.2,648.8 908.6,647.3 910.0,645.2 911.5,644.6 912.9,646.1 914.3,647.9 915.7,649.1 917.2,649.8 918.6,650.8 920.0,651.3 921.5,651.6 922.9,652.2 924.3,652.5 925.8,652.9 927.2,653.3 928.6,653.4 930.0,654.1 931.5,654.4 932.9,653.8 934.3,653.7 935.8,654.0 937.2,654.2 938.6,654.1 940.1,654.2 941.5,654.4 942.9,654.4 944.3,654.2 945.8,654.7 947.2,654.9 948.6,654.6 950.1,654.7 951.5,654.8 952.9,654.8 954.4,654.1 955.8,653.5 957.2,653.7 958.6,653.2 960.1,652.6 961.5,652.9 962.9,652.9 964.4,652.4 965.8,652.7 967.2,653.0 968.7,652.9 970.1,652.5 971.5,651.8 972.9,651.4 974.4,651.2 975.8,650.4 977.2,650.4 978.7,651.6 980.1,652.1 981.5,652.4 983.0,653.0 984.4,653.5 985.8,653.7 987.2,653.6 988.7,654.8 990.1,655.3 991.5,654.8 993.0,654.0 994.4,653.0 995.8,652.9 997.3,652.9 998.7,652.9 1000.1,652.8 1001.5,652.1 1003.0,651.8 1004.4,652.1 1005.8,652.3 1007.3,652.7 1008.7,652.3 1010.1,651.9 1011.6,652.1 1013.0,652.3 1014.4,651.7 1015.8,651.7 1017.3,652.8 1018.7,654.0 1020.1,654.7 1021.6,655.3 1023.0,655.2 1024.4,654.9 1025.9,654.3 1027.3,653.6 1028.7,653.1 1030.1,652.3 1031.6,650.4 1033.0,649.9 1034.4,650.3 1035.9,650.3 1037.3,649.8 1038.7,649.8 1040.2,649.7 1041.6,649.3 1043.0,649.0 1044.4,648.5 1045.9,648.8 1047.3,648.9 1048.7,649.6 1050.2,650.6 1051.6,651.0 1053.0,651.2 1054.5,651.2 1055.9,651.7 1057.3,652.5 1058.7,653.1 1060.2,654.0 1061.6,654.1 1063.0,653.9 1064.5,654.6 1065.9,655.2 1067.3,655.9 1068.8,656.0 1070.2,655.1 1071.6,654.5 1073.0,654.4 1074.5,654.6 1075.9,654.7 1077.3,654.5 1078.8,654.0 1080.2,653.7 1081.6,653.5 1083.1,653.4 1084.5,653.7 1085.9,653.6 1087.3,653.5 1088.8,654.4 1090.2,655.1 1091.6,655.0 1093.1,655.5 1094.5,656.3 1095.9,656.6 1097.4,656.8 1098.8,656.9 1100.2,657.0 1101.6,656.7 1103.1,656.5 1104.5,657.0 1105.9,657.2 1107.4,656.7 1108.8,656.1 1110.2,656.0 1111.7,655.7 1113.1,654.9 1114.5,653.4 1115.9,651.6 1117.4,651.1 1118.8,650.4 1120.2,649.3 1121.7,648.3 1123.1,648.1 1124.5,647.2 1126.0,646.6 1127.4,646.3 1128.8,646.1 1130.2,646.9 1131.7,647.4 1133.1,646.4 1134.5,645.3 1136.0,645.6 1137.4,645.4 1138.8,644.3 1140.3,644.9 1141.7,645.6 1143.1,645.6 1144.5,646.6 1146.0,647.4 1147.4,647.6 1148.8,648.6 1150.3,649.6 1151.7,650.6 1153.1,650.6 1154.6,650.6 1156.0,650.8 1157.4,650.7 1158.8,650.6 1160.3,650.1 1161.7,650.2 1163.1,650.4 1164.6,650.1 1166.0,650.0 1167.4,651.1 1168.9,651.3 1170.3,651.5 1171.7,652.3 1173.1,653.0 1174.6,653.5 1176.0,653.1 1177.4,652.9 1178.9,652.2 1180.3,651.6 1181.7,650.1 1183.2,649.2 1184.6,648.2 1186.0,646.9 1187.4,646.4 1188.9,646.3 1190.3,645.8 1191.7,645.4 1193.2,644.3 1194.6,643.5 1196.0,644.5 1197.5,645.0 1198.9,644.9 1200.3,645.6 1201.7,646.3 1203.2,646.7 1204.6,647.7 1206.0,648.4 1207.5,648.5 1208.9,648.9 1210.3,650.5 1211.8,651.3 1213.2,651.9 1214.6,653.1 1216.0,654.1 1217.5,654.9 1218.9,654.4 1220.3,654.0 1221.8,653.7 1223.2,654.3 1224.6,654.3 1226.1,653.3 1227.5,653.4 1228.9,653.5 1230.3,653.0 1231.8,652.8 1233.2,652.8 1234.6,652.8 1236.1,653.2 1237.5,652.9 1238.9,652.6 1240.4,652.7 1241.8,653.1 1243.2,653.3 1244.6,653.1 1246.1,653.3 1247.5,652.9 1248.9,652.7 1250.4,653.2 1251.8,653.5 1253.2,653.6 1254.7,653.4 1256.1,653.3 1257.5,653.3 1258.9,653.5 1260.4,653.8 1261.8,653.5 1263.2,653.8 1264.7,654.0 1266.1,653.7 1267.5,654.1 1269.0,653.8 1270.4,653.0 1271.8,653.3 1273.2,653.8 1274.7,653.4 1276.1,653.4 1277.5,653.4 1279.0,652.6 1280.4,652.0 1281.8,651.4 1283.3,651.1 1284.7,651.6 1286.1,651.2 1287.5,650.8 1289.0,650.4 1290.4,650.3" fill="none" stroke="#e6b600" stroke-width="1.65" stroke-linejoin="round" stroke-linecap="round"/><polyline points="744.1,669.4 745.6,669.8 747.0,669.3 748.4,668.7 749.9,668.6 751.3,667.4 752.7,666.3 754.2,667.6 755.6,668.9 757.0,668.7 758.4,668.3 759.9,668.4 761.3,668.5 762.7,668.6 764.2,668.8 765.6,669.1 767.0,669.5 768.5,668.4 769.9,667.2 771.3,665.9 772.7,664.0 774.2,662.8 775.6,661.0 777.0,660.4 778.5,661.9 779.9,662.4 781.3,663.5 782.8,663.6 784.2,663.0 785.6,663.4 787.0,664.1 788.5,663.3 789.9,661.1 791.3,658.9 792.8,657.5 794.2,656.5 795.6,656.0 797.1,654.7 798.5,653.5 799.9,652.5 801.3,652.9 802.8,653.2 804.2,653.4 805.6,654.0 807.1,653.8 808.5,653.0 809.9,652.3 811.4,651.4 812.8,650.5 814.2,649.9 815.6,648.6 817.1,647.9 818.5,648.8 819.9,649.7 821.4,650.8 822.8,651.7 824.2,652.3 825.7,652.3 827.1,651.4 828.5,650.1 829.9,648.3 831.4,646.6 832.8,644.8 834.2,643.2 835.7,642.0 837.1,640.9 838.5,640.1 840.0,638.9 841.4,638.1 842.8,638.3 844.2,638.3 845.7,639.6 847.1,641.1 848.5,642.1 850.0,643.1 851.4,644.7 852.8,646.2 854.3,647.1 855.7,648.2 857.1,648.6 858.5,647.0 860.0,644.9 861.4,642.9 862.8,641.1 864.3,638.7 865.7,637.6 867.1,636.6 868.6,635.5 870.0,635.0 871.4,634.8 872.8,633.8 874.3,631.5 875.7,629.4 877.1,628.3 878.6,629.4 880.0,631.7 881.4,633.3 882.9,631.6 884.3,630.9 885.7,631.5 887.1,631.3 888.6,631.2 890.0,630.2 891.4,629.5 892.9,628.3 894.3,627.2 895.7,626.4 897.2,626.1 898.6,623.2 900.0,618.7 901.4,614.6 902.9,610.8 904.3,609.4 905.7,610.9 907.2,613.5 908.6,616.5 910.0,614.9 911.5,614.9 912.9,617.4 914.3,616.7 915.7,615.9 917.2,615.6 918.6,616.4 920.0,618.5 921.5,620.7 922.9,620.4 924.3,618.1 925.8,617.1 927.2,617.0 928.6,618.4 930.0,620.7 931.5,621.4 932.9,621.8 934.3,622.5 935.8,625.1 937.2,628.1 938.6,631.1 940.1,631.5 941.5,630.7 942.9,630.8 944.3,629.3 945.8,627.0 947.2,625.6 948.6,624.5 950.1,623.3 951.5,622.8 952.9,623.9 954.4,624.2 955.8,623.5 957.2,621.5 958.6,619.7 960.1,618.0 961.5,616.1 962.9,614.6 964.4,613.0 965.8,611.0 967.2,609.6 968.7,608.5 970.1,607.4 971.5,608.4 972.9,609.3 974.4,609.9 975.8,608.7 977.2,607.4 978.7,609.0 980.1,610.4 981.5,609.7 983.0,609.8 984.4,609.6 985.8,606.2 987.2,602.1 988.7,599.9 990.1,599.9 991.5,599.6 993.0,598.9 994.4,597.6 995.8,596.6 997.3,597.1 998.7,600.8 1000.1,603.4 1001.5,606.0 1003.0,608.9 1004.4,610.3 1005.8,613.5 1007.3,619.5 1008.7,620.1 1010.1,619.9 1011.6,620.1 1013.0,620.7 1014.4,620.7 1015.8,621.1 1017.3,621.7 1018.7,617.9 1020.1,615.9 1021.6,614.3 1023.0,612.7 1024.4,612.6 1025.9,612.7 1027.3,613.5 1028.7,613.8 1030.1,614.0 1031.6,614.7 1033.0,613.2 1034.4,611.5 1035.9,615.6 1037.3,618.9 1038.7,619.0 1040.2,620.1 1041.6,621.6 1043.0,621.2 1044.4,621.7 1045.9,622.9 1047.3,623.1 1048.7,623.3 1050.2,623.3 1051.6,623.3 1053.0,622.6 1054.5,621.2 1055.9,619.5 1057.3,618.9 1058.7,619.9 1060.2,620.9 1061.6,621.9 1063.0,623.0 1064.5,624.5 1065.9,624.2 1067.3,623.0 1068.8,621.8 1070.2,621.4 1071.6,620.5 1073.0,619.7 1074.5,619.6 1075.9,619.8 1077.3,620.2 1078.8,621.2 1080.2,621.5 1081.6,620.8 1083.1,621.1 1084.5,620.8 1085.9,620.4 1087.3,621.9 1088.8,623.4 1090.2,623.0 1091.6,621.1 1093.1,618.7 1094.5,617.6 1095.9,617.8 1097.4,618.4 1098.8,617.9 1100.2,615.9 1101.6,613.9 1103.1,613.0 1104.5,613.2 1105.9,613.3 1107.4,613.1 1108.8,613.1 1110.2,613.2 1111.7,613.9 1113.1,613.0 1114.5,610.4 1115.9,607.8 1117.4,606.6 1118.8,605.3 1120.2,603.5 1121.7,599.5 1123.1,595.1 1124.5,594.0 1126.0,594.3 1127.4,594.5 1128.8,595.1 1130.2,596.2 1131.7,599.0 1133.1,601.5 1134.5,600.5 1136.0,600.1 1137.4,598.7 1138.8,596.2 1140.3,593.8 1141.7,592.3 1143.1,593.6 1144.5,594.0 1146.0,594.7 1147.4,594.9 1148.8,595.0 1150.3,596.0 1151.7,596.3 1153.1,596.1 1154.6,596.9 1156.0,597.5 1157.4,594.2 1158.8,594.4 1160.3,595.8 1161.7,595.3 1163.1,595.6 1164.6,595.1 1166.0,592.7 1167.4,591.1 1168.9,589.9 1170.3,589.1 1171.7,589.4 1173.1,590.6 1174.6,593.0 1176.0,596.1 1177.4,597.5 1178.9,598.2 1180.3,596.3 1181.7,594.1 1183.2,592.1 1184.6,589.8 1186.0,587.6 1187.4,585.3 1188.9,585.7 1190.3,587.7 1191.7,589.5 1193.2,591.0 1194.6,593.3 1196.0,595.9 1197.5,597.8 1198.9,599.5 1200.3,600.9 1201.7,601.2 1203.2,600.5 1204.6,600.4 1206.0,601.2 1207.5,601.2 1208.9,601.7 1210.3,603.1 1211.8,604.1 1213.2,604.6 1214.6,605.9 1216.0,607.4 1217.5,608.1 1218.9,607.1 1220.3,605.7 1221.8,604.3 1223.2,605.1 1224.6,607.1 1226.1,608.5 1227.5,608.6 1228.9,608.5 1230.3,608.7 1231.8,609.5 1233.2,609.1 1234.6,607.6 1236.1,606.0 1237.5,605.7 1238.9,606.2 1240.4,607.0 1241.8,606.3 1243.2,604.8 1244.6,604.2 1246.1,605.2 1247.5,606.3 1248.9,607.6 1250.4,607.9 1251.8,607.9 1253.2,608.4 1254.7,609.6 1256.1,611.0 1257.5,612.4 1258.9,613.2 1260.4,614.1 1261.8,614.3 1263.2,612.9 1264.7,612.1 1266.1,611.2 1267.5,610.2 1269.0,609.9 1270.4,609.5 1271.8,608.2 1273.2,608.0 1274.7,608.4 1276.1,608.3 1277.5,607.7 1279.0,608.1 1280.4,609.5 1281.8,610.5 1283.3,609.9 1284.7,610.0 1286.1,610.5 1287.5,611.1 1289.0,611.8 1290.4,613.5" fill="none" stroke="#0098d9" stroke-width="1.65" stroke-linejoin="round" stroke-linecap="round"/><line x1="714.9" y1="762.5" x2="732.7" y2="762.5" stroke="#c12e34" stroke-width="1.6"/><circle cx="723.8" cy="762.5" r="4.3" fill="#c12e34" fill-opacity="0.85"/><text x="736.4" y="764.7" font-size="7.1" fill="#555" textLength="28.0" lengthAdjust="spacingAndGlyphs">市场因子</text><line x1="772.2" y1="762.5" x2="790.0" y2="762.5" stroke="#e6b600" stroke-width="1.6"/><circle cx="781.1" cy="762.5" r="4.3" fill="#e6b600" fill-opacity="0.85"/><text x="793.7" y="764.7" font-size="7.1" fill="#555" textLength="28.0" lengthAdjust="spacingAndGlyphs">申万环保</text><line x1="829.7" y1="762.5" x2="847.5" y2="762.5" stroke="#0098d9" stroke-width="1.6"/><circle cx="838.6" cy="762.5" r="4.3" fill="#0098d9" fill-opacity="0.85"/><text x="851.2" y="764.7" font-size="7.1" fill="#555" textLength="28.0" lengthAdjust="spacingAndGlyphs">申万电子</text><line x1="887.0" y1="762.5" x2="904.8" y2="762.5" stroke="#2b821d" stroke-width="1.6"/><circle cx="895.9" cy="762.5" r="4.3" fill="#2b821d" fill-opacity="0.85"/><text x="908.5" y="764.7" font-size="7.1" fill="#555" textLength="42.2" lengthAdjust="spacingAndGlyphs">申万轻工制造</text><line x1="958.7" y1="762.5" x2="976.5" y2="762.5" stroke="#005eaa" stroke-width="1.6"/><circle cx="967.6" cy="762.5" r="4.3" fill="#005eaa" fill-opacity="0.85"/><text x="980.2" y="764.7" font-size="7.1" fill="#555" textLength="28.0" lengthAdjust="spacingAndGlyphs">申万传媒</text><line x1="1015.9" y1="762.5" x2="1033.7" y2="762.5" stroke="#339ca8" stroke-width="1.6"/><circle cx="1024.8" cy="762.5" r="4.3" fill="#339ca8" fill-opacity="0.85"/><text x="1037.4" y="764.7" font-size="7.1" fill="#555" textLength="28.0" lengthAdjust="spacingAndGlyphs">申万钢铁</text><line x1="1073.4" y1="762.5" x2="1091.2" y2="762.5" stroke="#cda819" stroke-width="1.6"/><circle cx="1082.3" cy="762.5" r="4.3" fill="#cda819" fill-opacity="0.85"/><text x="1094.9" y="764.7" font-size="7.1" fill="#555" textLength="42.2" lengthAdjust="spacingAndGlyphs">申万社会服务</text><line x1="1144.9" y1="762.5" x2="1162.7" y2="762.5" stroke="#32a487" stroke-width="1.6"/><circle cx="1153.8" cy="762.5" r="4.3" fill="#32a487" fill-opacity="0.85"/><text x="1166.4" y="764.7" font-size="7.1" fill="#555" textLength="42.2" lengthAdjust="spacingAndGlyphs">申万交通运输</text><line x1="1216.6" y1="762.5" x2="1234.4" y2="762.5" stroke="#c12e34" stroke-width="1.6"/><circle cx="1225.5" cy="762.5" r="4.3" fill="#c12e34" fill-opacity="0.85"/><text x="1238.1" y="764.7" font-size="7.1" fill="#555" textLength="28.0" lengthAdjust="spacingAndGlyphs">申万综合</text><path d="M1288.2,758.4 L1280.2,762.6 L1288.2,766.8 Z" fill="#c5d6f4"/><text x="1295.2" y="765.6" font-size="8.6" fill="#555">1/2</text><path d="M1315.3,758.4 L1322.3,762.6 L1315.3,766.8 Z" fill="#2f6fde"/></svg>
</body>
</html>
